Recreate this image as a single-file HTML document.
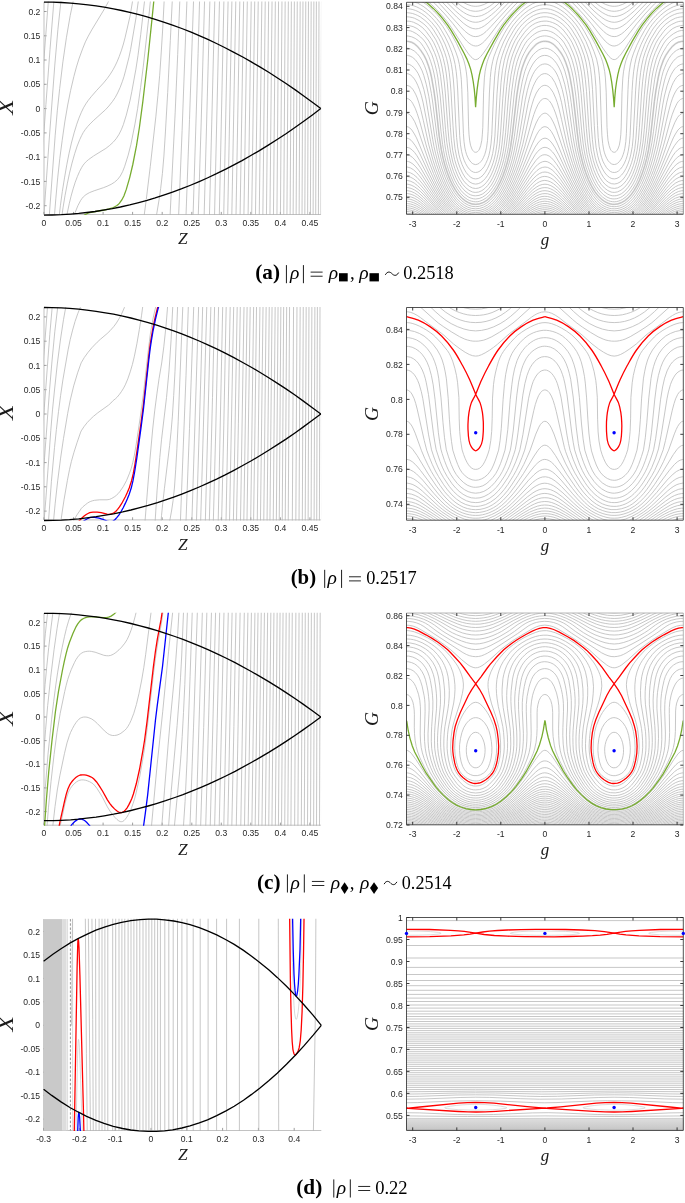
<!DOCTYPE html>
<html><head><meta charset="utf-8"><style>
html,body{margin:0;padding:0;background:#fff;}
body{width:685px;height:1203px;overflow:hidden;}
svg{display:block;will-change:transform;}
</style></head><body>
<svg width="685" height="1203" viewBox="0 0 685 1203"><path d="M44 1.8V214.5H320.8" fill="none" stroke="#a8a8a8" stroke-width="0.7"/>
<path d="M44 11.5h2.6" stroke="#777" stroke-width="0.7"/>
<text x="40.4" y="14.6" font-family="Liberation Sans" font-size="8.6" text-anchor="end" fill="#262626" >0.2</text>
<path d="M44 35.8h2.6" stroke="#777" stroke-width="0.7"/>
<text x="40.4" y="38.9" font-family="Liberation Sans" font-size="8.6" text-anchor="end" fill="#262626" >0.15</text>
<path d="M44 60h2.6" stroke="#777" stroke-width="0.7"/>
<text x="40.4" y="63.1" font-family="Liberation Sans" font-size="8.6" text-anchor="end" fill="#262626" >0.1</text>
<path d="M44 84.3h2.6" stroke="#777" stroke-width="0.7"/>
<text x="40.4" y="87.4" font-family="Liberation Sans" font-size="8.6" text-anchor="end" fill="#262626" >0.05</text>
<path d="M44 108.6h2.6" stroke="#777" stroke-width="0.7"/>
<text x="40.4" y="111.7" font-family="Liberation Sans" font-size="8.6" text-anchor="end" fill="#262626" >0</text>
<path d="M44 132.9h2.6" stroke="#777" stroke-width="0.7"/>
<text x="40.4" y="136" font-family="Liberation Sans" font-size="8.6" text-anchor="end" fill="#262626" >-0.05</text>
<path d="M44 157.2h2.6" stroke="#777" stroke-width="0.7"/>
<text x="40.4" y="160.2" font-family="Liberation Sans" font-size="8.6" text-anchor="end" fill="#262626" >-0.1</text>
<path d="M44 181.4h2.6" stroke="#777" stroke-width="0.7"/>
<text x="40.4" y="184.5" font-family="Liberation Sans" font-size="8.6" text-anchor="end" fill="#262626" >-0.15</text>
<path d="M44 205.7h2.6" stroke="#777" stroke-width="0.7"/>
<text x="40.4" y="208.8" font-family="Liberation Sans" font-size="8.6" text-anchor="end" fill="#262626" >-0.2</text>
<path d="M44 214.5v-2.6" stroke="#777" stroke-width="0.7"/>
<text x="44" y="225.7" font-family="Liberation Sans" font-size="8.6" text-anchor="middle" fill="#262626" >0</text>
<path d="M73.5 214.5v-2.6" stroke="#777" stroke-width="0.7"/>
<text x="73.5" y="225.7" font-family="Liberation Sans" font-size="8.6" text-anchor="middle" fill="#262626" >0.05</text>
<path d="M103.1 214.5v-2.6" stroke="#777" stroke-width="0.7"/>
<text x="103.1" y="225.7" font-family="Liberation Sans" font-size="8.6" text-anchor="middle" fill="#262626" >0.1</text>
<path d="M132.6 214.5v-2.6" stroke="#777" stroke-width="0.7"/>
<text x="132.6" y="225.7" font-family="Liberation Sans" font-size="8.6" text-anchor="middle" fill="#262626" >0.15</text>
<path d="M162.2 214.5v-2.6" stroke="#777" stroke-width="0.7"/>
<text x="162.2" y="225.7" font-family="Liberation Sans" font-size="8.6" text-anchor="middle" fill="#262626" >0.2</text>
<path d="M191.8 214.5v-2.6" stroke="#777" stroke-width="0.7"/>
<text x="191.8" y="225.7" font-family="Liberation Sans" font-size="8.6" text-anchor="middle" fill="#262626" >0.25</text>
<path d="M221.3 214.5v-2.6" stroke="#777" stroke-width="0.7"/>
<text x="221.3" y="225.7" font-family="Liberation Sans" font-size="8.6" text-anchor="middle" fill="#262626" >0.3</text>
<path d="M250.8 214.5v-2.6" stroke="#777" stroke-width="0.7"/>
<text x="250.8" y="225.7" font-family="Liberation Sans" font-size="8.6" text-anchor="middle" fill="#262626" >0.35</text>
<path d="M280.4 214.5v-2.6" stroke="#777" stroke-width="0.7"/>
<text x="280.4" y="225.7" font-family="Liberation Sans" font-size="8.6" text-anchor="middle" fill="#262626" >0.4</text>
<path d="M309.9 214.5v-2.6" stroke="#777" stroke-width="0.7"/>
<text x="309.9" y="225.7" font-family="Liberation Sans" font-size="8.6" text-anchor="middle" fill="#262626" >0.45</text>
<clipPath id="lca"><rect x="43.7" y="1.5" width="277.4" height="213.6"/></clipPath><g clip-path="url(#lca)"><g fill="none" stroke="#b4b4b4" stroke-width="0.75"><path d="M38.1 142.6L43.3 67.8L48.7 -4.0"/><path d="M38.1 219.6L41.9 161.3L45.9 104.6L50.0 49.6L54.3 -4.0"/><path d="M43.5 221.2L49.1 141.0L54.8 65.0L57.9 29.5L61.5 -4.0"/><path d="M48.9 221.2L55.2 135.2L57.3 110.8L59.7 88.5L62.9 61.8L66.4 37.7L70.2 15.6L74.3 -4.0"/><path d="M54.0 221.2L55.8 198.9L57.7 177.9L59.8 158.4L62.2 140.3L64.8 121.9L67.7 105.0L70.6 90.5L73.9 76.4L76.4 67.1L78.9 59.0L82.6 48.8L85.4 41.9L88.3 36.1L91.8 29.8L104.9 8.2L108.0 2.4L111.0 -4.0"/><path d="M58.6 221.2L60.4 205.7L62.3 191.6L64.5 177.9L66.8 164.7L69.1 153.1L71.4 143.1L74.1 132.9L76.8 124.1L78.9 118.2L81.4 112.2L83.5 107.8L85.8 103.9L88.3 100.3L91.6 96.2L96.4 90.7L103.5 83.0L107.2 78.5L110.2 74.3L113.0 69.8L115.1 65.9L117.0 61.9L119.2 56.6L121.5 50.1L123.4 44.0L125.0 37.9L130.1 15.9L133.4 -4.0"/><path d="M61.1 221.2L63.1 207.3L65.0 195.7L67.4 183.2L69.5 173.2L72.0 163.1L74.7 153.6L77.2 146.0L79.7 139.7L81.6 135.6L83.3 132.4L85.3 129.5L87.6 126.6L90.1 123.9L93.3 120.7L105.5 109.7L108.9 106.0L112.4 101.6L115.2 97.5L117.6 93.0L120.1 87.5L122.4 81.4L124.0 76.5L125.7 70.2L129.0 57.1L130.6 49.5L136.1 17.3L139.0 -4.0"/><path d="M65.6 221.2L69.3 203.4L71.0 196.4L73.1 188.9L75.2 182.3L77.4 176.5L79.5 171.6L81.6 167.6L83.1 165.2L84.7 163.2L86.4 161.4L88.5 159.6L93.7 155.9L105.9 148.4L109.7 145.4L113.2 142.2L116.1 138.8L118.8 134.7L121.3 129.8L123.4 124.5L126.3 115.1L130.1 100.2L131.8 91.6L135.9 69.2L138.0 55.4L140.7 34.7L145.1 -4.0"/><path d="M72.3 221.2L75.2 212.3L77.9 205.7L80.6 200.5L82.0 198.5L83.3 196.9L86.0 194.6L89.5 192.6L94.1 190.8L103.4 187.7L107.0 186.3L111.2 184.3L114.5 182.2L117.6 179.5L120.3 176.0L122.6 171.7L124.7 166.3L128.2 155.1L130.9 144.5L135.1 123.3L137.6 108.7L140.6 87.5L143.2 67.2L148.4 21.0L150.9 -4.0"/><path d="M143.4 221.2L146.3 199.3L150.3 166.2L155.9 116.2L157.9 95.5L159.7 75.2L161.2 53.0L162.8 27.2L164.4 -4.0"/><path d="M155.5 221.2L159.1 199.6L160.7 188.3L162.4 173.5L163.9 156.1L165.3 134.0L167.7 92.4L170.3 40.7L172.5 -4.0"/><path d="M169.8 221.2L175.2 112.1L177.7 54.5L180.0 -4.0"/><path d="M178.4 221.2L182.1 130.6L187.1 -4.0"/><path d="M185.8 221.2L189.5 119.4L193.7 -4.0"/><path d="M192.9 221.2L198.1 53.4L199.7 -4.0"/><path d="M198.1 221.2L201.2 122.0L204.7 -4.0"/><path d="M204.0 221.2L210.0 -4.0"/><path d="M209.3 221.2L214.9 -4.0"/><path d="M214.4 221.2L219.6 -4.0"/><path d="M219.2 221.2L224.0 -4.0"/><path d="M223.6 221.2L228.2 -4.0"/><path d="M227.6 221.2L232.0 -4.0"/><path d="M231.7 221.2L235.9 -4.0"/><path d="M235.9 221.2L239.9 -4.0"/><path d="M240.0 221.2L243.7 -4.0"/><path d="M243.8 221.2L247.4 -4.0"/><path d="M248.0 221.2L251.3 -4.0"/><path d="M251.6 221.2L254.8 -4.0"/><path d="M255.4 221.2L258.3 -4.0"/><path d="M259.2 221.2L261.9 -4.0"/><path d="M262.8 221.2L265.3 -4.0"/><path d="M266.4 221.2L268.7 -4.0"/><path d="M269.9 221.2L272.1 -4.0"/><path d="M273.4 221.2L275.4 -4.0"/><path d="M276.9 221.2L278.6 -4.0"/><path d="M280.4 221.2L282.0 -4.0"/><path d="M283.7 221.2L285.2 -4.0"/><path d="M286.9 221.2L288.4 -4.0"/><path d="M290.1 221.2L291.4 -4.0"/><path d="M293.1 221.2L294.4 -4.0"/><path d="M296.1 221.2L297.3 -4.0"/><path d="M299.1 221.2L300.2 -4.0"/><path d="M302.0 221.2L303.0 -4.0"/><path d="M304.8 221.2L305.8 -4.0"/><path d="M307.6 221.2L308.5 -4.0"/><path d="M310.4 221.2L311.2 -4.0"/><path d="M313.1 221.2L313.9 -4.0"/><path d="M315.7 221.2L316.4 -4.0"/><path d="M318.4 221.2L319.0 -4.0"/><path d="M320.9 221.2L321.5 -4.0"/></g><path d="M79.3 221.2L81.0 218.5L82.9 216.3L84.9 214.8L87.4 213.5L89.7 212.7L92.8 212.0L104.5 210.0L109.1 208.9L113.4 207.5L116.6 205.8L118.2 204.6L119.5 203.2L121.8 200.0L124.0 195.7L126.3 189.4L129.7 177.6L132.8 164.5L136.5 145.7L139.4 127.5L142.8 101.8L147.8 59.5L152.4 15.1L154.3 -4.0" fill="none" stroke="#77ac30" stroke-width="1.3"/></g><path d="M44.0 2.1L52.1 2.2L61.4 2.5L70.6 3.1L78.7 3.8L88.0 4.8L96.1 5.9L104.2 7.2L113.5 8.8L121.6 10.5L130.9 12.6L139.0 14.7L147.1 16.9L155.2 19.3L164.4 22.3L172.5 25.1L181.8 28.5L191.1 32.2L199.2 35.6L207.3 39.2L216.5 43.5L224.6 47.5L233.9 52.3L243.2 57.3L251.3 61.9L259.4 66.6L268.7 72.3L277.9 78.2L286.0 83.5L295.3 89.9L303.4 95.7L312.7 102.5L320.8 108.6" fill="none" stroke="#000" stroke-width="1.3"/><path d="M44.0 215.1L52.1 215.0L61.4 214.7L70.6 214.1L78.7 213.4L86.8 212.5L95.0 211.5L103.1 210.2L112.3 208.6L120.4 207.0L129.7 204.9L137.8 202.8L147.1 200.3L155.2 197.9L164.4 194.9L172.5 192.1L181.8 188.7L189.9 185.5L199.2 181.6L207.3 178.0L216.5 173.7L225.8 169.1L233.9 164.9L242.0 160.6L251.3 155.3L259.4 150.6L268.7 144.9L277.9 139.0L286.0 133.7L295.3 127.3L303.4 121.5L312.7 114.7L320.8 108.6" fill="none" stroke="#000" stroke-width="1.3"/>
<text x="182.7" y="244.1" font-family="Liberation Serif" font-size="17.3" text-anchor="middle" fill="#1a1a1a" font-style="italic" >Z</text>
<text transform="translate(13.0 107) rotate(-90)" x="0" y="0" font-family="Liberation Serif" font-style="italic" font-size="21.5" text-anchor="middle" textLength="15.4" lengthAdjust="spacingAndGlyphs" fill="#1a1a1a">X</text>
<path d="M44 307.2V519.9H320.8" fill="none" stroke="#a8a8a8" stroke-width="0.7"/>
<path d="M44 316.9h2.6" stroke="#777" stroke-width="0.7"/>
<text x="40.4" y="320" font-family="Liberation Sans" font-size="8.6" text-anchor="end" fill="#262626" >0.2</text>
<path d="M44 341.2h2.6" stroke="#777" stroke-width="0.7"/>
<text x="40.4" y="344.3" font-family="Liberation Sans" font-size="8.6" text-anchor="end" fill="#262626" >0.15</text>
<path d="M44 365.4h2.6" stroke="#777" stroke-width="0.7"/>
<text x="40.4" y="368.6" font-family="Liberation Sans" font-size="8.6" text-anchor="end" fill="#262626" >0.1</text>
<path d="M44 389.7h2.6" stroke="#777" stroke-width="0.7"/>
<text x="40.4" y="392.8" font-family="Liberation Sans" font-size="8.6" text-anchor="end" fill="#262626" >0.05</text>
<path d="M44 414h2.6" stroke="#777" stroke-width="0.7"/>
<text x="40.4" y="417.1" font-family="Liberation Sans" font-size="8.6" text-anchor="end" fill="#262626" >0</text>
<path d="M44 438.3h2.6" stroke="#777" stroke-width="0.7"/>
<text x="40.4" y="441.4" font-family="Liberation Sans" font-size="8.6" text-anchor="end" fill="#262626" >-0.05</text>
<path d="M44 462.6h2.6" stroke="#777" stroke-width="0.7"/>
<text x="40.4" y="465.7" font-family="Liberation Sans" font-size="8.6" text-anchor="end" fill="#262626" >-0.1</text>
<path d="M44 486.8h2.6" stroke="#777" stroke-width="0.7"/>
<text x="40.4" y="489.9" font-family="Liberation Sans" font-size="8.6" text-anchor="end" fill="#262626" >-0.15</text>
<path d="M44 511.1h2.6" stroke="#777" stroke-width="0.7"/>
<text x="40.4" y="514.2" font-family="Liberation Sans" font-size="8.6" text-anchor="end" fill="#262626" >-0.2</text>
<path d="M44 519.9v-2.6" stroke="#777" stroke-width="0.7"/>
<text x="44" y="531.1" font-family="Liberation Sans" font-size="8.6" text-anchor="middle" fill="#262626" >0</text>
<path d="M73.5 519.9v-2.6" stroke="#777" stroke-width="0.7"/>
<text x="73.5" y="531.1" font-family="Liberation Sans" font-size="8.6" text-anchor="middle" fill="#262626" >0.05</text>
<path d="M103.1 519.9v-2.6" stroke="#777" stroke-width="0.7"/>
<text x="103.1" y="531.1" font-family="Liberation Sans" font-size="8.6" text-anchor="middle" fill="#262626" >0.1</text>
<path d="M132.6 519.9v-2.6" stroke="#777" stroke-width="0.7"/>
<text x="132.6" y="531.1" font-family="Liberation Sans" font-size="8.6" text-anchor="middle" fill="#262626" >0.15</text>
<path d="M162.2 519.9v-2.6" stroke="#777" stroke-width="0.7"/>
<text x="162.2" y="531.1" font-family="Liberation Sans" font-size="8.6" text-anchor="middle" fill="#262626" >0.2</text>
<path d="M191.8 519.9v-2.6" stroke="#777" stroke-width="0.7"/>
<text x="191.8" y="531.1" font-family="Liberation Sans" font-size="8.6" text-anchor="middle" fill="#262626" >0.25</text>
<path d="M221.3 519.9v-2.6" stroke="#777" stroke-width="0.7"/>
<text x="221.3" y="531.1" font-family="Liberation Sans" font-size="8.6" text-anchor="middle" fill="#262626" >0.3</text>
<path d="M250.8 519.9v-2.6" stroke="#777" stroke-width="0.7"/>
<text x="250.8" y="531.1" font-family="Liberation Sans" font-size="8.6" text-anchor="middle" fill="#262626" >0.35</text>
<path d="M280.4 519.9v-2.6" stroke="#777" stroke-width="0.7"/>
<text x="280.4" y="531.1" font-family="Liberation Sans" font-size="8.6" text-anchor="middle" fill="#262626" >0.4</text>
<path d="M309.9 519.9v-2.6" stroke="#777" stroke-width="0.7"/>
<text x="309.9" y="531.1" font-family="Liberation Sans" font-size="8.6" text-anchor="middle" fill="#262626" >0.45</text>
<clipPath id="lcb"><rect x="43.7" y="306.9" width="277.4" height="213.6"/></clipPath><g clip-path="url(#lcb)"><g fill="none" stroke="#b4b4b4" stroke-width="0.75"><path d="M38.1 418.9L44.3 349.7L47.9 301.4"/><path d="M38.1 476.9L44.3 407.7L49.8 334.3L52.7 301.4"/><path d="M38.3 526.6L44.6 457.2L49.6 389.2L52.0 361.0L54.8 331.6L58.4 301.4"/><path d="M43.6 526.6L45.8 499.7L50.8 430.3L52.5 409.9L54.5 390.0L57.3 364.0L60.4 340.0L63.5 319.6L66.8 301.4"/><path d="M48.1 526.6L51.4 481.6L54.5 447.5L56.4 429.5L58.5 411.6L60.6 395.5L62.9 379.8L68.1 349.8L70.2 339.6L72.6 330.1L75.1 321.3L77.8 313.5L80.4 307.2L83.5 301.4"/><path d="M53.0 526.6L55.2 503.3L57.7 480.8L60.6 458.1L63.5 438.4L67.7 413.3L70.2 400.4L73.7 385.9L77.6 372.9L81.2 362.8L84.3 357.5L88.0 352.4L92.0 347.6L97.2 342.2L100.6 339.1L107.2 333.5L110.1 330.7L113.9 326.4L116.4 323.0L119.3 318.3L122.0 313.1L124.4 307.5L126.6 301.4"/><path d="M60.1 526.6L62.2 512.0L64.1 499.4L67.4 480.4L69.5 469.6L71.4 461.4L73.9 452.5L77.2 442.2L80.4 432.9L81.2 430.9L84.1 426.5L87.2 422.6L90.3 419.3L93.5 416.3L97.8 412.8L108.6 405.1L110.9 403.0L113.2 400.5L115.3 398.9L117.4 396.9L119.5 394.3L121.6 391.3L123.6 388.1L125.3 384.8L127.8 378.9L130.2 371.9L132.4 364.5L134.4 356.2L136.9 343.7L139.3 329.7L141.5 315.8L143.4 301.4"/><path d="M70.9 526.6L72.4 523.1L74.3 519.3L77.0 514.8L80.3 510.0L81.2 508.6L83.1 506.6L85.3 504.8L87.4 503.2L89.1 502.1L90.7 501.4L92.4 500.8L94.5 500.3L99.7 499.8L107.0 499.8L109.5 499.4L111.8 498.4L114.9 496.5L116.6 495.1L118.2 493.6L119.9 491.5L123.2 486.7L126.5 480.6L129.3 473.8L131.3 468.2L132.8 462.4L134.4 455.1L136.1 445.0L140.1 418.2L143.2 395.7L148.3 350.4L150.3 334.2L151.7 325.9L153.2 317.9L155.1 309.4L157.2 301.4"/><path d="M144.6 526.6L149.9 459.9L152.7 429.0L154.7 410.9L156.9 393.9L159.1 378.4L161.7 363.0L163.8 346.8L166.1 325.1L168.0 301.4"/><path d="M154.8 526.6L157.1 490.2L159.8 457.3L161.5 439.8L166.5 397.6L169.0 371.0L171.1 339.7L173.0 301.4"/><path d="M160.8 526.6L161.5 515.7L162.7 503.8L164.4 488.6L169.6 445.7L171.1 431.2L172.4 416.1L173.7 395.5L175.0 371.3L177.8 301.4"/><path d="M168.7 526.6L171.7 510.0L173.1 500.5L174.5 487.0L175.7 469.3L176.9 448.7L178.2 421.6L183.0 301.4"/><path d="M180.2 526.6L186.0 375.7L188.5 301.4"/><path d="M185.8 526.6L189.5 428.3L193.9 301.4"/><path d="M191.7 526.6L198.8 301.4"/><path d="M196.3 526.6L201.0 371.0L202.8 301.4"/><path d="M200.5 526.6L203.4 427.1L206.9 301.4"/><path d="M205.2 526.6L211.0 301.4"/><path d="M209.2 526.6L212.5 397.3L214.7 301.4"/><path d="M213.2 526.6L215.8 428.0L218.7 301.4"/><path d="M218.1 526.6L222.8 301.4"/><path d="M221.5 526.6L223.8 425.1L226.3 301.4"/><path d="M225.9 526.6L230.3 301.4"/><path d="M229.4 526.6L233.8 301.4"/><path d="M233.3 526.6L237.3 301.4"/><path d="M236.4 526.6L238.4 423.2L240.4 301.4"/><path d="M240.4 526.6L244.1 301.4"/><path d="M243.7 526.6L247.2 301.4"/><path d="M246.9 526.6L250.3 301.4"/><path d="M250.6 526.6L253.7 301.4"/><path d="M253.5 526.6L255.0 425.1L256.6 301.4"/><path d="M257.2 526.6L260.0 301.4"/><path d="M260.4 526.6L263.1 301.4"/><path d="M263.7 526.6L266.2 301.4"/><path d="M267.0 526.6L269.3 301.4"/><path d="M269.9 526.6L272.1 301.4"/><path d="M273.2 526.6L275.2 301.4"/><path d="M276.3 526.6L278.1 301.4"/><path d="M279.2 526.6L280.9 301.4"/><path d="M282.2 526.6L283.7 301.4"/><path d="M285.2 526.6L286.7 301.4"/><path d="M288.2 526.6L289.6 301.4"/><path d="M292.3 526.6L293.6 301.4"/><path d="M295.8 526.6L297.0 301.4"/><path d="M299.0 526.6L300.2 301.4"/><path d="M302.3 526.6L303.3 301.4"/><path d="M305.2 526.6L306.2 301.4"/><path d="M308.1 526.6L309.0 301.4"/><path d="M311.1 526.6L311.9 301.4"/><path d="M314.1 526.6L314.9 301.4"/><path d="M316.7 526.6L317.4 301.4"/><path d="M319.4 526.6L320.0 301.4"/><path d="M321.9 526.6L322.5 301.4"/></g><path d="M74.6 526.6L78.1 522.0L82.2 517.7L84.1 516.1L86.2 514.5L88.0 513.5L89.7 512.7L91.2 512.3L93.0 512.1L97.2 512.2L101.2 512.7L107.0 514.2L109.3 514.4L111.6 514.0L113.9 512.8L115.7 511.4L117.6 509.4L119.5 506.9L121.6 503.7L125.5 496.5L127.4 492.3L129.2 488.0L131.5 481.0L133.2 473.9L134.9 464.6L137.0 450.9L140.9 423.8L143.4 404.9L148.8 355.8L150.1 345.0L151.4 336.8L153.0 327.5L155.0 318.1L157.1 309.4L159.3 301.4" fill="none" stroke="#ff0000" stroke-width="1.3"/><path d="M77.4 526.6L82.2 522.2L84.9 520.2L88.1 518.3L89.7 517.7L91.0 517.4L92.6 517.3L94.5 517.4L99.1 518.2L102.0 519.0L107.2 521.1L109.3 521.7L111.3 521.7L113.2 521.1L115.1 519.5L117.0 517.4L119.0 514.8L121.1 511.5L123.2 507.7L125.3 503.4L127.4 498.7L129.2 494.3L131.3 487.8L133.0 480.7L134.7 471.4L136.9 457.6L140.9 428.7L143.4 409.5L148.8 359.9L150.1 349.1L151.5 339.9L153.2 330.0L155.5 319.1L157.7 310.1L160.2 301.4" fill="none" stroke="#0000ff" stroke-width="1.3"/></g><path d="M44.0 307.5L52.1 307.6L61.4 307.9L69.5 308.4L78.7 309.2L86.8 310.1L96.1 311.3L105.4 312.8L113.5 314.2L122.7 316.1L130.9 318.0L139.0 320.1L148.2 322.6L157.5 325.4L165.6 328.1L173.7 330.9L181.8 333.9L189.9 337.1L199.2 341.0L207.3 344.6L216.6 348.9L224.7 352.9L233.9 357.7L243.2 362.7L251.3 367.2L260.6 372.7L268.7 377.7L277.9 383.6L286.0 388.9L295.3 395.3L303.4 401.1L312.7 407.9L320.8 414.0" fill="none" stroke="#000" stroke-width="1.3"/><path d="M44.0 520.5L53.3 520.4L61.4 520.1L69.5 519.6L78.7 518.8L86.8 517.9L96.1 516.7L105.4 515.2L113.5 513.8L122.7 511.9L130.9 510.0L139.0 507.9L148.2 505.4L157.5 502.6L165.6 499.9L173.7 497.1L181.8 494.1L189.9 490.9L199.2 487.0L207.3 483.4L216.6 479.1L224.7 475.1L233.9 470.3L243.2 465.3L251.3 460.8L260.6 455.3L268.7 450.3L277.9 444.4L286.0 439.1L295.3 432.7L303.4 426.9L312.7 420.1L320.8 414.0" fill="none" stroke="#000" stroke-width="1.3"/>
<text x="182.7" y="549.5" font-family="Liberation Serif" font-size="17.3" text-anchor="middle" fill="#1a1a1a" font-style="italic" >Z</text>
<text transform="translate(13.0 412.4) rotate(-90)" x="0" y="0" font-family="Liberation Serif" font-style="italic" font-size="21.5" text-anchor="middle" textLength="15.4" lengthAdjust="spacingAndGlyphs" fill="#1a1a1a">X</text>
<path d="M44 613V825.2H320.8" fill="none" stroke="#a8a8a8" stroke-width="0.7"/>
<path d="M44 622.4h2.6" stroke="#777" stroke-width="0.7"/>
<text x="40.4" y="625.5" font-family="Liberation Sans" font-size="8.6" text-anchor="end" fill="#262626" >0.2</text>
<path d="M44 646.1h2.6" stroke="#777" stroke-width="0.7"/>
<text x="40.4" y="649.2" font-family="Liberation Sans" font-size="8.6" text-anchor="end" fill="#262626" >0.15</text>
<path d="M44 669.7h2.6" stroke="#777" stroke-width="0.7"/>
<text x="40.4" y="672.8" font-family="Liberation Sans" font-size="8.6" text-anchor="end" fill="#262626" >0.1</text>
<path d="M44 693.4h2.6" stroke="#777" stroke-width="0.7"/>
<text x="40.4" y="696.5" font-family="Liberation Sans" font-size="8.6" text-anchor="end" fill="#262626" >0.05</text>
<path d="M44 717h2.6" stroke="#777" stroke-width="0.7"/>
<text x="40.4" y="720.1" font-family="Liberation Sans" font-size="8.6" text-anchor="end" fill="#262626" >0</text>
<path d="M44 740.6h2.6" stroke="#777" stroke-width="0.7"/>
<text x="40.4" y="743.7" font-family="Liberation Sans" font-size="8.6" text-anchor="end" fill="#262626" >-0.05</text>
<path d="M44 764.3h2.6" stroke="#777" stroke-width="0.7"/>
<text x="40.4" y="767.4" font-family="Liberation Sans" font-size="8.6" text-anchor="end" fill="#262626" >-0.1</text>
<path d="M44 787.9h2.6" stroke="#777" stroke-width="0.7"/>
<text x="40.4" y="791" font-family="Liberation Sans" font-size="8.6" text-anchor="end" fill="#262626" >-0.15</text>
<path d="M44 811.6h2.6" stroke="#777" stroke-width="0.7"/>
<text x="40.4" y="814.7" font-family="Liberation Sans" font-size="8.6" text-anchor="end" fill="#262626" >-0.2</text>
<path d="M44 825.2v-2.6" stroke="#777" stroke-width="0.7"/>
<text x="44" y="836.4" font-family="Liberation Sans" font-size="8.6" text-anchor="middle" fill="#262626" >0</text>
<path d="M73.5 825.2v-2.6" stroke="#777" stroke-width="0.7"/>
<text x="73.5" y="836.4" font-family="Liberation Sans" font-size="8.6" text-anchor="middle" fill="#262626" >0.05</text>
<path d="M103.1 825.2v-2.6" stroke="#777" stroke-width="0.7"/>
<text x="103.1" y="836.4" font-family="Liberation Sans" font-size="8.6" text-anchor="middle" fill="#262626" >0.1</text>
<path d="M132.6 825.2v-2.6" stroke="#777" stroke-width="0.7"/>
<text x="132.6" y="836.4" font-family="Liberation Sans" font-size="8.6" text-anchor="middle" fill="#262626" >0.15</text>
<path d="M162.2 825.2v-2.6" stroke="#777" stroke-width="0.7"/>
<text x="162.2" y="836.4" font-family="Liberation Sans" font-size="8.6" text-anchor="middle" fill="#262626" >0.2</text>
<path d="M191.8 825.2v-2.6" stroke="#777" stroke-width="0.7"/>
<text x="191.8" y="836.4" font-family="Liberation Sans" font-size="8.6" text-anchor="middle" fill="#262626" >0.25</text>
<path d="M221.3 825.2v-2.6" stroke="#777" stroke-width="0.7"/>
<text x="221.3" y="836.4" font-family="Liberation Sans" font-size="8.6" text-anchor="middle" fill="#262626" >0.3</text>
<path d="M250.8 825.2v-2.6" stroke="#777" stroke-width="0.7"/>
<text x="250.8" y="836.4" font-family="Liberation Sans" font-size="8.6" text-anchor="middle" fill="#262626" >0.35</text>
<path d="M280.4 825.2v-2.6" stroke="#777" stroke-width="0.7"/>
<text x="280.4" y="836.4" font-family="Liberation Sans" font-size="8.6" text-anchor="middle" fill="#262626" >0.4</text>
<path d="M309.9 825.2v-2.6" stroke="#777" stroke-width="0.7"/>
<text x="309.9" y="836.4" font-family="Liberation Sans" font-size="8.6" text-anchor="middle" fill="#262626" >0.45</text>
<clipPath id="lcc"><rect x="43.7" y="612.7" width="277.4" height="213.1"/></clipPath><g clip-path="url(#lcc)"><g fill="none" stroke="#b4b4b4" stroke-width="0.75"><path d="M38.1 729.2L40.6 691.5L43.0 659.9L45.4 633.2L48.2 607.3"/><path d="M38.1 786.3L41.7 728.0L45.1 684.3L46.8 666.2L48.7 647.7L51.1 626.9L53.6 607.3"/><path d="M39.0 831.4L41.4 790.7L43.5 757.4L45.6 729.5L47.7 705.5L50.6 677.9L54.1 649.3L57.0 628.9L60.5 607.3"/><path d="M42.5 831.4L45.2 789.1L48.0 754.2L51.6 719.3L53.7 701.3L55.8 685.0L57.7 672.1L59.8 659.6L62.2 647.3L64.5 636.4L66.4 628.5L68.5 621.2L71.0 613.8L73.6 607.3"/><path d="M46.6 831.4L48.5 807.1L51.0 781.6L54.1 754.3L57.0 732.5L60.2 713.3L64.7 691.6L66.2 685.2L67.7 679.6L69.3 674.8L71.2 669.7L74.5 662.4L76.0 659.6L77.6 657.2L78.9 655.4L80.3 654.1L81.8 653.0L83.3 652.2L85.3 651.6L87.2 651.3L89.3 651.2L91.4 651.4L95.1 652.2L103.9 655.3L106.3 655.7L108.4 655.8L110.7 655.4L113.2 654.3L115.9 652.5L119.0 649.8L121.7 647.1L124.9 643.1L127.1 639.6L129.0 635.5L131.1 630.1L133.2 623.6L135.3 615.8L137.3 607.3"/><path d="M52.2 831.4L55.0 806.7L57.3 790.0L59.8 775.8L64.5 753.3L67.0 742.9L69.3 735.7L70.6 732.4L72.4 728.7L74.3 725.2L76.0 722.6L77.6 720.6L78.9 719.2L80.3 718.2L81.8 717.5L83.3 717.1L85.1 717.0L87.0 717.2L88.9 717.8L91.8 719.0L94.7 721.1L97.4 723.6L104.5 730.9L107.6 733.5L109.3 734.5L110.9 735.1L112.6 735.5L114.5 735.5L117.0 735.1L119.3 734.2L120.9 733.3L124.7 730.4L126.5 728.5L128.0 726.3L129.6 723.5L131.1 720.3L133.8 713.3L136.4 704.5L139.0 693.5L141.7 680.0L143.8 667.6L145.7 654.3L151.7 607.3"/><path d="M59.0 831.4L65.0 803.5L66.8 797.0L68.3 792.6L69.3 790.4L70.4 788.4L71.6 786.7L73.1 784.9L74.9 783.2L76.6 781.8L78.3 780.8L79.9 780.2L81.6 779.9L83.3 779.9L85.3 780.2L87.4 780.8L89.5 781.7L91.2 782.6L92.8 783.6L94.3 785.1L96.9 788.3L99.9 793.0L102.7 797.7L107.4 806.9L110.1 811.3L112.4 814.4L114.9 817.4L117.0 819.5L118.8 820.9L120.3 821.6L121.7 821.7L122.6 821.5L124.0 820.6L125.3 819.2L126.9 817.1L128.4 814.5L129.9 811.5L131.7 807.4L133.2 803.2L134.8 798.1L136.3 792.1L139.8 776.1L143.0 757.9L145.0 745.1L147.3 727.4L153.6 672.7L155.4 658.5L157.3 646.0L161.3 624.1L163.7 607.3"/><path d="M151.0 831.4L157.2 764.1L162.7 711.8L168.6 651.2L173.2 607.3"/><path d="M161.4 831.4L164.5 790.1L168.1 745.1L170.2 721.0L174.1 679.8L175.8 659.9L177.7 634.2L179.2 607.3"/><path d="M168.2 831.4L171.1 792.4L177.1 725.6L179.2 698.0L180.5 677.8L181.7 656.0L183.7 607.3"/><path d="M173.9 831.4L179.7 771.1L181.0 754.8L182.2 736.5L183.5 712.5L184.8 684.6L187.6 607.3"/><path d="M183.1 831.4L185.1 801.3L187.0 760.9L190.1 676.2L192.4 607.3"/><path d="M189.8 831.4L193.5 727.9L197.5 607.3"/><path d="M195.8 831.4L202.5 607.3"/><path d="M200.5 831.4L203.7 727.5L207.0 607.3"/><path d="M205.6 831.4L211.6 607.3"/><path d="M210.1 831.4L213.1 715.0L215.7 607.3"/><path d="M214.5 831.4L217.2 723.4L219.8 607.3"/><path d="M219.1 831.4L224.1 607.3"/><path d="M223.7 831.4L228.4 607.3"/><path d="M227.7 831.4L232.2 607.3"/><path d="M231.7 831.4L233.9 726.6L236.1 607.3"/><path d="M236.2 831.4L240.2 607.3"/><path d="M240.7 831.4L244.4 607.3"/><path d="M244.4 831.4L248.0 607.3"/><path d="M248.1 831.4L251.5 607.3"/><path d="M251.8 831.4L255.0 607.3"/><path d="M255.1 831.4L258.1 607.3"/><path d="M258.5 831.4L261.3 607.3"/><path d="M261.9 831.4L264.5 607.3"/><path d="M265.3 831.4L267.7 607.3"/><path d="M268.7 831.4L270.9 607.3"/><path d="M271.9 831.4L274.0 607.3"/><path d="M275.3 831.4L277.2 607.3"/><path d="M278.4 831.4L280.1 607.3"/><path d="M281.5 831.4L283.1 607.3"/><path d="M284.7 831.4L286.2 607.3"/><path d="M287.8 831.4L289.3 607.3"/><path d="M290.9 831.4L292.3 607.3"/><path d="M294.6 831.4L295.9 607.3"/><path d="M297.9 831.4L299.1 607.3"/><path d="M301.3 831.4L302.3 607.3"/><path d="M304.3 831.4L305.3 607.3"/><path d="M307.5 831.4L308.4 607.3"/><path d="M310.5 831.4L311.4 607.3"/><path d="M313.6 831.4L314.4 607.3"/><path d="M316.5 831.4L317.2 607.3"/><path d="M319.5 831.4L320.2 607.3"/><path d="M322.3 831.4L322.9 607.3"/></g><path d="M44.2 831.4L46.4 799.8L48.7 772.1L52.0 740.4L55.4 711.8L58.5 691.3L62.4 670.5L64.3 661.4L66.0 654.1L67.7 647.7L69.5 642.3L72.8 633.7L76.0 626.8L77.6 624.1L78.9 622.3L80.5 620.6L82.0 619.4L83.5 618.5L85.5 617.7L87.6 617.1L89.7 616.8L93.9 616.8L103.6 617.7L106.3 617.6L108.6 617.1L111.1 616.1L113.8 614.2L116.8 611.4L120.7 607.3" fill="none" stroke="#77ac30" stroke-width="1.3"/><path d="M58.1 831.4L60.0 821.6L64.5 801.3L66.2 794.4L67.9 788.9L69.9 784.6L71.0 782.8L72.4 781.0L74.1 779.1L75.8 777.5L77.6 776.2L79.1 775.5L80.6 775.0L82.4 774.8L84.1 774.9L86.2 775.2L88.5 775.9L90.7 776.8L92.4 777.8L93.9 779.0L96.6 782.0L99.6 786.3L102.5 791.0L107.4 799.8L109.9 803.6L112.0 806.2L114.5 808.9L116.7 810.7L118.6 812.0L120.1 812.5L121.5 812.6L122.8 812.2L124.2 811.3L125.5 809.9L127.1 807.8L128.8 804.9L130.3 801.9L131.9 798.3L133.4 794.0L136.3 783.8L139.6 769.0L142.8 751.2L144.6 740.0L147.1 721.2L153.4 666.6L155.4 651.5L157.3 639.4L161.1 619.4L162.9 607.3" fill="none" stroke="#ff0000" stroke-width="1.3"/><path d="M68.3 831.4L69.3 828.9L70.4 826.7L71.8 824.7L73.3 822.9L75.3 821.1L77.0 819.9L78.7 819.2L80.3 819.0L81.8 819.2L83.3 819.8L84.9 820.7L86.6 822.2L88.5 824.3L90.3 826.5L91.8 828.9L93.2 831.4" fill="none" stroke="#0000ff" stroke-width="1.3"/><path d="M142.8 831.4L145.3 813.4L147.7 794.6L155.5 719.8L157.3 705.1L162.5 666.6L168.9 607.3" fill="none" stroke="#0000ff" stroke-width="1.3"/></g><path d="M44.0 613.3L53.3 613.4L61.4 613.7L70.6 614.2L78.7 614.9L86.9 615.8L96.1 616.9L104.2 618.2L113.5 619.8L121.6 621.4L130.9 623.5L140.1 625.8L148.2 628.0L156.4 630.4L165.6 633.3L174.9 636.5L183.0 639.4L191.1 642.6L200.4 646.4L208.5 649.9L217.7 654.1L225.8 658.0L235.1 662.7L251.3 671.5L259.4 676.1L268.7 681.6L278.0 687.4L286.1 692.6L295.3 698.8L303.4 704.4L312.7 711.0L320.8 717.0" fill="none" stroke="#000" stroke-width="1.3"/><path d="M44.0 820.7L53.3 820.6L61.4 820.3L70.6 819.8L78.7 819.1L86.9 818.2L96.1 817.1L104.2 815.8L113.5 814.2L121.6 812.6L130.9 810.5L140.1 808.2L148.2 806.0L156.4 803.6L165.6 800.7L174.9 797.5L183.0 794.6L191.1 791.4L200.4 787.6L208.5 784.1L217.7 779.9L225.8 776.0L235.1 771.3L251.3 762.5L259.4 757.9L268.7 752.4L278.0 746.6L286.1 741.4L295.3 735.2L303.4 729.6L312.7 723.0L320.8 717.0" fill="none" stroke="#000" stroke-width="1.3"/>
<text x="182.7" y="854.8" font-family="Liberation Serif" font-size="17.3" text-anchor="middle" fill="#1a1a1a" font-style="italic" >Z</text>
<text transform="translate(13.0 718) rotate(-90)" x="0" y="0" font-family="Liberation Serif" font-style="italic" font-size="21.5" text-anchor="middle" textLength="15.4" lengthAdjust="spacingAndGlyphs" fill="#1a1a1a">X</text>
<path d="M43.6 919.1V1130.5H321.3" fill="none" stroke="#a8a8a8" stroke-width="0.7"/>
<path d="M43.6 931.5h2.6" stroke="#777" stroke-width="0.7"/>
<text x="40" y="934.6" font-family="Liberation Sans" font-size="8.6" text-anchor="end" fill="#262626" >0.2</text>
<path d="M43.6 954.9h2.6" stroke="#777" stroke-width="0.7"/>
<text x="40" y="958" font-family="Liberation Sans" font-size="8.6" text-anchor="end" fill="#262626" >0.15</text>
<path d="M43.6 978.4h2.6" stroke="#777" stroke-width="0.7"/>
<text x="40" y="981.5" font-family="Liberation Sans" font-size="8.6" text-anchor="end" fill="#262626" >0.1</text>
<path d="M43.6 1001.8h2.6" stroke="#777" stroke-width="0.7"/>
<text x="40" y="1004.9" font-family="Liberation Sans" font-size="8.6" text-anchor="end" fill="#262626" >0.05</text>
<path d="M43.6 1025.3h2.6" stroke="#777" stroke-width="0.7"/>
<text x="40" y="1028.4" font-family="Liberation Sans" font-size="8.6" text-anchor="end" fill="#262626" >0</text>
<path d="M43.6 1048.8h2.6" stroke="#777" stroke-width="0.7"/>
<text x="40" y="1051.8" font-family="Liberation Sans" font-size="8.6" text-anchor="end" fill="#262626" >-0.05</text>
<path d="M43.6 1072.2h2.6" stroke="#777" stroke-width="0.7"/>
<text x="40" y="1075.3" font-family="Liberation Sans" font-size="8.6" text-anchor="end" fill="#262626" >-0.1</text>
<path d="M43.6 1095.6h2.6" stroke="#777" stroke-width="0.7"/>
<text x="40" y="1098.7" font-family="Liberation Sans" font-size="8.6" text-anchor="end" fill="#262626" >-0.15</text>
<path d="M43.6 1119.1h2.6" stroke="#777" stroke-width="0.7"/>
<text x="40" y="1122.2" font-family="Liberation Sans" font-size="8.6" text-anchor="end" fill="#262626" >-0.2</text>
<path d="M43.6 1130.5v-2.6" stroke="#777" stroke-width="0.7"/>
<text x="43.6" y="1141.7" font-family="Liberation Sans" font-size="8.6" text-anchor="middle" fill="#262626" >-0.3</text>
<path d="M79.4 1130.5v-2.6" stroke="#777" stroke-width="0.7"/>
<text x="79.4" y="1141.7" font-family="Liberation Sans" font-size="8.6" text-anchor="middle" fill="#262626" >-0.2</text>
<path d="M115.2 1130.5v-2.6" stroke="#777" stroke-width="0.7"/>
<text x="115.2" y="1141.7" font-family="Liberation Sans" font-size="8.6" text-anchor="middle" fill="#262626" >-0.1</text>
<path d="M151 1130.5v-2.6" stroke="#777" stroke-width="0.7"/>
<text x="151" y="1141.7" font-family="Liberation Sans" font-size="8.6" text-anchor="middle" fill="#262626" >0</text>
<path d="M186.8 1130.5v-2.6" stroke="#777" stroke-width="0.7"/>
<text x="186.8" y="1141.7" font-family="Liberation Sans" font-size="8.6" text-anchor="middle" fill="#262626" >0.1</text>
<path d="M222.6 1130.5v-2.6" stroke="#777" stroke-width="0.7"/>
<text x="222.6" y="1141.7" font-family="Liberation Sans" font-size="8.6" text-anchor="middle" fill="#262626" >0.2</text>
<path d="M258.4 1130.5v-2.6" stroke="#777" stroke-width="0.7"/>
<text x="258.4" y="1141.7" font-family="Liberation Sans" font-size="8.6" text-anchor="middle" fill="#262626" >0.3</text>
<path d="M294.2 1130.5v-2.6" stroke="#777" stroke-width="0.7"/>
<text x="294.2" y="1141.7" font-family="Liberation Sans" font-size="8.6" text-anchor="middle" fill="#262626" >0.4</text>
<clipPath id="lcd"><rect x="43.3" y="918.8" width="278.3" height="212.3"/></clipPath><g clip-path="url(#lcd)"><rect x="43.6" y="919.1" width="18.6" height="211.4" fill="#c9c9c9"/><rect x="62.2" y="919.1" width="4.4" height="211.4" fill="#dddddd"/><path d="M67.6 919.1V1130.5M72.6 919.1V1130.5" stroke="#d2d2d2" stroke-width="0.8"/><path d="M70.4 919.1V1130.5" stroke="#666" stroke-width="0.7" stroke-dasharray="2.4 1.8"/><g fill="none" stroke="#b4b4b4" stroke-width="0.75"><path d="M87.3 1136.7L86.4 1053.4L85.3 913.4"/><path d="M72.5 913.4L71.6 1025.6"/><path d="M90.5 1136.7L88.3 913.4"/><path d="M93.3 1136.7L92.7 1019.5L91.9 913.4"/><path d="M96.0 1136.7L95.5 913.4"/><path d="M99.1 1136.7L99.1 913.4"/><path d="M102.0 1136.7L102.0 913.4"/><path d="M104.9 1136.7L104.9 913.4"/><path d="M107.8 1136.7L107.8 913.4"/><path d="M112.7 1136.7L112.7 913.4"/><path d="M115.7 1136.7L115.7 913.4"/><path d="M119.0 1136.7L119.0 913.4"/><path d="M121.9 1136.7L121.9 913.4"/><path d="M124.8 1136.7L124.8 913.4"/><path d="M128.1 1136.7L128.1 913.4"/><path d="M131.0 1136.7L131.0 913.4"/><path d="M133.9 1136.7L133.9 913.4"/><path d="M136.8 1136.7L136.8 913.4"/><path d="M139.8 1136.7L139.8 913.4"/><path d="M143.0 1136.7L143.0 913.4"/><path d="M146.0 1136.7L146.0 913.4"/><path d="M148.9 1136.7L148.9 913.4"/><path d="M151.8 1136.7L151.8 913.4"/><path d="M154.7 1136.7L154.7 913.4"/><path d="M157.6 1136.7L157.6 913.4"/><path d="M160.4 1136.7L160.4 913.4"/><path d="M164.8 1136.7L164.8 913.4"/><path d="M168.8 1136.7L168.8 913.4"/><path d="M173.2 1136.7L173.2 913.4"/><path d="M177.5 1136.7L177.5 913.4"/><path d="M181.9 1136.7L181.9 913.4"/><path d="M187.0 1136.7L187.0 913.4"/><path d="M193.2 1136.7L193.2 913.4"/><path d="M200.2 1136.7L200.2 913.4"/><path d="M208.1 1136.7L208.1 913.4"/><path d="M216.6 1136.7L216.6 913.4"/><path d="M226.6 1136.7L226.6 913.4"/><path d="M239.4 1136.7L239.4 913.4"/><path d="M258.8 1136.7L258.8 913.4"/><path d="M278.7 1136.7L278.3 913.4"/><path d="M315.9 913.4L315.6 974.0L315.3 1017.5L313.3 1136.7"/></g><path d="M82.5 1136.7L80.1 1063.8L79.4 1047.2L79.0 1041.9L78.6 1039.4L78.4 1039.6L78.2 1041.0L78.0 1043.5L77.5 1058.8L75.9 1136.7" fill="none" stroke="#cfcfcf" stroke-width="0.8"/><path d="M301.8 913.4L300.8 960.9L300.3 978.5L299.7 992.7L299.0 1003.3L298.2 1011.8L297.2 1017.5L296.6 1019.1L296.2 1019.4L295.8 1019.2L295.5 1018.3L294.7 1013.9L294.0 1005.3L293.4 994.3L292.4 962.6L291.7 913.4" fill="none" stroke="#cfcfcf" stroke-width="0.8"/><path d="M304.1 913.4L303.5 953.4L302.9 984.7L302.1 1011.5L301.2 1029.7L300.3 1040.6L299.7 1044.6L299.1 1047.9L298.3 1050.5L297.2 1053.0L296.0 1054.5L295.5 1054.8L295.1 1054.9L294.3 1054.4L293.9 1053.5L293.4 1051.7L292.9 1049.3L292.2 1041.8L291.6 1029.7L291.0 1010.0L290.4 981.5L289.6 913.4" fill="none" stroke="#ff0000" stroke-width="1.3"/><path d="M84.0 1136.7L83.5 1112.9L79.9 975.0L79.0 947.5L78.6 941.1L78.2 938.6L77.9 941.0L77.7 945.9L77.1 967.9L74.2 1136.7" fill="none" stroke="#ff0000" stroke-width="1.3"/><path d="M300.8 913.4L300.0 949.5L298.9 974.5L298.3 984.2L297.6 991.2L297.0 994.7L296.6 995.8L296.2 996.2L295.8 995.6L295.6 994.8L295.1 990.9L294.5 983.8L294.0 974.5L293.2 949.2L292.5 913.4" fill="none" stroke="#0000ff" stroke-width="1.3"/><path d="M80.7 1136.7L79.6 1117.0L79.2 1113.6L79.0 1112.7L78.8 1112.5L78.5 1114.3L78.2 1117.8L77.5 1136.7" fill="none" stroke="#0000ff" stroke-width="1.3"/></g><path d="M43.6 961.3L52.9 954.3L61.0 948.7L70.3 942.9L78.5 938.4L87.8 933.8L95.9 930.2L105.2 926.8L113.3 924.3L121.5 922.3L130.8 920.6L140.1 919.6L148.2 919.2L156.3 919.2L164.5 919.8L173.8 921.0L181.9 922.6L190.0 924.7L199.3 927.7L207.5 930.8L216.7 934.9L226.0 939.7L234.2 944.4L243.5 950.4L251.6 956.2L259.7 962.4L269.0 970.1L277.2 977.4L286.5 986.3L294.6 994.6L303.9 1004.7L313.2 1015.4L321.3 1025.3" fill="none" stroke="#000" stroke-width="1.3"/><path d="M43.6 1089.3L51.7 1095.4L61.0 1101.9L70.3 1107.7L78.5 1112.2L86.6 1116.3L95.9 1120.4L104.0 1123.4L113.3 1126.3L122.6 1128.5L130.8 1130.0L138.9 1130.9L148.2 1131.4L156.3 1131.4L164.5 1130.8L172.6 1129.8L181.9 1128.0L190.0 1125.9L199.3 1122.9L207.5 1119.8L216.7 1115.7L226.0 1110.9L234.2 1106.2L243.5 1100.2L251.6 1094.4L259.7 1088.2L269.0 1080.5L277.2 1073.2L286.5 1064.3L295.8 1054.8L303.9 1045.9L313.2 1035.2L321.3 1025.3" fill="none" stroke="#000" stroke-width="1.3"/>
<text x="182.7" y="1160.1" font-family="Liberation Serif" font-size="17.3" text-anchor="middle" fill="#1a1a1a" font-style="italic" >Z</text>
<text transform="translate(13.0 1023.7) rotate(-90)" x="0" y="0" font-family="Liberation Serif" font-style="italic" font-size="21.5" text-anchor="middle" textLength="15.4" lengthAdjust="spacingAndGlyphs" fill="#1a1a1a">X</text>
<clipPath id="rca"><rect x="406.5" y="2.3" width="276.8" height="212.0"/></clipPath><g clip-path="url(#rca)"><path d="M404.7 41.4L408.0 41.4L411.4 42.2L414.4 43.8L417.5 46.5L421.0 50.8L424.1 55.5L426.4 60.2L428.7 66.5L430.2 71.5L431.4 76.7L433.9 90.6L435.4 101.5L439.2 136.0L441.3 149.9L443.1 158.4L445.0 165.6L447.5 173.2L450.1 179.9L452.7 185.3L455.7 190.4L458.7 194.7L461.9 198.1L465.2 200.8L468.5 202.7L472.1 204.0L475.6 204.4L479.5 203.9L483.3 202.5L487.1 200.2L490.7 196.9L494.0 192.9L497.3 187.8L500.3 182.0L503.0 175.6L505.3 169.0L507.3 162.3L509.0 155.0L510.5 147.5L512.4 134.2L516.9 94.5L518.9 82.1L520.9 72.7L522.2 67.9L523.8 63.4L525.4 59.3L527.1 55.8L529.1 52.5L531.5 49.3L534.1 46.4L536.3 44.3L537.9 43.2L539.7 42.3L541.5 41.7L543.5 41.3L545.5 41.3L547.3 41.5L549.1 41.9L550.9 42.7L552.6 43.7L554.2 44.9L557.5 48.3L561.1 53.1L563.7 57.6L565.7 62.4L567.7 68.2L569.2 73.7L570.5 80.1L572.0 88.5L573.3 97.6L577.3 133.0L579.0 146.0L580.3 152.9L582.0 160.2L583.6 166.2L585.6 172.3L588.4 179.6L591.4 185.9L594.9 191.7L598.4 196.2L602.2 199.8L604.2 201.2L606.3 202.4L608.3 203.3L610.3 203.9L612.4 204.3L614.4 204.4L618.0 203.9L621.3 202.7L624.8 200.7L628.0 198.0L631.1 194.7L634.1 190.4L637.1 185.3L639.7 179.9L642.3 173.2L644.8 165.6L646.7 158.4L648.5 149.9L650.6 136.0L654.4 101.5L655.9 90.6L658.4 76.7L659.6 71.5L661.1 66.5L663.4 60.2L665.7 55.5L668.8 50.8L672.3 46.5L675.4 43.8L678.4 42.2L681.8 41.4L685.1 41.4" fill="none" stroke="#dedede" stroke-width="1.8"/><g fill="none" stroke="#b9b9b9" stroke-width="0.8"><path d="M464.6 -1.7L467.5 -0.3L470.3 0.7L473.1 1.2L475.6 1.4L478.4 1.2L481.3 0.6L484.1 -0.4L486.8 -1.7"/><path d="M603.0 -1.7L605.7 -0.4L608.5 0.6L611.4 1.2L614.2 1.4L616.7 1.2L619.5 0.7L622.3 -0.3L625.2 -1.7"/><path d="M457.4 -1.7L462.4 1.9L467.0 4.3L471.3 5.8L473.6 6.2L475.6 6.3L477.7 6.2L480.0 5.8L484.3 4.4L488.9 1.9L494.0 -1.7"/><path d="M595.8 -1.7L600.9 1.9L605.5 4.4L609.8 5.8L612.1 6.2L614.2 6.3L616.2 6.2L618.5 5.8L622.8 4.3L627.4 1.9L632.4 -1.7"/><path d="M452.0 -1.7L459.1 4.3L462.1 6.5L464.9 8.2L467.7 9.6L470.5 10.6L473.1 11.1L475.6 11.3L478.2 11.1L480.7 10.6L483.5 9.6L486.4 8.2L489.2 6.6L492.2 4.4L499.4 -1.7"/><path d="M590.4 -1.7L597.6 4.4L600.6 6.6L603.4 8.2L606.3 9.6L609.1 10.6L611.6 11.1L614.2 11.3L616.7 11.1L619.3 10.6L622.1 9.6L624.9 8.2L627.7 6.5L630.7 4.3L637.8 -1.7"/><path d="M447.2 -1.7L456.5 7.0L460.3 10.1L463.6 12.4L466.7 14.2L469.8 15.5L472.8 16.3L475.6 16.6L478.4 16.3L481.5 15.6L484.6 14.2L487.6 12.5L490.9 10.2L494.8 7.1L504.2 -1.7"/><path d="M585.6 -1.7L595.0 7.1L598.9 10.2L602.2 12.5L605.2 14.2L608.3 15.6L611.4 16.3L614.2 16.6L617.0 16.3L620.0 15.5L623.1 14.2L626.2 12.4L629.5 10.1L633.3 7.0L642.6 -1.7"/><path d="M442.7 -1.7L455.5 10.9L459.6 14.5L463.1 17.3L466.7 19.6L469.8 21.1L472.8 22.0L475.6 22.3L478.4 22.0L481.5 21.1L484.6 19.7L488.1 17.4L491.7 14.6L495.8 11.0L508.7 -1.7"/><path d="M581.1 -1.7L594.0 11.0L598.1 14.6L601.7 17.4L605.2 19.7L608.3 21.1L611.4 22.0L614.2 22.3L617.0 22.0L620.0 21.1L623.1 19.6L626.7 17.3L630.2 14.5L634.3 10.9L647.1 -1.7"/><path d="M438.3 -1.7L442.2 2.1L456.8 17.1L463.4 23.2L467.0 25.8L470.0 27.5L472.8 28.5L475.6 28.9L478.4 28.6L481.3 27.6L484.3 25.9L487.9 23.2L494.8 16.9L509.3 2.0L513.1 -1.7"/><path d="M576.7 -1.7L580.5 2.0L595.0 16.9L601.9 23.2L605.5 25.9L608.5 27.6L611.4 28.6L614.2 28.9L617.0 28.5L619.8 27.5L622.8 25.8L626.4 23.2L633.0 17.1L647.6 2.1L651.5 -1.7"/><path d="M433.7 -1.7L437.1 1.4L441.7 6.0L460.3 26.5L465.2 31.4L468.0 33.7L470.8 35.4L473.3 36.4L475.6 36.6L478.2 36.3L480.7 35.3L483.3 33.8L486.1 31.5L490.9 26.6L509.8 5.9L514.2 1.5L517.7 -1.7"/><path d="M572.1 -1.7L575.6 1.5L580.0 5.9L598.9 26.6L603.7 31.5L606.5 33.8L609.1 35.3L611.6 36.3L614.2 36.6L616.5 36.4L619.0 35.4L621.8 33.7L624.6 31.4L629.5 26.5L648.1 6.0L652.7 1.4L656.1 -1.7"/><path d="M428.8 -1.7L431.9 0.7L435.3 3.9L444.9 14.1L453.0 23.7L462.4 36.0L466.7 41.0L469.0 43.1L471.3 44.7L473.6 45.7L475.6 46.0L477.7 45.8L480.0 44.8L482.3 43.2L484.6 41.1L488.9 36.2L498.4 23.7L506.5 14.1L515.9 4.0L519.5 0.7L522.6 -1.7"/><path d="M567.2 -1.7L570.3 0.7L573.9 4.0L583.3 14.1L591.4 23.7L600.9 36.2L605.2 41.1L607.5 43.2L609.8 44.8L612.1 45.8L614.2 46.0L616.2 45.7L618.5 44.7L620.8 43.1L623.1 41.0L627.4 36.0L636.8 23.7L644.9 14.1L654.5 3.9L657.9 0.7L661.0 -1.7"/><path d="M423.0 -1.7L427.2 1.0L431.5 4.6L436.9 9.8L442.4 15.9L447.3 21.9L451.3 27.4L464.7 48.4L468.5 53.9L470.8 56.6L472.6 58.3L474.1 59.3L475.6 59.6L477.2 59.3L479.0 58.2L480.7 56.5L483.0 53.7L486.9 48.2L500.1 27.4L504.1 21.9L509.0 15.9L514.4 9.9L519.8 4.7L524.2 1.0L528.3 -1.7"/><path d="M561.5 -1.7L565.6 1.0L570.0 4.7L575.4 9.9L580.8 15.9L585.7 21.9L589.7 27.4L602.9 48.2L606.8 53.7L609.1 56.5L610.8 58.2L612.6 59.3L614.2 59.6L615.7 59.3L617.2 58.3L619.0 56.6L621.3 53.9L625.1 48.4L638.5 27.4L642.5 21.9L647.4 15.9L652.9 9.8L658.3 4.6L662.6 1.0L666.8 -1.7"/><path d="M414.7 -1.7L417.7 -0.6L420.5 0.7L423.3 2.4L426.4 4.5L430.0 7.5L433.7 11.0L437.3 14.7L440.4 18.3L446.4 26.2L451.3 34.0L456.6 43.7L462.3 56.1L464.0 60.9L465.3 66.1L466.3 71.8L467.0 78.2L467.8 92.7L468.6 126.9L469.0 134.4L469.6 140.2L470.5 145.2L471.9 149.0L472.6 150.2L473.6 151.4L474.6 152.1L475.6 152.3L476.7 152.1L477.7 151.5L478.7 150.4L479.5 149.1L480.7 145.6L481.8 140.3L482.3 134.8L482.8 127.3L483.6 92.1L484.4 77.9L485.1 71.5L486.1 66.1L487.3 61.3L489.0 56.4L494.3 44.6L498.7 36.4L504.6 26.8L510.9 18.3L514.1 14.7L517.7 10.9L521.3 7.6L524.9 4.6L527.9 2.4L530.7 0.7L533.5 -0.6L536.7 -1.7"/><path d="M553.1 -1.7L556.3 -0.6L559.1 0.7L561.9 2.4L564.9 4.6L568.5 7.6L572.1 10.9L575.7 14.7L578.9 18.3L585.2 26.8L591.1 36.4L595.5 44.6L600.8 56.4L602.5 61.3L603.7 66.1L604.7 71.5L605.4 77.9L606.2 92.1L607.0 127.3L607.5 134.8L608.0 140.3L609.1 145.6L610.3 149.1L611.1 150.4L612.1 151.5L613.1 152.1L614.2 152.3L615.2 152.1L616.2 151.4L617.2 150.2L617.9 149.0L619.3 145.2L620.2 140.2L620.8 134.4L621.2 126.9L622.0 92.7L622.8 78.2L623.5 71.8L624.5 66.1L625.8 60.9L627.5 56.1L633.2 43.7L638.5 34.0L643.4 26.2L649.4 18.3L652.5 14.7L656.1 11.0L659.8 7.5L663.4 4.5L666.5 2.4L669.3 0.7L672.1 -0.6L675.1 -1.7"/><path d="M404.7 0.8L408.0 0.7L411.1 1.1L414.4 2.0L417.5 3.1L420.5 4.7L423.9 6.8L427.2 9.4L430.7 12.4L433.8 15.4L436.6 18.5L440.1 22.8L442.8 26.5L445.2 30.4L449.0 37.0L452.9 44.9L456.1 52.8L458.0 58.5L459.4 64.6L460.5 71.8L461.3 79.4L461.8 89.4L463.4 133.3L464.0 141.7L464.9 148.1L465.7 151.5L466.7 154.8L468.0 157.8L469.3 160.0L470.8 162.0L472.3 163.4L473.9 164.2L475.6 164.6L477.4 164.2L479.2 163.3L480.7 161.8L482.3 159.8L483.5 157.4L484.8 154.3L485.8 150.9L486.6 147.2L487.5 140.5L488.1 131.4L489.4 93.0L490.3 77.6L490.9 71.5L491.7 66.1L492.7 61.3L493.9 56.7L496.4 50.1L499.9 41.9L504.4 33.4L507.8 27.7L511.5 22.5L516.2 16.9L520.3 12.8L525.1 8.6L529.0 5.9L532.5 3.8L536.1 2.3L539.7 1.2L543.2 0.8L547.1 0.8L550.9 1.4L554.5 2.5L558.3 4.4L562.4 6.9L566.5 10.1L570.8 14.0L574.4 17.7L578.5 22.8L581.6 27.1L584.4 31.6L589.8 41.6L593.9 51.3L596.6 59.1L598.3 67.0L599.3 75.2L600.1 85.8L601.4 123.9L601.9 135.4L602.7 143.7L603.7 149.9L604.5 152.9L605.6 156.0L606.8 158.5L608.2 160.8L609.8 162.6L611.4 163.8L612.9 164.4L614.4 164.5L616.2 164.1L617.7 163.2L619.3 161.7L620.6 159.9L622.0 157.5L623.1 154.7L624.1 151.5L624.9 148.1L625.8 141.7L626.4 133.3L628.0 89.4L628.5 79.7L629.2 72.1L630.3 64.9L631.7 58.8L633.6 53.1L636.8 45.2L640.5 37.7L644.4 30.7L647.0 26.5L649.7 22.8L653.2 18.5L656.0 15.4L659.1 12.4L662.6 9.4L665.9 6.8L669.3 4.7L672.3 3.1L675.4 2.0L678.7 1.1L681.8 0.7L685.1 0.8"/><path d="M404.7 4.7L407.5 4.7L410.6 5.0L413.4 5.7L416.5 6.8L419.5 8.3L422.6 10.1L425.9 12.5L428.8 15.0L431.4 17.4L434.1 20.4L437.1 24.0L439.4 27.1L441.7 30.8L445.2 37.0L448.6 44.0L451.8 52.2L453.6 57.9L455.1 64.3L456.2 71.5L457.0 79.4L457.7 90.0L459.7 135.7L460.5 144.8L461.6 151.6L462.7 156.0L464.1 160.2L465.7 163.7L467.5 166.8L469.5 169.4L471.5 171.1L473.6 172.2L475.6 172.5L477.9 172.1L480.0 171.0L482.0 169.2L484.1 166.6L485.8 163.4L487.5 159.6L488.9 155.3L489.9 150.8L491.0 143.9L491.8 134.5L493.6 93.0L494.6 77.0L495.3 70.6L496.1 65.2L497.1 60.3L498.4 55.8L500.8 48.8L503.7 41.9L506.2 37.0L510.6 29.2L513.5 24.9L517.5 20.1L521.0 16.4L524.9 13.0L528.7 10.2L532.3 8.1L535.8 6.4L539.2 5.4L542.7 4.8L546.0 4.7L549.6 5.1L553.2 6.1L556.8 7.7L560.6 9.9L564.7 12.8L568.2 15.9L571.8 19.6L575.8 24.3L578.6 28.3L581.3 32.8L586.0 41.6L589.8 51.0L592.3 58.8L594.0 67.0L595.0 75.5L595.9 86.7L597.5 125.4L598.2 137.5L599.1 146.3L600.4 153.2L601.6 157.5L602.9 161.2L604.5 164.4L606.4 167.5L608.3 169.7L610.3 171.4L612.4 172.3L614.4 172.5L616.5 172.1L618.5 171.0L620.5 169.1L622.5 166.5L624.4 163.2L625.9 159.6L627.2 155.7L628.2 151.4L629.3 144.5L630.1 135.4L632.1 90.3L632.8 79.7L633.6 71.8L634.7 64.6L636.1 58.2L638.0 52.2L641.1 44.3L644.3 37.7L648.0 31.0L650.2 27.4L652.4 24.3L655.4 20.7L658.1 17.7L660.8 15.1L663.9 12.5L667.2 10.1L670.3 8.3L673.3 6.8L676.4 5.7L679.2 5.0L682.3 4.7L685.1 4.7"/><path d="M404.7 8.8L407.3 8.7L410.1 9.0L412.9 9.6L415.7 10.5L418.5 11.8L421.3 13.4L424.1 15.3L426.7 17.4L432.0 22.8L436.2 28.0L438.4 31.5L441.9 37.7L445.0 44.0L448.1 52.2L449.9 57.9L451.4 64.3L452.5 71.8L453.4 80.0L454.2 90.9L455.8 124.8L456.6 137.5L457.6 146.9L458.9 154.4L460.3 159.7L462.1 164.7L464.1 169.0L466.2 172.5L468.5 175.3L470.8 177.3L473.1 178.5L475.6 178.9L478.2 178.5L480.7 177.2L483.0 175.2L485.3 172.2L487.6 168.3L489.6 163.8L491.3 159.0L492.7 153.5L493.9 146.0L494.9 136.3L497.0 93.9L498.3 77.0L499.0 70.6L499.9 64.9L501.0 59.7L502.3 55.2L504.6 48.5L507.2 42.2L509.3 38.0L513.5 30.7L515.9 27.0L518.8 23.5L522.5 19.5L525.9 16.4L529.5 13.8L533.0 11.7L536.6 10.2L540.2 9.2L543.8 8.7L547.1 8.8L550.6 9.4L554.2 10.6L558.0 12.4L561.9 14.8L565.2 17.5L568.8 20.9L572.1 24.6L574.6 28.0L576.9 31.6L580.6 38.3L583.7 44.6L587.3 54.6L589.2 61.6L590.6 69.4L591.6 77.9L592.5 89.4L594.3 125.4L595.1 138.1L596.1 147.5L597.6 155.3L599.0 160.5L600.8 165.3L602.7 169.3L605.0 173.0L607.3 175.7L609.6 177.5L611.9 178.6L614.4 178.9L617.0 178.4L619.3 177.1L621.6 175.0L623.9 172.1L626.0 168.4L627.9 164.1L629.6 159.3L630.9 154.1L632.3 146.6L633.2 137.2L635.6 90.9L636.4 80.0L637.2 72.1L638.4 64.6L639.8 58.2L641.6 52.5L644.7 44.3L647.7 38.0L651.3 31.6L653.6 28.0L657.8 22.8L663.1 17.4L665.7 15.3L668.5 13.4L671.3 11.8L674.1 10.5L676.9 9.6L679.7 9.0L682.5 8.7L685.1 8.8"/><path d="M404.7 12.8L407.3 12.7L410.1 13.0L412.6 13.5L415.2 14.4L417.7 15.5L420.3 16.9L425.1 20.5L429.7 24.9L433.3 29.5L439.0 38.9L441.7 44.6L444.7 52.5L446.5 58.2L448.0 64.9L449.2 72.4L450.1 80.6L451.0 91.8L453.0 125.7L453.9 138.7L455.0 148.7L456.6 156.9L458.3 162.9L460.2 168.1L462.4 172.9L464.9 177.1L467.5 180.1L470.0 182.2L472.8 183.6L475.6 184.1L478.2 183.7L480.7 182.6L483.0 180.9L485.3 178.5L487.6 175.3L489.7 171.5L491.6 167.1L493.3 162.3L494.5 158.0L495.6 153.2L497.1 143.2L498.1 130.5L500.0 97.3L501.0 82.7L502.4 70.3L504.3 60.3L505.8 54.9L508.0 48.8L510.3 43.0L512.6 38.6L516.9 31.3L519.7 27.4L523.1 23.5L527.2 19.8L530.4 17.4L533.5 15.5L536.9 14.1L540.4 13.1L544.0 12.7L547.3 12.8L550.6 13.4L554.0 14.5L557.3 16.1L560.6 18.2L564.2 21.1L567.5 24.3L569.9 27.1L572.1 30.1L578.1 40.1L580.8 46.1L584.3 55.8L586.0 62.5L587.4 70.6L588.4 79.1L589.4 90.6L591.4 126.9L592.4 139.6L593.5 149.3L595.2 157.8L596.9 163.5L598.9 168.7L601.2 173.5L603.7 177.6L606.2 180.5L608.8 182.5L611.6 183.7L614.4 184.0L617.2 183.5L620.0 182.1L622.6 179.9L625.0 176.8L627.4 172.8L629.7 167.8L631.6 162.6L633.2 156.9L634.8 148.7L635.9 138.7L636.8 125.7L638.8 91.8L639.7 80.6L640.6 72.4L641.8 64.9L643.3 58.2L645.1 52.5L648.1 44.6L650.8 38.9L656.5 29.5L660.1 24.9L664.7 20.5L669.5 16.9L672.1 15.5L674.6 14.4L677.2 13.5L679.7 13.0L682.5 12.7L685.1 12.8"/><path d="M404.7 16.8L407.3 16.8L409.6 17.0L412.1 17.5L414.4 18.2L419.0 20.5L423.9 24.0L427.4 27.5L430.7 31.7L435.9 39.8L438.6 45.5L441.6 53.1L443.3 58.5L444.9 65.5L446.2 73.1L447.2 81.5L448.1 92.7L450.4 127.2L451.4 140.2L452.7 150.5L454.6 159.6L456.5 165.9L458.7 171.7L461.1 176.7L463.6 180.8L466.5 184.1L469.5 186.5L472.6 188.0L475.6 188.5L478.4 188.1L481.3 186.9L484.1 184.9L486.6 182.2L489.0 178.9L491.2 174.9L493.4 169.9L495.4 164.4L496.7 159.6L497.9 154.4L498.9 149.3L499.6 143.9L500.7 131.1L502.8 98.5L503.9 84.9L505.4 72.1L507.3 61.9L508.5 57.0L510.1 52.2L513.0 44.9L515.0 40.7L518.2 35.4L522.1 29.8L524.9 26.5L527.9 23.7L531.0 21.4L534.1 19.6L537.1 18.2L540.2 17.3L543.2 16.8L546.6 16.8L549.6 17.3L552.7 18.2L555.7 19.6L559.1 21.6L562.1 23.9L564.9 26.5L567.0 28.9L569.3 31.9L573.1 37.8L575.1 41.3L578.0 47.9L581.1 56.4L582.8 63.1L584.3 71.2L585.4 79.7L586.5 91.5L588.8 127.8L589.9 140.8L591.2 151.1L593.3 160.5L595.3 166.8L597.5 172.6L599.9 177.4L602.5 181.4L605.2 184.4L608.4 186.8L610.1 187.6L611.6 188.1L614.7 188.4L617.7 187.8L620.8 186.2L623.6 183.8L626.4 180.4L629.0 176.2L631.3 171.3L633.5 165.3L635.2 159.3L637.1 150.2L638.4 140.2L639.4 127.2L641.6 93.0L642.6 81.8L643.6 73.4L644.9 65.8L646.4 58.8L648.1 53.4L651.0 45.8L653.8 40.1L658.8 32.1L662.2 27.7L665.9 24.0L670.8 20.5L675.4 18.2L677.7 17.5L680.2 17.0L682.5 16.8L685.1 16.8"/><path d="M404.7 21.1L409.1 21.2L411.4 21.6L413.6 22.3L418.0 24.4L422.1 27.3L424.1 29.2L426.0 31.3L431.3 38.6L433.8 42.8L436.4 48.5L438.7 54.6L440.4 60.0L442.0 67.0L443.3 74.6L444.4 83.0L445.4 93.9L447.9 128.1L449.1 141.4L450.6 152.0L452.8 162.0L454.9 168.7L457.4 175.0L459.8 179.9L462.6 184.2L465.7 187.7L469.0 190.3L472.3 191.9L474.1 192.3L475.6 192.4L478.7 192.0L481.8 190.7L484.8 188.5L487.6 185.6L490.3 182.0L492.7 177.7L495.0 172.6L497.1 166.8L498.7 161.7L500.0 156.3L501.1 150.5L501.9 144.8L503.2 131.7L505.5 99.1L506.7 86.4L508.2 73.4L510.2 63.1L511.6 57.9L513.1 53.4L516.0 46.1L518.0 41.9L520.5 38.0L524.6 32.3L527.3 29.2L529.9 26.8L532.5 24.9L535.3 23.3L538.1 22.2L541.2 21.4L544.0 21.1L546.8 21.1L549.6 21.6L552.4 22.5L555.2 23.7L557.8 25.2L560.2 27.1L562.4 29.0L564.9 32.0L568.2 36.4L570.5 39.8L572.2 42.8L575.7 50.7L578.0 57.0L579.8 64.0L581.4 72.1L582.5 80.9L583.7 92.7L586.4 128.8L587.6 142.0L589.1 152.9L591.5 162.8L593.5 169.3L596.1 175.6L598.6 180.6L601.4 184.7L604.5 188.1L607.8 190.5L611.1 192.0L612.6 192.3L614.4 192.4L615.9 192.2L617.7 191.8L621.0 190.2L624.4 187.5L627.4 183.9L630.0 179.9L632.6 174.7L635.0 168.4L637.1 161.7L639.3 151.7L640.8 141.1L641.9 127.8L644.4 94.2L645.4 83.3L646.4 74.9L647.7 67.3L649.3 60.3L651.0 54.9L653.2 49.1L655.8 43.1L658.3 38.8L663.7 31.5L665.7 29.2L667.6 27.4L669.5 25.8L671.8 24.4L676.2 22.3L678.4 21.6L680.7 21.2L685.1 21.1"/><path d="M404.7 25.5L407.0 25.4L409.1 25.6L413.1 26.6L417.0 28.5L420.5 31.3L425.1 36.1L428.9 41.0L431.2 45.2L434.5 52.5L436.3 57.3L437.9 62.8L439.4 69.4L440.6 76.4L442.8 95.1L445.5 129.3L446.8 142.3L448.6 153.5L451.1 164.1L453.4 171.4L456.0 177.7L458.7 182.9L461.8 187.4L465.0 191.0L468.5 193.7L470.3 194.7L472.1 195.3L473.9 195.7L475.6 195.8L479.0 195.4L482.3 194.1L485.3 192.0L488.4 188.9L491.4 185.0L494.0 180.5L496.3 175.6L498.7 169.3L500.4 163.8L501.9 158.1L503.2 151.7L504.1 145.7L505.6 132.7L508.2 100.0L509.3 87.9L511.1 74.6L513.1 64.6L514.5 59.1L516.0 54.6L518.8 48.2L521.2 43.1L523.1 40.1L525.6 36.9L529.2 32.9L532.0 30.3L534.3 28.6L536.6 27.3L538.9 26.4L541.5 25.7L544.0 25.4L546.6 25.5L549.1 25.9L551.7 26.7L553.9 27.7L556.0 28.9L558.0 30.5L560.3 32.6L563.4 36.0L566.0 39.2L567.7 41.7L569.4 44.6L572.8 52.3L574.9 57.9L576.9 65.2L578.5 73.4L579.8 82.1L581.1 93.6L584.0 129.9L585.3 142.9L587.1 154.4L588.4 159.9L589.8 165.0L592.2 172.3L594.8 178.5L597.6 183.7L600.6 188.0L604.0 191.5L607.3 193.9L609.1 194.8L610.8 195.4L612.6 195.8L614.4 195.8L616.2 195.7L618.0 195.2L619.8 194.5L621.6 193.6L624.9 191.0L628.2 187.2L631.1 182.9L633.8 177.7L636.5 171.1L638.8 163.8L641.3 153.2L643.0 142.2L644.3 129.3L647.0 95.1L649.2 76.7L650.4 69.7L651.8 63.1L653.4 57.5L655.3 52.5L658.6 45.2L660.9 41.0L664.7 36.1L669.3 31.3L672.8 28.5L676.7 26.6L680.7 25.6L682.8 25.4L685.1 25.5"/><path d="M404.7 30.5L406.8 30.4L408.5 30.5L410.6 30.9L412.5 31.6L416.5 33.8L420.5 36.9L423.6 40.0L425.9 43.1L428.7 48.1L431.8 54.5L433.5 59.3L435.2 65.2L436.7 71.2L437.9 77.9L440.2 96.0L443.3 130.5L444.7 143.5L445.6 149.6L446.8 155.7L448.1 161.3L449.6 166.5L452.1 174.1L454.8 180.5L457.8 185.8L461.1 190.6L464.4 194.1L468.1 196.8L470.0 197.8L471.8 198.4L473.6 198.8L475.6 199.0L479.2 198.5L482.5 197.2L485.8 195.0L489.2 191.9L492.4 187.7L495.3 182.9L497.9 177.4L500.3 171.1L502.2 165.3L503.8 159.3L505.2 152.6L506.3 146.0L507.9 133.0L510.7 100.9L511.8 90.6L513.6 77.3L515.5 67.6L517.1 61.6L518.9 56.4L520.8 51.9L523.5 46.4L525.4 43.2L527.2 40.7L529.5 38.2L532.5 35.5L534.8 33.8L537.1 32.4L539.2 31.5L541.5 30.8L543.8 30.4L546.0 30.4L548.3 30.8L550.6 31.5L553.2 32.7L555.7 34.4L558.5 36.6L561.1 39.0L562.8 41.0L564.3 43.1L567.7 49.3L570.3 54.9L572.3 60.5L574.3 67.9L575.9 75.5L577.2 84.2L578.5 95.1L581.7 130.8L583.2 143.9L584.1 149.9L585.3 156.3L586.7 162.0L588.3 167.5L590.9 175.0L593.6 181.1L596.6 186.4L599.9 191.0L603.4 194.6L607.0 197.1L609.0 198.0L610.8 198.6L612.9 198.9L614.7 198.9L616.7 198.7L618.5 198.2L620.3 197.5L622.2 196.5L625.7 193.8L629.2 189.9L632.5 185.0L635.3 179.7L637.9 173.5L640.4 165.9L641.8 160.8L643.2 155.0L645.1 143.2L646.6 130.2L649.6 96.0L651.9 77.9L653.1 71.2L654.6 65.2L656.2 59.4L658.0 54.6L661.1 48.1L663.9 43.1L666.2 40.0L669.3 36.9L673.3 33.8L677.3 31.6L679.2 30.9L681.3 30.5L683.0 30.4L685.1 30.5"/><path d="M404.7 36.0L408.0 36.0L411.6 36.8L415.2 38.4L418.5 40.7L420.9 43.1L423.3 46.5L426.7 52.1L428.9 56.7L430.7 61.5L432.5 67.3L433.9 73.1L435.1 79.3L437.6 97.0L441.0 131.4L442.6 144.5L443.6 150.8L445.0 157.5L446.4 163.2L448.2 169.0L450.9 176.5L453.7 182.9L457.0 188.6L460.3 193.2L463.9 196.9L467.7 199.6L469.5 200.5L471.6 201.2L473.6 201.6L475.6 201.8L477.7 201.7L479.5 201.3L483.0 199.9L486.6 197.6L490.1 194.4L493.4 190.1L496.6 185.0L499.4 179.3L501.9 172.9L504.0 166.6L505.6 160.5L507.2 153.5L508.5 146.6L510.2 133.3L514.3 93.0L516.2 80.0L518.0 70.6L520.8 60.9L522.3 57.0L523.9 53.7L526.4 49.1L529.2 44.8L531.3 42.2L533.5 40.2L535.6 38.7L537.9 37.5L540.2 36.6L542.5 36.1L544.5 35.9L546.8 36.0L549.1 36.5L551.4 37.3L553.4 38.3L555.5 39.6L557.3 41.0L559.0 42.8L562.3 47.3L566.1 54.0L568.2 58.8L570.1 64.6L571.8 70.9L573.3 77.9L574.6 86.7L575.9 96.3L579.5 131.7L581.1 144.8L582.2 151.4L583.6 158.1L585.0 163.8L586.8 169.6L589.4 176.9L592.3 183.2L595.6 188.9L599.1 193.7L602.7 197.2L606.5 199.8L608.5 200.7L610.3 201.3L612.4 201.7L614.4 201.8L616.5 201.6L618.5 201.1L620.4 200.4L622.3 199.5L626.2 196.7L629.7 192.9L633.2 188.0L636.4 182.4L639.1 176.2L641.7 168.7L643.4 163.2L644.8 157.5L646.2 150.8L647.2 144.5L648.8 131.4L652.2 97.0L654.7 79.3L655.9 73.1L657.3 67.3L659.1 61.5L660.9 56.7L663.1 52.1L666.5 46.5L668.9 43.1L671.3 40.7L674.6 38.4L678.2 36.8L681.8 36.0L685.1 36.0"/><path d="M404.7 41.4L408.0 41.4L411.4 42.2L414.4 43.8L417.5 46.5L421.0 50.8L424.1 55.5L426.4 60.2L428.7 66.5L430.2 71.5L431.4 76.7L433.9 90.6L435.4 101.5L439.2 136.0L441.3 149.9L443.1 158.4L445.0 165.6L447.5 173.2L450.1 179.9L452.7 185.3L455.7 190.4L458.7 194.7L461.9 198.1L465.2 200.8L468.5 202.7L472.1 204.0L475.6 204.4L479.5 203.9L483.3 202.5L487.1 200.2L490.7 196.9L494.0 192.9L497.3 187.8L500.3 182.0L503.0 175.6L505.3 169.0L507.3 162.3L509.0 155.0L510.5 147.5L512.4 134.2L516.9 94.5L518.9 82.1L520.9 72.7L522.2 67.9L523.8 63.4L525.4 59.3L527.1 55.8L529.1 52.5L531.5 49.3L534.1 46.4L536.3 44.3L537.9 43.2L539.7 42.3L541.5 41.7L543.5 41.3L545.5 41.3L547.3 41.5L549.1 41.9L550.9 42.7L552.6 43.7L554.2 44.9L557.5 48.3L561.1 53.1L563.7 57.6L565.7 62.4L567.7 68.2L569.2 73.7L570.5 80.1L572.0 88.5L573.3 97.6L577.3 133.0L579.0 146.0L580.3 152.9L582.0 160.2L583.6 166.2L585.6 172.3L588.4 179.6L591.4 185.9L594.9 191.7L598.4 196.2L602.2 199.8L604.2 201.2L606.3 202.4L608.3 203.3L610.3 203.9L612.4 204.3L614.4 204.4L618.0 203.9L621.3 202.7L624.8 200.7L628.0 198.0L631.1 194.7L634.1 190.4L637.1 185.3L639.7 179.9L642.3 173.2L644.8 165.6L646.7 158.4L648.5 149.9L650.6 136.0L654.4 101.5L655.9 90.6L658.4 76.7L659.6 71.5L661.1 66.5L663.4 60.2L665.7 55.5L668.8 50.8L672.3 46.5L675.4 43.8L678.4 42.2L681.8 41.4L685.1 41.4"/><path d="M404.7 48.3L407.8 48.2L410.8 49.1L414.2 50.9L417.2 53.6L419.8 56.8L422.1 60.6L424.4 65.5L426.4 70.9L427.7 75.3L429.0 80.6L431.4 93.6L432.8 103.0L437.0 136.6L439.3 150.5L441.3 159.3L443.4 166.8L446.0 174.7L448.8 181.7L451.7 187.4L454.7 192.6L457.9 196.8L461.3 200.4L464.7 203.1L468.2 205.1L471.8 206.3L475.6 206.7L479.5 206.3L483.3 205.0L486.9 203.0L490.4 200.1L493.8 196.5L497.0 192.0L500.1 186.7L503.0 180.8L505.7 173.8L508.3 165.9L510.3 158.7L512.2 149.9L514.4 136.3L518.6 103.3L519.9 94.2L522.3 81.2L524.7 71.8L526.5 66.7L528.7 61.8L530.7 58.1L533.0 54.9L535.7 52.2L538.6 50.0L541.7 48.6L544.5 48.2L547.3 48.4L550.4 49.6L553.4 51.6L556.3 54.3L558.6 57.3L560.8 61.3L563.0 66.1L564.9 71.2L567.4 80.6L569.8 93.3L571.2 102.7L575.6 137.8L576.8 146.0L578.2 152.9L580.5 162.3L583.2 171.4L586.3 179.6L589.7 186.7L593.6 193.2L595.6 195.9L597.8 198.6L600.0 200.7L602.2 202.5L604.5 204.0L606.8 205.2L609.1 206.0L611.6 206.5L614.2 206.7L616.7 206.5L619.3 206.0L621.6 205.1L624.1 203.8L626.4 202.2L629.5 199.5L632.5 196.1L635.3 192.2L638.1 187.4L640.7 182.3L643.0 176.9L645.3 170.5L647.3 163.8L649.9 153.2L651.9 142.6L653.5 131.4L657.3 101.1L659.1 89.4L661.8 76.7L663.1 71.8L664.7 67.4L666.7 62.6L668.9 58.5L671.1 55.4L673.6 52.6L676.4 50.4L679.5 48.9L682.3 48.2L685.1 48.3"/><path d="M404.7 55.5L407.5 55.4L410.1 56.1L412.6 57.4L415.2 59.6L417.7 62.8L420.0 66.6L422.1 70.8L423.8 75.5L426.4 84.8L428.8 96.3L430.1 104.8L434.8 137.5L437.3 151.4L439.5 160.5L441.7 168.1L444.6 176.2L447.5 183.2L450.5 189.2L453.7 194.4L457.0 198.8L460.6 202.5L464.2 205.2L467.7 207.2L471.6 208.4L475.6 208.8L479.7 208.4L483.5 207.2L487.4 205.1L491.1 202.2L494.7 198.3L498.1 193.8L501.3 188.3L504.3 182.3L507.2 175.3L510.0 167.1L512.1 159.9L514.2 150.8L516.7 137.2L522.5 97.0L524.7 86.1L527.2 76.7L528.8 72.1L530.7 67.9L532.8 64.1L535.1 60.9L537.4 58.5L539.7 56.9L542.0 55.8L544.5 55.4L547.1 55.6L549.6 56.6L551.9 58.1L554.2 60.3L556.5 63.3L558.7 67.0L560.6 71.0L562.2 75.5L564.8 84.5L567.2 96.0L568.5 104.4L573.4 139.0L574.9 147.2L576.5 154.7L579.0 164.4L582.1 173.8L585.3 182.0L588.8 188.9L593.0 195.6L597.2 200.7L599.4 202.8L601.7 204.7L604.1 206.2L606.5 207.3L609.1 208.2L611.6 208.7L614.2 208.8L617.0 208.6L619.5 208.1L622.1 207.2L624.6 205.9L626.9 204.4L630.1 201.6L633.2 198.3L636.1 194.4L638.9 189.8L641.6 184.7L644.0 179.2L646.5 172.9L648.8 165.9L651.6 155.3L654.0 143.5L655.7 133.3L660.0 102.7L661.7 92.7L664.4 80.9L665.7 76.4L667.1 72.4L668.8 68.5L670.9 64.6L673.1 61.4L675.4 58.9L677.7 57.1L680.0 56.0L682.5 55.4L685.1 55.5"/><path d="M404.7 64.1L407.0 63.9L409.3 64.4L411.6 65.7L413.9 67.6L415.9 70.1L418.0 73.3L419.7 77.0L421.3 81.1L423.9 89.6L426.0 99.1L432.7 139.3L434.0 146.6L435.5 153.2L437.8 162.0L440.4 170.2L443.3 178.0L446.3 185.0L449.5 191.0L452.8 196.2L456.3 200.7L459.9 204.4L463.6 207.2L467.5 209.2L471.6 210.4L475.6 210.8L480.0 210.4L484.1 209.1L487.9 207.1L491.7 204.2L495.3 200.4L498.9 195.8L502.2 190.4L505.5 184.1L508.5 177.1L511.4 169.0L513.8 161.1L516.0 152.3L518.8 138.7L525.3 99.7L527.3 90.6L529.6 82.4L531.3 77.9L532.8 74.5L534.6 71.3L536.4 68.9L538.4 66.7L540.4 65.2L542.5 64.3L544.8 63.9L547.1 64.2L549.1 65.1L551.2 66.5L553.2 68.6L555.0 70.9L556.8 74.0L558.3 77.3L559.8 81.4L562.3 89.7L564.4 98.8L571.4 140.8L572.9 148.7L575.0 157.5L577.7 166.8L581.0 176.2L584.3 184.1L587.9 191.0L592.2 197.6L594.5 200.4L596.7 202.8L599.0 205.0L601.4 206.8L603.7 208.1L606.3 209.3L608.8 210.1L611.6 210.7L614.4 210.8L617.0 210.6L619.5 210.1L622.2 209.2L624.8 208.0L627.2 206.5L630.5 203.8L633.5 200.7L636.6 196.8L639.6 192.3L642.4 187.1L645.0 181.7L647.5 175.6L649.9 168.7L653.0 158.1L656.1 145.1L657.9 135.1L662.7 105.1L664.4 96.0L667.0 85.9L669.8 77.7L671.3 74.3L673.1 71.2L674.9 68.7L676.9 66.7L679.0 65.2L681.0 64.3L683.0 63.9L685.1 64.1"/><path d="M404.7 73.9L406.8 73.6L408.8 74.0L410.8 75.2L412.6 76.8L414.4 79.0L416.2 82.0L417.7 85.2L419.4 89.4L421.4 95.7L423.2 103.0L430.7 141.7L432.2 148.7L434.2 156.6L436.6 164.7L439.5 173.2L442.5 180.8L445.6 187.4L448.8 193.2L452.2 198.3L455.7 202.7L459.3 206.2L463.1 209.0L467.2 211.0L471.3 212.2L475.6 212.6L480.0 212.2L484.3 210.9L488.4 208.9L492.2 206.1L495.8 202.5L499.4 198.0L502.9 192.6L506.3 186.5L509.3 179.9L512.3 172.3L515.1 163.8L517.4 155.7L519.3 148.1L520.9 141.1L528.0 103.6L529.7 96.7L531.5 90.8L533.0 86.7L534.6 83.2L536.1 80.4L537.6 78.1L539.4 76.1L541.2 74.7L543.0 73.9L544.8 73.6L546.6 73.8L548.3 74.6L550.1 75.9L551.8 77.6L553.4 80.0L555.0 82.7L557.9 89.7L559.8 95.7L561.6 102.7L569.3 142.9L571.1 150.5L573.6 160.2L576.7 169.9L580.2 179.2L583.7 186.8L587.6 193.8L592.0 200.1L594.3 202.8L596.4 205.0L598.8 207.1L601.2 208.7L603.7 210.1L606.3 211.2L608.8 212.0L611.6 212.5L614.4 212.6L617.2 212.4L619.8 211.9L622.6 211.0L625.1 209.8L627.7 208.3L630.9 205.9L634.1 202.7L637.1 199.0L640.1 194.7L642.9 189.8L645.7 184.4L648.2 178.6L650.8 172.0L654.2 161.7L657.4 149.6L659.6 139.3L664.2 115.0L666.8 102.1L669.1 93.3L671.8 85.8L673.3 82.5L674.9 79.8L676.4 77.6L677.9 76.0L679.7 74.7L681.5 73.9L683.3 73.6L685.1 73.9"/><path d="M404.7 85.6L406.2 85.3L408.0 85.6L409.8 86.4L411.4 87.7L412.9 89.5L414.4 91.9L415.9 94.8L417.2 97.9L419.0 103.2L420.8 109.7L423.3 120.3L428.6 144.2L433.1 160.5L435.9 169.0L439.0 177.1L442.0 184.1L445.3 190.4L448.7 196.2L452.1 201.0L455.6 205.0L459.2 208.3L463.1 210.9L467.2 212.8L471.3 213.9L475.6 214.4L480.0 214.0L484.3 212.8L488.6 210.7L492.5 208.0L496.1 204.7L499.7 200.4L503.3 195.3L506.6 189.5L509.8 183.2L512.7 176.2L515.8 168.1L518.5 159.9L522.8 144.2L530.2 111.1L532.1 104.2L533.8 98.8L536.3 93.0L538.9 89.0L540.2 87.6L541.7 86.3L543.2 85.6L544.8 85.3L546.3 85.5L547.8 86.2L549.4 87.3L550.6 88.7L553.2 92.5L555.7 98.2L557.3 102.7L559.1 109.1L561.6 119.6L567.3 145.4L569.9 155.0L572.5 163.5L576.0 173.5L579.6 182.3L583.5 190.1L587.5 196.8L591.8 202.5L594.0 205.0L596.3 207.2L598.6 209.0L601.2 210.7L603.7 212.0L606.3 213.0L608.8 213.8L611.6 214.2L614.4 214.4L617.0 214.2L619.5 213.7L622.3 212.9L624.9 211.8L627.5 210.4L630.2 208.5L633.0 206.2L635.6 203.5L638.1 200.4L640.7 196.8L643.3 192.6L645.8 188.0L648.2 183.2L650.8 177.1L653.4 170.5L655.8 163.5L657.9 156.6L661.4 143.2L666.2 121.4L668.8 110.7L670.8 103.3L672.5 98.2L673.9 94.9L675.4 91.9L676.9 89.5L678.4 87.7L680.0 86.4L681.8 85.6L683.6 85.3L685.1 85.6"/><path d="M404.7 98.8L406.0 98.5L407.5 98.6L408.8 99.1L410.1 100.0L411.4 101.4L412.6 103.2L415.2 108.2L417.2 113.5L419.5 120.6L426.7 147.2L432.5 165.3L435.7 173.8L439.0 181.7L442.2 188.3L445.6 194.4L449.0 199.5L452.4 203.9L455.7 207.4L459.3 210.3L463.1 212.7L467.2 214.5L471.3 215.6L475.6 216.0L480.0 215.6L484.1 214.6L488.4 212.6L492.4 210.1L496.0 207.0L499.6 203.2L503.0 198.6L506.5 193.2L509.8 187.1L512.9 180.5L516.1 172.9L519.2 164.4L524.7 146.9L531.8 120.9L533.8 114.6L535.6 109.7L537.9 104.7L540.2 101.2L541.2 100.1L542.5 99.2L543.5 98.7L544.8 98.5L546.0 98.6L547.1 99.0L548.3 99.9L549.4 100.9L551.5 103.9L553.7 108.5L555.5 113.1L557.5 119.3L565.5 148.4L569.4 160.8L572.2 169.0L575.9 178.3L579.6 186.2L583.5 193.5L587.6 199.8L592.0 205.2L596.3 209.2L598.7 211.0L601.2 212.5L603.7 213.8L606.3 214.7L608.8 215.4L611.4 215.8L613.9 216.0L616.7 215.9L619.5 215.4L622.1 214.7L624.6 213.7L627.2 212.4L630.0 210.7L632.8 208.5L635.3 206.1L638.0 203.2L640.6 199.8L643.2 195.9L648.2 187.1L650.8 181.7L653.4 175.6L658.5 162.0L663.3 146.3L670.3 120.6L672.3 114.3L674.4 108.9L676.9 103.6L678.2 101.7L679.5 100.3L680.7 99.3L682.3 98.6L683.8 98.5L685.1 98.8"/><path d="M404.7 113.6L406.0 113.3L407.0 113.3L408.3 113.7L409.6 114.5L410.8 115.7L412.1 117.3L414.7 121.7L418.0 129.7L428.6 160.8L433.5 173.5L436.8 181.1L439.9 187.4L443.2 193.5L446.7 198.9L450.0 203.5L453.2 207.0L456.5 210.1L460.1 212.7L463.9 214.8L467.7 216.3L471.6 217.2L475.6 217.5L479.7 217.2L483.8 216.3L487.6 214.7L491.5 212.5L495.2 209.8L498.7 206.5L502.1 202.5L505.3 198.0L508.7 192.6L512.0 186.5L515.0 180.2L518.3 172.6L523.0 160.2L533.0 130.7L536.1 123.0L538.4 118.6L540.4 115.8L541.7 114.6L542.7 113.9L543.8 113.4L544.8 113.2L545.8 113.3L546.8 113.7L548.9 115.3L550.9 117.8L553.2 122.0L555.0 126.0L556.8 130.7L567.7 162.9L573.3 176.8L576.9 184.7L580.6 191.7L584.5 198.0L588.4 203.5L592.6 208.0L596.9 211.6L601.7 214.5L604.2 215.6L606.6 216.5L611.6 217.4L614.2 217.5L616.7 217.4L621.6 216.5L626.4 214.6L629.2 213.0L632.0 211.1L634.7 208.9L637.1 206.5L639.5 203.8L642.1 200.4L646.9 192.9L649.8 187.7L652.3 182.6L657.9 169.6L661.8 159.3L671.6 130.4L674.9 122.3L677.4 117.7L678.7 116.0L680.0 114.7L681.3 113.8L682.5 113.3L683.8 113.3L685.1 113.6"/><path d="M404.7 127.0L406.0 126.7L407.0 126.7L408.3 127.0L409.6 127.8L411.9 130.1L414.4 134.0L416.5 137.9L418.7 143.0L428.8 167.8L434.5 180.5L437.3 186.2L440.1 191.4L443.0 196.2L445.8 200.4L448.6 204.1L451.2 207.1L453.9 209.8L456.8 212.1L459.8 214.3L462.9 216.0L466.2 217.4L469.3 218.3"/><path d="M482.1 218.3L485.3 217.3L488.6 215.9L491.9 214.0L495.0 211.8L498.1 209.2L500.8 206.5L503.4 203.3L506.2 199.5L509.1 195.0L512.0 190.1L517.3 179.6L522.7 167.5L532.3 143.9L536.4 135.1L538.6 131.3L540.7 128.8L542.0 127.7L543.0 127.1L544.0 126.8L545.0 126.7L547.1 127.2L549.1 128.8L551.2 131.3L553.4 135.1L557.5 143.9L567.1 167.5L572.5 179.6L577.8 190.1L583.4 199.2L586.3 203.2L588.9 206.3L591.7 209.2L594.5 211.6L597.8 214.0L601.1 215.9L604.5 217.3L607.7 218.3"/><path d="M620.5 218.3L623.6 217.4L626.9 216.0L630.0 214.3L633.0 212.1L635.9 209.8L638.6 207.1L641.2 204.1L644.0 200.4L646.8 196.2L649.7 191.4L652.5 186.2L655.3 180.5L661.0 167.8L671.1 143.0L673.3 137.9L675.4 134.0L677.9 130.1L680.2 127.8L681.5 127.0L682.8 126.7L683.8 126.7L685.1 127.0"/><path d="M404.7 138.5L406.0 138.2L407.3 138.3L408.5 138.6L409.8 139.3L411.1 140.3L412.6 142.0L415.4 145.8L417.7 149.7L420.0 154.0L429.6 174.7L435.2 185.9L440.4 195.0L445.5 202.6L449.9 207.8L454.5 212.1L459.6 215.7L464.6 218.3"/><path d="M486.8 218.3L489.4 217.1L492.1 215.6L497.3 211.8L501.9 207.4L506.5 201.6L511.5 194.1L516.7 185.0L522.2 173.8L531.0 154.8L535.1 147.2L537.9 143.0L540.4 140.2L542.7 138.7L544.0 138.3L545.0 138.2L546.0 138.3L547.3 138.8L549.6 140.4L551.9 143.0L554.7 147.2L558.8 154.8L567.6 173.8L573.1 185.0L578.3 194.1L583.3 201.6L587.9 207.4L592.5 211.8L597.7 215.6L600.4 217.1L603.0 218.3"/><path d="M625.2 218.3L630.2 215.7L635.3 212.1L639.9 207.8L644.3 202.6L649.4 195.0L654.6 185.9L660.2 174.7L669.8 154.0L672.1 149.7L674.4 145.8L677.2 142.0L678.7 140.3L680.0 139.3L681.3 138.6L682.5 138.3L683.8 138.2L685.1 138.5"/><path d="M404.7 147.6L407.0 147.4L408.3 147.6L409.6 148.1L412.1 149.9L414.7 152.6L417.0 155.8L419.8 160.6L434.9 188.9L438.9 195.6L442.6 201.0L447.1 206.8L451.4 211.3L456.3 215.3L461.3 218.3"/><path d="M490.1 218.3L494.5 215.6L498.9 212.3L502.7 208.6L506.6 204.1L511.3 197.4L516.3 189.2L520.0 182.6L530.2 163.1L535.1 154.8L537.6 151.5L540.2 149.2L542.7 147.7L545.0 147.3L547.3 147.8L549.9 149.4L552.4 151.8L555.0 155.2L559.6 163.1L573.3 188.9L578.3 197.1L583.0 203.8L586.8 208.3L590.9 212.2L595.3 215.6L599.7 218.3"/><path d="M628.5 218.3L633.5 215.3L638.4 211.3L642.7 206.8L647.2 201.0L650.9 195.6L654.9 188.9L670.0 160.6L672.8 155.8L675.1 152.6L677.7 149.9L680.2 148.1L681.5 147.6L682.8 147.4L685.1 147.6"/><path d="M404.7 154.9L406.0 154.7L407.3 154.7L409.8 155.5L412.4 157.3L414.9 159.9L417.5 163.2L420.5 167.7L434.2 191.0L438.2 197.4L442.1 202.8L446.0 207.7L449.8 211.6L454.2 215.3L458.6 218.3"/><path d="M492.8 218.3L497.3 215.3L501.6 211.6L505.4 207.7L509.3 202.8L513.1 197.4L517.4 190.7L530.7 167.9L533.3 164.1L535.8 160.6L538.1 158.1L540.4 156.2L542.7 155.0L544.8 154.7L546.8 155.0L549.1 156.0L551.4 157.8L553.7 160.3L556.3 163.7L559.1 167.9L572.4 190.7L576.7 197.4L580.5 202.8L584.4 207.7L588.2 211.6L592.5 215.3L597.0 218.3"/><path d="M631.2 218.3L635.6 215.3L640.0 211.6L643.8 207.7L647.7 202.8L651.6 197.4L655.6 191.0L669.3 167.7L672.3 163.2L674.9 159.9L677.4 157.3L680.0 155.5L682.5 154.7L683.8 154.7L685.1 154.9"/><path d="M404.7 161.5L407.3 161.4L408.5 161.6L410.1 162.2L412.9 164.0L415.9 166.9L418.5 170.0L421.6 174.3L434.6 194.7L441.4 204.4L444.8 208.4L448.3 212.0L452.2 215.4L456.1 218.3"/><path d="M495.2 218.3L499.1 215.5L503.2 211.9L506.7 208.3L510.0 204.4L516.8 194.7L529.7 174.4L532.5 170.5L535.1 167.3L537.6 164.7L540.2 162.8L542.7 161.7L545.0 161.3L547.3 161.7L549.9 163.0L552.4 165.0L555.0 167.6L557.5 170.8L560.3 174.8L573.0 194.7L579.8 204.4L583.1 208.3L586.6 211.9L590.7 215.5L594.6 218.3"/><path d="M633.7 218.3L637.6 215.4L641.5 212.0L645.0 208.4L648.4 204.4L655.2 194.7L668.2 174.3L671.3 170.0L673.9 166.9L676.9 164.0L679.7 162.2L681.3 161.6L682.5 161.4L685.1 161.5"/><path d="M404.7 167.2L407.5 167.1L410.3 167.9L413.4 169.7L416.5 172.5L419.3 175.7L422.1 179.3L434.9 198.0L440.8 205.9L443.7 209.2L447.0 212.5L450.4 215.6L453.9 218.3"/><path d="M497.5 218.3L500.9 215.6L504.4 212.5L507.7 209.2L510.6 205.9L516.5 198.0L529.2 179.5L531.8 176.1L534.3 173.2L537.1 170.4L539.9 168.4L542.5 167.4L545.0 167.0L547.6 167.4L550.1 168.6L552.7 170.4L555.5 173.2L558.0 176.1L560.6 179.5L573.3 198.0L579.2 205.9L582.1 209.2L585.4 212.5L588.9 215.6L592.3 218.3"/><path d="M635.9 218.3L639.4 215.6L642.8 212.5L646.1 209.2L649.0 205.9L654.9 198.0L667.7 179.3L670.5 175.7L673.3 172.5L676.4 169.7L679.5 167.9L682.3 167.1L685.1 167.2"/><path d="M404.7 172.1L407.5 172.0L410.6 172.9L413.6 174.6L417.0 177.4L419.5 180.2L422.6 183.9L435.0 200.7L440.0 207.1L445.8 213.1L451.8 218.3"/><path d="M499.6 218.3L505.9 212.8L511.6 206.8L516.4 200.7L528.7 184.0L533.8 178.1L536.9 175.3L539.7 173.4L542.5 172.3L545.0 172.0L547.6 172.4L550.4 173.5L553.2 175.5L556.0 178.1L561.1 184.0L573.4 200.7L578.2 206.8L583.9 212.8L590.2 218.3"/><path d="M638.0 218.3L644.0 213.1L649.8 207.1L654.8 200.7L667.2 183.9L670.3 180.2L672.8 177.4L676.2 174.6L679.2 172.9L682.3 172.0L685.1 172.1"/><path d="M404.7 176.6L407.8 176.5L410.8 177.3L413.9 179.0L417.2 181.7L420.0 184.5L423.6 188.7L435.0 203.2L439.3 208.3L444.3 213.4L449.8 218.3"/><path d="M501.6 218.3L507.1 213.4L512.4 208.0L516.6 202.8L527.4 189.1L530.7 185.2L533.5 182.3L536.6 179.6L539.4 177.8L542.2 176.7L544.8 176.4L547.3 176.7L550.1 177.7L552.9 179.4L556.0 182.0L558.8 184.9L562.1 188.8L573.4 203.2L577.4 208.0L582.7 213.4L588.2 218.3"/><path d="M640.0 218.3L645.5 213.4L650.5 208.3L654.8 203.2L666.2 188.7L669.8 184.5L672.6 181.7L675.9 179.0L679.0 177.3L682.0 176.5L685.1 176.6"/><path d="M404.7 180.6L407.8 180.5L410.8 181.3L414.2 183.0L417.5 185.6L420.5 188.5L423.9 192.1L434.6 205.0L438.3 209.2L443.1 214.0L447.9 218.3"/><path d="M503.5 218.3L508.3 214.0L513.1 209.2L516.8 205.0L527.2 192.5L533.0 186.4L536.4 183.6L539.2 181.9L542.0 180.8L544.8 180.4L547.6 180.8L550.4 181.8L553.4 183.6L556.5 186.1L559.3 188.9L562.6 192.5L573.0 205.0L576.7 209.2L581.5 214.0L586.3 218.3"/><path d="M641.9 218.3L646.7 214.0L651.5 209.2L655.2 205.0L665.9 192.1L669.3 188.5L672.3 185.6L675.6 183.0L679.0 181.3L682.0 180.5L685.1 180.6"/><path d="M404.7 184.3L407.8 184.2L411.1 185.1L414.4 186.7L418.0 189.3L420.8 191.8L423.9 194.9L437.4 210.1L441.7 214.3L446.0 218.3"/><path d="M505.3 218.3L509.7 214.3L514.0 210.1L527.2 195.3L532.8 189.8L536.1 187.3L539.2 185.5L542.2 184.5L545.0 184.2L547.8 184.5L550.9 185.7L554.0 187.5L557.3 190.1L562.6 195.3L575.8 210.1L580.1 214.3L584.5 218.3"/><path d="M643.8 218.3L648.1 214.3L652.4 210.1L665.9 194.9L669.0 191.8L671.8 189.3L675.4 186.7L678.7 185.1L682.0 184.2L685.1 184.3"/><path d="M404.7 187.7L407.8 187.6L411.1 188.4L414.4 189.9L418.0 192.3L423.1 196.9L435.5 210.1L444.2 218.3"/><path d="M507.2 218.3L515.0 211.0L527.2 198.0L532.5 193.0L535.8 190.6L538.9 188.9L542.0 187.9L544.8 187.6L547.6 187.8L550.6 188.8L553.7 190.4L557.0 192.8L562.6 198.0L575.2 211.3L582.6 218.3"/><path d="M645.6 218.3L654.3 210.1L666.7 196.9L671.8 192.3L675.4 189.9L678.7 188.4L682.0 187.6L685.1 187.7"/><path d="M404.7 190.8L407.8 190.7L411.1 191.4L414.4 192.9L417.7 195.0L423.3 199.7L434.6 211.0L442.4 218.3"/><path d="M509.0 218.3L516.8 211.0L527.7 200.1L532.8 195.6L536.1 193.4L539.2 191.8L542.2 190.9L545.0 190.7L547.8 191.0L550.9 191.9L554.0 193.5L557.0 195.6L562.1 200.1L573.0 211.0L580.8 218.3"/><path d="M647.4 218.3L655.2 211.0L666.5 199.7L672.1 195.0L675.4 192.9L678.7 191.4L682.0 190.7L685.1 190.8"/><path d="M404.7 193.7L407.8 193.6L411.1 194.3L414.4 195.6L417.7 197.6L420.5 199.7L423.6 202.4L440.6 218.3"/><path d="M510.8 218.3L527.4 202.7L532.8 198.3L536.1 196.1L539.2 194.7L542.2 193.8L545.0 193.6L547.8 193.8L550.9 194.8L554.0 196.3L557.0 198.3L562.4 202.7L579.0 218.3"/><path d="M649.2 218.3L666.2 202.4L669.3 199.7L672.1 197.6L675.4 195.6L678.7 194.3L682.0 193.6L685.1 193.7"/><path d="M404.7 196.4L407.8 196.3L410.8 196.9L414.2 198.1L417.5 200.0L420.3 202.0L423.6 204.6L438.8 218.3"/><path d="M512.6 218.3L527.4 204.9L533.0 200.6L536.1 198.7L539.2 197.3L542.0 196.5L544.8 196.3L547.6 196.5L550.6 197.3L553.7 198.7L556.8 200.6L562.4 204.9L577.2 218.3"/><path d="M651.0 218.3L666.2 204.6L669.5 202.0L672.3 200.0L675.6 198.1L679.0 196.9L682.0 196.3L685.1 196.4"/><path d="M404.7 198.9L407.8 198.9L410.8 199.4L413.9 200.5L417.2 202.2L420.3 204.2L423.9 207.0L437.0 218.3"/><path d="M514.4 218.3L526.9 207.5L530.2 204.9L533.3 202.7L536.4 201.0L539.4 199.7L542.2 199.0L545.0 198.8L547.8 199.1L550.6 199.8L553.4 201.0L556.5 202.7L559.6 204.9L562.9 207.5L575.4 218.3"/><path d="M652.8 218.3L665.9 207.0L669.5 204.2L672.6 202.2L675.9 200.5L679.0 199.4L682.0 198.9L685.1 198.9"/><path d="M404.7 201.3L407.5 201.3L410.6 201.7L413.6 202.7L417.0 204.3L420.3 206.4L424.4 209.4L435.1 218.3"/><path d="M516.3 218.3L526.4 209.8L530.2 207.0L533.5 204.8L536.6 203.2L539.4 202.1L542.2 201.5L544.8 201.2L547.6 201.5L550.4 202.1L553.2 203.2L556.3 204.8L559.6 207.0L563.4 209.8L573.5 218.3"/><path d="M654.7 218.3L665.4 209.4L669.5 206.4L672.8 204.3L676.2 202.7L679.2 201.7L682.3 201.3L685.1 201.3"/><path d="M404.7 203.6L407.5 203.6L410.6 204.0L413.6 204.9L416.7 206.3L420.3 208.4L424.1 211.0L433.2 218.3"/><path d="M518.2 218.3L526.9 211.3L530.7 208.6L534.1 206.7L536.9 205.3L539.7 204.3L542.5 203.7L545.0 203.5L547.6 203.7L550.4 204.4L553.2 205.4L556.0 206.8L559.3 208.8L563.1 211.5L571.6 218.3"/><path d="M656.6 218.3L665.7 211.0L669.5 208.4L673.1 206.3L676.2 204.9L679.2 204.0L682.3 203.6L685.1 203.6"/><path d="M404.7 205.8L407.5 205.7L410.3 206.1L413.1 206.9L416.2 208.1L419.5 209.9L423.1 212.1L426.9 214.8L431.3 218.3"/><path d="M520.1 218.3L527.4 212.7L530.7 210.5L534.1 208.7L536.9 207.4L539.7 206.4L542.2 205.9L544.8 205.7L547.3 205.9L549.9 206.4L552.7 207.3L555.5 208.5L558.5 210.2L562.1 212.5L569.7 218.3"/><path d="M658.5 218.3L662.9 214.8L666.7 212.1L670.3 209.9L673.6 208.1L676.7 206.9L679.5 206.1L682.3 205.7L685.1 205.8"/><path d="M404.7 207.8L407.3 207.8L410.1 208.1L412.9 208.8L415.7 209.8L418.7 211.3L422.1 213.2L425.6 215.6L429.2 218.3"/><path d="M522.1 218.3L528.7 213.6L534.6 210.3L537.4 209.1L539.9 208.4L542.5 207.9L544.8 207.8L547.3 207.9L549.9 208.4L552.4 209.1L555.2 210.3L561.1 213.6L567.7 218.3"/><path d="M660.6 218.3L664.2 215.6L667.7 213.2L671.1 211.3L674.1 209.8L676.9 208.8L679.7 208.1L682.5 207.8L685.1 207.8"/><path d="M404.7 209.8L407.3 209.7L409.8 210.0L412.4 210.5L415.2 211.4L418.0 212.6L420.8 214.1L427.1 218.3"/><path d="M524.3 218.3L530.0 214.5L535.3 211.8L540.2 210.2L542.5 209.8L544.8 209.7L547.1 209.8L549.6 210.2L554.5 211.8L559.8 214.5L565.5 218.3"/><path d="M662.7 218.3L669.0 214.1L671.8 212.6L674.6 211.4L677.4 210.5L680.0 210.0L682.5 209.7L685.1 209.8"/><path d="M404.7 211.6L407.0 211.5L409.6 211.7L414.4 212.9L419.5 215.1L424.7 218.3"/><path d="M526.6 218.3L531.5 215.3L536.1 213.2L540.4 212.0L544.8 211.5L549.1 211.9L553.7 213.2L558.3 215.3L563.2 218.3"/><path d="M665.1 218.3L670.3 215.1L675.4 212.9L680.2 211.7L682.8 211.5L685.1 211.6"/><path d="M404.7 213.3L408.8 213.4L413.1 214.2L417.5 215.8L422.2 218.3"/><path d="M529.2 218.3L533.3 216.1L537.4 214.5L541.2 213.5L545.0 213.3L548.9 213.6L552.7 214.5L556.5 216.1L560.6 218.3"/><path d="M667.6 218.3L672.3 215.8L676.7 214.2L681.0 213.4L685.1 213.3"/><path d="M404.7 215.0L408.3 215.0L411.9 215.6L415.4 216.6L419.1 218.3"/><path d="M532.2 218.3L535.6 216.8L538.6 215.8L541.7 215.2L544.8 214.9L547.8 215.1L551.2 215.8L554.2 216.8L557.6 218.3"/><path d="M670.7 218.3L674.4 216.6L677.9 215.6L681.5 215.0L685.1 215.0"/><path d="M404.7 216.7L407.3 216.6L410.1 216.9L412.6 217.4L415.3 218.3"/><path d="M536.1 218.3L540.7 217.0L545.0 216.6L549.4 217.1L553.7 218.3"/><path d="M674.5 218.3L677.2 217.4L679.7 216.9L682.5 216.6L685.1 216.7"/></g><path d="M419.5 -1.7L422.1 -0.4L424.6 1.2L427.2 3.0L430.0 5.4L433.3 8.4L436.8 11.9L439.9 15.3L442.7 18.6L447.5 24.9L451.3 30.7L457.8 41.6L464.3 53.7L466.9 59.1L468.9 64.0L470.7 69.4L472.0 74.9L473.2 81.5L474.3 89.4L475.0 97.3L475.6 107.2L476.3 97.6L477.1 89.7L478.1 82.1L479.3 75.2L480.6 69.7L482.4 64.3L484.4 59.1L486.9 54.0L493.6 41.6L500.0 30.7L503.8 24.9L508.7 18.6L511.5 15.3L514.7 11.9L518.2 8.3L521.5 5.3L524.4 2.9L526.9 1.1L529.5 -0.5L531.9 -1.7" fill="none" stroke="#77ac30" stroke-width="1.3"/><path d="M557.9 -1.7L560.3 -0.5L562.9 1.1L565.4 2.9L568.3 5.3L571.6 8.3L575.1 11.9L578.3 15.3L581.1 18.6L586.0 24.9L589.8 30.7L596.2 41.6L602.9 54.0L605.4 59.1L607.4 64.3L609.2 69.7L610.5 75.2L611.7 82.1L612.7 89.7L613.5 97.6L614.2 107.2L614.8 97.3L615.5 89.4L616.6 81.5L617.8 74.9L619.1 69.4L620.9 64.0L622.9 59.1L625.5 53.7L632.0 41.6L638.5 30.7L642.3 24.9L647.1 18.6L649.9 15.3L653.0 11.9L656.5 8.4L659.8 5.4L662.6 3.0L665.2 1.2L667.7 -0.4L670.3 -1.7" fill="none" stroke="#77ac30" stroke-width="1.3"/></g>
<path d="M406.5 2.3V214.3H683.3" fill="none" stroke="#262626" stroke-width="0.8"/>
<path d="M406.5 2.3H683.3" fill="none" stroke="#262626" stroke-width="0.8"/>
<path d="M683.3 2.3V214.3" fill="none" stroke="#777" stroke-width="0.8"/>
<path d="M406.5 197.3h3M683.3 197.3h-3" stroke="#262626" stroke-width="0.9"/>
<text x="402.8" y="200.4" font-family="Liberation Sans" font-size="8.6" text-anchor="end" fill="#262626" >0.75</text>
<path d="M406.5 176.1h3M683.3 176.1h-3" stroke="#262626" stroke-width="0.9"/>
<text x="402.8" y="179.2" font-family="Liberation Sans" font-size="8.6" text-anchor="end" fill="#262626" >0.76</text>
<path d="M406.5 154.9h3M683.3 154.9h-3" stroke="#262626" stroke-width="0.9"/>
<text x="402.8" y="158" font-family="Liberation Sans" font-size="8.6" text-anchor="end" fill="#262626" >0.77</text>
<path d="M406.5 133.7h3M683.3 133.7h-3" stroke="#262626" stroke-width="0.9"/>
<text x="402.8" y="136.8" font-family="Liberation Sans" font-size="8.6" text-anchor="end" fill="#262626" >0.78</text>
<path d="M406.5 112.4h3M683.3 112.4h-3" stroke="#262626" stroke-width="0.9"/>
<text x="402.8" y="115.5" font-family="Liberation Sans" font-size="8.6" text-anchor="end" fill="#262626" >0.79</text>
<path d="M406.5 91.2h3M683.3 91.2h-3" stroke="#262626" stroke-width="0.9"/>
<text x="402.8" y="94.3" font-family="Liberation Sans" font-size="8.6" text-anchor="end" fill="#262626" >0.8</text>
<path d="M406.5 70h3M683.3 70h-3" stroke="#262626" stroke-width="0.9"/>
<text x="402.8" y="73.1" font-family="Liberation Sans" font-size="8.6" text-anchor="end" fill="#262626" >0.81</text>
<path d="M406.5 48.8h3M683.3 48.8h-3" stroke="#262626" stroke-width="0.9"/>
<text x="402.8" y="51.9" font-family="Liberation Sans" font-size="8.6" text-anchor="end" fill="#262626" >0.82</text>
<path d="M406.5 27.6h3M683.3 27.6h-3" stroke="#262626" stroke-width="0.9"/>
<text x="402.8" y="30.7" font-family="Liberation Sans" font-size="8.6" text-anchor="end" fill="#262626" >0.83</text>
<path d="M406.5 6.3h3M683.3 6.3h-3" stroke="#262626" stroke-width="0.9"/>
<text x="402.8" y="9.4" font-family="Liberation Sans" font-size="8.6" text-anchor="end" fill="#262626" >0.84</text>
<path d="M412.7 214.3v-3M412.7 2.3v3" stroke="#262626" stroke-width="0.9"/>
<text x="412.7" y="226.7" font-family="Liberation Sans" font-size="8.6" text-anchor="middle" fill="#262626" >-3</text>
<path d="M456.8 214.3v-3M456.8 2.3v3" stroke="#262626" stroke-width="0.9"/>
<text x="456.8" y="226.7" font-family="Liberation Sans" font-size="8.6" text-anchor="middle" fill="#262626" >-2</text>
<path d="M500.8 214.3v-3M500.8 2.3v3" stroke="#262626" stroke-width="0.9"/>
<text x="500.8" y="226.7" font-family="Liberation Sans" font-size="8.6" text-anchor="middle" fill="#262626" >-1</text>
<path d="M544.9 214.3v-3M544.9 2.3v3" stroke="#262626" stroke-width="0.9"/>
<text x="544.9" y="226.7" font-family="Liberation Sans" font-size="8.6" text-anchor="middle" fill="#262626" >0</text>
<path d="M589 214.3v-3M589 2.3v3" stroke="#262626" stroke-width="0.9"/>
<text x="589" y="226.7" font-family="Liberation Sans" font-size="8.6" text-anchor="middle" fill="#262626" >1</text>
<path d="M633 214.3v-3M633 2.3v3" stroke="#262626" stroke-width="0.9"/>
<text x="633" y="226.7" font-family="Liberation Sans" font-size="8.6" text-anchor="middle" fill="#262626" >2</text>
<path d="M677.1 214.3v-3M677.1 2.3v3" stroke="#262626" stroke-width="0.9"/>
<text x="677.1" y="226.7" font-family="Liberation Sans" font-size="8.6" text-anchor="middle" fill="#262626" >3</text>

<text x="544.9" y="244.8" font-family="Liberation Serif" font-size="17" text-anchor="middle" fill="#1a1a1a" font-style="italic" >g</text>
<text transform="translate(377.6 108.3) rotate(-90)" x="0" y="0" font-family="Liberation Serif" font-style="italic" font-size="19.5" text-anchor="middle" fill="#1a1a1a">G</text>
<clipPath id="rcb"><rect x="406.5" y="307.5" width="276.8" height="212.7"/></clipPath><g clip-path="url(#rcb)"><g fill="none" stroke="#b9b9b9" stroke-width="0.8"><path d="M474.2 303.6L477.2 303.6"/><path d="M612.6 303.6L615.6 303.6"/><path d="M453.5 303.6L459.1 306.1L464.4 307.8L470.0 308.9L475.6 309.2L481.5 308.9L487.1 307.8L492.5 306.1L497.8 303.6"/><path d="M592.0 303.6L597.3 306.1L602.7 307.8L608.3 308.9L614.2 309.2L619.8 308.9L625.4 307.8L630.7 306.1L636.3 303.6"/><path d="M443.8 303.6L447.8 306.5L451.7 308.9L455.5 310.9L459.3 312.5L463.4 313.8L467.5 314.8L471.6 315.3L475.6 315.5L479.7 315.3L483.8 314.8L487.9 313.9L492.0 312.6L496.0 310.8L499.9 308.8L503.7 306.4L507.6 303.6"/><path d="M582.2 303.6L586.1 306.4L589.9 308.8L593.8 310.8L597.8 312.6L601.9 313.9L606.0 314.8L610.1 315.3L614.2 315.5L618.2 315.3L622.3 314.8L626.4 313.8L630.5 312.5L634.3 310.9L638.1 308.9L642.0 306.5L646.0 303.6"/><path d="M435.5 303.6L440.7 308.2L445.5 312.1L450.4 315.3L455.2 317.9L460.1 319.9L465.2 321.4L470.3 322.3L475.6 322.6L481.0 322.3L486.1 321.4L491.2 319.9L496.0 317.9L500.9 315.3L505.7 312.1L510.6 308.3L515.9 303.6"/><path d="M573.9 303.6L579.2 308.3L584.1 312.1L588.9 315.3L593.8 317.9L598.6 319.9L603.7 321.4L608.8 322.3L614.2 322.6L619.5 322.3L624.6 321.4L629.7 319.9L634.6 317.9L639.4 315.3L644.3 312.1L649.1 308.2L654.3 303.6"/><path d="M427.0 303.6L435.1 311.4L440.7 316.3L446.0 320.4L451.1 323.6L457.5 326.7L463.9 329.0L469.8 330.4L475.6 330.9L481.5 330.4L487.4 329.1L493.8 326.8L500.1 323.7L505.2 320.5L510.6 316.4L516.2 311.5L524.4 303.6"/><path d="M565.4 303.6L573.6 311.5L579.2 316.4L584.6 320.5L589.7 323.7L596.0 326.8L602.4 329.1L608.3 330.4L614.2 330.9L620.0 330.4L625.9 329.0L632.3 326.7L638.7 323.6L643.8 320.4L649.1 316.3L654.7 311.4L662.8 303.6"/><path d="M415.2 303.6L418.2 305.5L421.8 308.3L434.1 319.4L438.3 323.0L443.8 326.9L451.7 332.0L459.6 336.7L464.7 339.1L467.5 340.0L470.3 340.7L472.8 341.1L475.6 341.2L478.4 341.1L481.0 340.7L483.8 340.1L486.6 339.1L491.7 336.8L499.4 332.3L507.5 327.0L513.0 323.0L517.2 319.5L529.7 308.2L533.0 305.6L536.2 303.6"/><path d="M553.6 303.6L556.8 305.6L560.1 308.2L572.6 319.5L576.8 323.0L582.3 327.0L590.4 332.3L598.1 336.8L603.2 339.1L606.0 340.1L608.8 340.7L611.4 341.1L614.2 341.2L617.0 341.1L619.5 340.7L622.3 340.0L625.1 339.1L630.2 336.7L638.1 332.0L646.0 326.9L651.5 323.0L655.7 319.4L668.0 308.3L671.6 305.5L674.6 303.6"/><path d="M404.7 311.9L407.8 311.8L410.8 312.4L413.9 313.6L417.2 315.4L420.5 317.6L428.3 323.6L441.5 333.3L443.8 335.1L453.4 343.9L460.1 348.9L465.2 352.3L469.3 354.5L472.6 355.7L475.6 356.1L478.4 355.8L481.5 354.7L485.1 352.9L489.7 350.1L493.5 347.4L497.3 344.4L509.5 333.6L523.1 323.6L531.3 317.3L534.1 315.4L536.9 313.8L539.4 312.8L541.7 312.1L545.0 311.8L548.3 312.2L551.7 313.3L555.2 315.1L559.1 317.7L566.7 323.6L580.0 333.3L582.2 335.1L592.0 343.9L598.6 349.0L603.7 352.3L607.8 354.5L611.1 355.7L614.2 356.1L617.2 355.7L620.5 354.5L624.6 352.3L629.7 348.9L636.4 343.9L646.0 335.1L648.3 333.3L661.5 323.6L669.3 317.6L672.6 315.4L675.9 313.6L679.0 312.4L682.0 311.8L685.1 311.9"/><path d="M404.7 322.7L407.3 322.6L410.1 322.9L412.9 323.6L415.9 324.6L419.5 326.2L423.3 328.2L426.9 330.3L430.5 332.8L433.2 334.8L435.5 337.0L441.5 343.3L447.4 350.6L449.2 353.3L450.6 356.1L452.7 361.2L454.8 368.2L456.5 375.5L457.6 382.8L458.9 397.6L459.2 418.9L459.7 431.6L460.6 440.7L462.1 449.8L463.6 454.5L465.2 458.6L466.9 462.2L468.5 464.8L470.1 466.8L471.8 468.2L473.6 469.1L475.6 469.4L477.7 469.1L479.5 468.3L481.3 466.8L483.0 464.7L484.6 461.9L486.3 458.3L487.9 454.0L489.3 449.5L490.8 440.4L491.7 431.3L492.2 418.6L492.5 398.2L493.5 384.6L494.3 378.8L495.4 373.1L496.8 367.3L498.4 361.8L499.9 357.9L501.5 354.5L503.4 351.5L505.8 348.2L510.4 342.7L514.6 338.2L517.8 335.1L521.8 332.1L526.1 329.3L530.5 326.9L534.8 324.9L538.6 323.5L542.0 322.8L545.0 322.6L548.3 322.9L551.7 323.7L556.5 325.5L561.6 328.1L566.7 331.2L571.6 334.8L575.1 338.1L578.9 342.1L583.5 347.6L586.4 351.5L587.9 353.9L589.3 356.7L591.7 363.0L594.1 371.5L595.8 380.6L596.4 385.8L597.3 397.3L597.6 419.2L598.1 431.9L599.0 441.0L600.6 449.8L602.1 454.6L603.7 458.7L605.3 462.2L607.0 465.0L608.5 466.8L610.3 468.3L612.4 469.2L614.4 469.4L616.5 469.0L618.2 468.1L619.8 466.7L621.4 464.7L623.1 461.8L624.6 458.5L626.2 454.5L627.7 449.8L629.2 440.7L630.1 431.6L630.6 418.9L630.9 397.6L632.2 382.8L633.3 375.5L635.0 368.2L637.1 361.2L639.2 356.1L640.6 353.3L642.4 350.6L648.3 343.3L654.3 337.0L656.6 334.8L659.3 332.8L662.9 330.3L666.5 328.2L670.3 326.2L673.9 324.6L676.9 323.6L679.7 322.9L682.5 322.6L685.1 322.7"/><path d="M404.7 330.4L409.6 330.5L414.4 331.5L419.5 333.5L424.1 336.1L428.7 339.9L433.1 344.5L437.3 350.0L440.2 355.2L442.2 360.0L443.9 365.8L445.2 371.8L446.4 378.8L448.2 398.2L449.4 419.2L450.4 432.2L451.5 441.6L452.8 450.1L455.3 458.0L457.8 464.7L459.8 469.1L462.0 472.5L465.2 475.9L468.5 478.3L472.1 479.8L473.9 480.1L475.6 480.3L478.7 479.9L481.8 478.8L484.7 477.1L487.5 474.7L489.8 471.9L491.7 468.9L493.5 465.0L495.4 460.1L498.6 450.1L500.1 440.4L501.3 428.3L503.1 399.4L504.5 383.4L505.7 374.3L507.4 366.1L508.7 361.5L510.2 357.3L511.9 353.6L513.9 350.3L516.8 346.4L520.3 342.3L523.5 339.1L526.9 336.4L529.8 334.5L533.3 332.8L536.6 331.6L539.9 330.8L543.2 330.3L546.3 330.3L549.6 330.7L552.9 331.5L556.3 332.7L559.6 334.3L562.4 336.0L565.4 338.4L568.5 341.2L571.3 344.3L574.2 347.9L576.7 351.5L579.2 356.4L581.2 361.8L583.0 368.8L584.5 376.7L585.3 383.1L586.6 397.9L587.9 419.8L588.9 433.0L590.2 443.7L591.5 450.9L594.0 458.9L596.3 465.0L598.5 469.5L600.7 472.8L603.7 476.0L607.3 478.5L610.8 479.9L612.6 480.2L614.7 480.3L616.5 480.1L618.2 479.6L621.8 478.0L625.1 475.4L628.0 472.2L630.1 468.9L632.2 464.4L634.6 457.9L637.0 450.1L638.3 441.6L639.4 432.2L640.4 419.2L641.6 398.2L643.4 378.8L644.6 371.8L645.9 365.8L647.6 360.0L649.6 355.2L652.5 350.0L656.7 344.5L661.1 339.9L665.7 336.1L670.3 333.5L675.4 331.5L680.2 330.5L685.1 330.4"/><path d="M404.7 337.7L408.8 337.7L412.6 338.5L416.5 339.9L420.3 342.2L423.9 345.1L427.4 348.8L430.5 353.0L432.8 357.3L434.7 361.8L436.3 366.7L437.6 372.1L438.7 378.2L441.0 397.9L443.0 422.8L444.5 437.7L446.3 449.8L448.5 456.8L451.2 464.4L453.7 470.1L456.2 474.4L459.3 478.4L463.4 482.4L467.2 485.1L469.3 486.0L471.3 486.7L473.3 487.2L475.6 487.3L479.2 486.9L482.8 485.8L486.1 483.9L489.4 481.1L493.0 477.3L495.8 473.5L498.1 469.2L500.6 463.4L502.8 457.1L505.0 450.1L506.0 443.7L507.8 429.5L510.2 399.4L511.9 384.3L513.0 376.4L514.5 369.1L515.8 364.6L517.1 360.6L518.7 357.0L520.5 353.6L522.6 350.6L525.1 347.5L527.9 344.7L530.8 342.4L533.3 340.8L535.8 339.5L538.4 338.6L540.9 338.0L543.5 337.7L546.3 337.7L548.9 338.0L551.4 338.6L554.0 339.5L556.5 340.8L559.0 342.4L561.3 344.2L563.7 346.4L565.9 349.0L567.9 351.5L569.6 354.2L571.9 358.8L573.9 364.3L575.5 370.0L576.9 376.7L577.8 383.1L579.4 397.3L581.5 424.0L583.1 438.9L584.8 450.1L587.4 458.3L590.1 465.6L592.5 470.9L595.2 475.3L598.5 479.2L602.3 482.9L606.3 485.4L608.3 486.3L610.3 486.9L612.4 487.2L614.7 487.3L616.8 487.1L619.0 486.6L621.0 485.8L623.1 484.8L626.9 482.0L630.8 478.0L633.8 474.1L636.3 469.8L638.7 464.3L641.5 456.4L643.5 449.8L645.3 437.7L646.8 422.8L648.8 397.9L651.0 378.5L652.2 372.1L653.5 366.7L655.1 361.8L657.0 357.3L659.3 353.0L662.4 348.8L665.9 345.1L669.5 342.2L673.3 339.9L677.2 338.5L681.0 337.7L685.1 337.7"/><path d="M404.7 346.3L408.5 346.4L412.1 347.2L415.7 348.9L419.0 351.2L422.0 354.2L424.7 357.9L427.0 362.1L429.1 367.3L431.4 375.5L433.2 384.9L435.0 399.1L438.4 432.8L439.6 441.6L440.9 449.2L442.2 453.7L444.4 460.4L446.5 465.9L448.4 470.1L450.7 474.4L453.5 478.6L457.3 483.5L461.1 487.2L464.7 489.8L468.2 491.6L471.8 492.7L475.6 493.2L479.7 492.7L483.8 491.4L487.6 489.2L491.4 486.2L495.0 482.3L499.6 476.2L502.3 471.6L504.8 466.2L507.1 460.1L509.4 453.1L510.3 450.1L511.1 445.9L513.3 430.1L516.8 395.2L518.6 382.2L520.5 373.4L521.7 369.1L522.9 365.5L524.4 362.1L526.1 358.8L527.9 356.1L529.9 353.6L532.0 351.6L534.3 349.8L538.1 347.6L540.2 346.9L542.2 346.4L544.3 346.2L546.3 346.3L548.3 346.6L550.4 347.1L552.4 348.0L554.5 349.1L558.0 351.8L561.4 355.4L564.2 359.7L566.2 363.8L567.9 368.5L569.4 373.7L570.7 379.4L573.2 397.0L576.3 428.0L578.3 443.4L579.5 450.1L581.6 456.8L583.7 462.8L586.5 469.5L589.3 474.7L594.0 481.4L597.6 485.4L601.7 488.9L605.7 491.2L607.8 492.1L610.1 492.7L612.1 493.1L614.4 493.2L618.0 492.7L621.6 491.6L625.1 489.8L628.7 487.2L632.5 483.5L636.3 478.6L639.1 474.4L641.4 470.1L643.3 465.9L645.4 460.4L647.6 453.7L648.9 449.2L650.2 441.6L651.4 432.8L654.8 399.1L656.6 384.9L658.4 375.5L660.7 367.3L662.8 362.1L665.1 357.9L667.8 354.2L670.8 351.2L674.1 348.9L677.7 347.2L681.3 346.4L685.1 346.3"/><path d="M404.7 356.7L407.8 356.7L410.6 357.3L413.4 358.7L415.9 360.6L418.2 363.1L420.4 366.4L422.3 370.0L424.0 374.3L425.2 378.2L426.3 382.8L428.5 394.6L433.4 433.1L434.8 442.2L436.2 449.8L440.1 461.6L442.3 467.1L444.3 471.3L447.2 476.5L452.1 483.8L455.5 487.8L459.1 491.3L463.1 494.3L467.2 496.5L471.3 497.8L475.6 498.2L480.0 497.8L484.1 496.5L488.4 494.2L492.5 491.2L496.3 487.4L499.6 483.3L504.4 476.2L507.4 470.7L509.5 466.2L511.6 460.7L513.7 454.6L515.3 449.5L516.7 441.9L518.0 432.8L522.8 395.2L524.9 383.5L527.0 375.5L528.6 371.2L530.2 367.6L532.1 364.6L534.3 361.8L536.6 359.7L539.2 358.0L541.7 357.0L544.5 356.6L547.3 356.8L549.9 357.6L552.4 359.1L555.0 361.2L557.3 364.0L559.2 367.0L560.9 370.3L562.5 374.6L563.7 378.5L564.8 383.1L567.0 394.8L571.8 433.1L573.2 442.2L574.6 449.8L577.0 457.4L579.8 465.0L582.4 470.7L585.0 475.6L590.5 483.8L594.9 488.9L597.5 491.4L600.1 493.4L602.7 495.0L605.5 496.4L608.3 497.4L610.8 498.0L613.7 498.2L616.5 498.1L619.3 497.6L622.1 496.7L624.9 495.4L627.4 493.8L631.5 490.6L635.2 486.8L638.4 482.9L642.7 476.3L645.2 471.9L647.4 467.4L649.9 461.0L652.3 454.0L653.6 449.8L655.7 438.3L657.9 422.2L660.6 399.3L662.6 387.0L664.6 378.2L667.1 370.9L668.8 367.5L670.5 364.5L672.6 361.9L674.9 359.8L677.2 358.2L679.7 357.1L682.3 356.6L685.1 356.7"/><path d="M404.7 370.2L406.8 370.0L408.8 370.4L410.8 371.4L412.6 372.8L414.4 374.8L416.2 377.5L417.7 380.5L419.1 384.0L421.3 391.6L422.8 398.5L428.6 434.9L431.5 449.8L433.5 455.9L435.8 462.2L438.3 468.0L440.7 472.8L443.5 477.7L449.4 486.5L453.4 491.3L457.5 495.2L461.9 498.4L466.5 500.8L471.0 502.2L475.6 502.6L477.9 502.5L480.5 502.1L485.1 500.7L489.7 498.3L494.1 495.0L498.3 490.9L502.2 486.2L508.1 477.4L511.0 472.2L513.2 467.7L515.7 461.9L517.9 455.9L519.9 449.8L522.9 434.6L528.5 398.8L530.0 392.1L532.0 384.9L533.2 381.5L534.6 378.6L536.1 376.0L537.6 374.0L539.4 372.2L541.2 371.0L543.0 370.3L544.8 370.0L546.6 370.2L548.3 370.9L550.1 372.0L551.7 373.4L553.2 375.3L554.7 377.7L556.2 380.6L557.4 383.7L559.6 391.3L561.2 398.2L567.0 435.2L568.5 443.4L570.0 450.1L573.3 459.8L577.1 468.9L580.3 475.0L585.0 482.6L587.3 485.9L589.7 488.9L592.2 491.7L595.0 494.4L597.6 496.5L600.4 498.5L602.9 499.9L605.7 501.1L608.5 502.0L611.4 502.5L614.2 502.6L617.0 502.5L619.8 501.9L622.6 501.1L625.4 499.9L628.1 498.3L631.3 496.1L634.3 493.4L637.4 490.2L640.2 486.8L643.0 482.9L647.4 475.9L649.6 471.9L651.8 467.4L655.6 458.0L658.5 448.9L661.3 434.3L667.0 398.7L668.4 391.9L670.5 384.4L671.8 381.1L673.4 377.9L675.1 375.1L676.9 373.0L679.0 371.4L681.0 370.4L683.0 370.0L685.1 370.2"/><path d="M404.7 390.3L406.0 390.0L407.3 390.0L408.5 390.5L409.6 391.2L410.8 392.5L411.9 394.0L414.1 398.5L415.7 403.4L417.2 409.1L424.3 440.7L426.7 450.1L429.5 457.7L432.4 464.7L435.4 471.0L438.5 476.5L443.7 484.7L447.5 489.8L451.9 494.9L456.5 499.1L461.1 502.3L465.7 504.5L470.5 505.9L473.1 506.3L475.6 506.4L478.2 506.3L480.7 505.9L485.6 504.6L490.4 502.2L495.1 498.9L499.7 494.7L504.2 489.5L507.9 484.4L513.4 475.6L516.3 470.4L519.3 464.1L522.0 457.4L524.7 450.1L527.1 440.7L533.8 410.5L535.3 404.6L536.9 399.7L538.6 395.6L540.6 392.5L541.7 391.3L542.7 390.6L543.8 390.1L544.8 389.9L546.0 390.1L547.1 390.6L548.3 391.5L549.4 392.7L551.4 396.1L553.2 400.5L554.7 405.5L556.3 411.6L564.4 447.4L565.5 451.3L568.6 459.5L571.9 467.1L575.0 473.2L580.9 482.9L584.3 487.7L589.3 493.8L592.0 496.5L594.5 498.8L597.1 500.8L599.9 502.5L602.4 503.8L605.2 504.9L608.0 505.7L610.8 506.2L613.9 506.4L616.7 506.3L619.5 505.9L622.3 505.1L625.1 504.1L627.9 502.7L631.3 500.6L634.6 498.0L638.1 494.7L641.5 490.9L644.2 487.4L646.9 483.5L651.8 475.6L654.7 470.4L659.2 460.4L663.2 449.8L665.5 440.4L672.3 410.1L674.1 403.4L675.6 398.8L677.7 394.4L678.8 392.8L680.0 391.4L681.3 390.5L682.5 390.0L683.8 390.0L685.1 390.3"/><path d="M404.7 421.8L405.7 421.4L406.5 421.3L407.3 421.4L408.3 421.8L410.1 423.4L411.9 426.0L413.4 429.0L415.2 433.2L421.5 450.7L424.7 458.3L428.1 465.3L431.2 471.3L434.3 476.5L440.2 485.6L444.6 491.7L448.3 495.9L452.2 499.7L456.0 502.9L459.6 505.2L463.4 507.2L467.5 508.6L471.6 509.4L475.6 509.7L480.0 509.4L484.1 508.5L488.1 507.1L492.2 505.0L496.0 502.4L499.8 499.2L503.6 495.3L507.5 490.7L511.6 485.0L517.7 475.6L520.6 470.4L523.8 464.4L527.0 457.4L530.2 450.1L535.8 434.1L538.9 427.1L540.4 424.5L542.0 422.7L543.5 421.6L544.8 421.3L546.3 421.6L548.1 423.0L549.6 424.9L551.4 428.1L554.0 434.1L559.5 449.8L560.9 453.1L565.4 463.1L570.2 472.2L572.9 476.8L579.6 487.1L583.3 492.0L587.4 496.6L592.0 501.0L596.6 504.4L601.2 506.9L606.0 508.6L611.1 509.6L616.2 509.6L621.3 508.8L626.4 507.2L629.5 505.7L632.3 504.0L635.1 501.9L637.9 499.5L640.9 496.5L643.8 493.3L646.6 489.8L649.4 485.9L657.5 473.2L660.3 468.0L663.5 461.6L668.6 450.1L674.4 433.8L676.2 429.5L677.7 426.4L679.7 423.4L681.5 421.8L682.5 421.4L683.3 421.3L684.1 421.4L685.1 421.8"/><path d="M404.7 445.6L406.5 445.2L408.5 445.7L410.6 447.1L412.9 449.6L417.0 455.4L428.3 474.1L436.5 486.2L442.8 494.4L446.0 498.0L449.1 501.1L452.2 503.8L455.2 506.1L458.5 508.0L461.6 509.6L464.9 510.9L468.5 511.9L472.1 512.4L475.6 512.7L479.5 512.4L483.0 511.8L486.6 510.8L490.2 509.4L493.5 507.7L496.8 505.6L499.9 503.2L503.2 500.2L509.4 493.5L515.3 485.6L523.5 473.5L534.1 456.0L537.9 450.4L539.7 448.2L541.5 446.5L543.2 445.5L544.8 445.2L546.3 445.4L548.1 446.4L549.6 447.7L551.4 449.7L555.5 455.6L566.7 474.1L575.8 487.4L579.5 492.3L583.1 496.5L586.6 500.2L590.2 503.5L594.3 506.5L598.3 508.8L602.7 510.6L607.0 511.9L611.6 512.6L615.9 512.6L620.3 512.1L624.6 511.0L629.7 508.9L634.8 505.9L639.4 502.3L644.3 497.4L649.5 491.4L654.6 484.4L662.4 472.5L673.3 454.6L676.9 449.6L679.2 447.1L681.3 445.7L683.3 445.2L685.1 445.6"/><path d="M404.7 459.6L407.0 459.4L409.6 460.1L412.4 461.8L415.2 464.3L417.7 467.0L420.5 470.5L433.7 488.0L438.5 494.1L444.6 500.8L450.3 505.9L453.2 508.0L456.3 509.9L459.3 511.5L462.6 512.9L465.9 514.0L469.3 514.8L472.6 515.3L475.6 515.4L479.0 515.3L482.3 514.8L485.6 514.0L488.9 512.9L492.2 511.4L495.5 509.7L498.6 507.7L501.7 505.4L507.1 500.5L513.1 493.8L517.7 488.0L530.5 471.0L535.3 465.2L537.9 462.7L540.4 460.8L542.7 459.7L544.8 459.4L546.8 459.7L549.1 460.6L551.4 462.2L554.0 464.6L558.8 470.3L572.6 488.6L578.0 495.3L584.6 502.3L587.6 505.0L590.9 507.6L594.8 510.0L598.7 512.0L602.9 513.6L607.0 514.7L611.1 515.3L614.9 515.4L619.0 515.1L623.1 514.2L628.2 512.5L633.0 510.2L637.6 507.3L642.0 503.8L647.0 498.9L652.3 492.9L656.4 487.7L669.0 470.8L674.4 464.5L677.4 461.8L680.0 460.2L682.5 459.5L685.1 459.6"/><path d="M404.7 469.3L407.5 469.2L410.3 469.9L413.4 471.5L416.5 473.9L422.7 480.1L433.7 493.2L440.0 500.1L445.4 505.3L450.6 509.4L456.8 513.1L460.1 514.7L463.4 516.0L466.7 517.0L469.8 517.7L472.8 518.1L475.6 518.2L478.7 518.1L481.8 517.7L484.8 517.0L488.1 515.9L491.5 514.6L495.0 512.9L498.2 511.1L501.4 508.9L506.3 505.0L511.6 499.8L517.9 492.9L528.7 480.1L534.1 474.7L537.1 472.1L539.7 470.5L542.2 469.5L544.8 469.1L547.3 469.4L549.9 470.4L552.7 472.1L555.5 474.4L561.1 480.1L572.7 493.8L579.3 501.1L585.2 506.5L591.1 510.8L595.0 513.0L599.1 514.9L603.2 516.4L607.0 517.5L610.8 518.1L614.4 518.2L618.0 518.0L621.8 517.3L626.7 515.9L631.8 513.7L636.6 511.1L641.2 507.9L645.8 504.1L650.6 499.2L656.6 492.6L667.1 480.1L673.1 474.1L676.4 471.5L679.5 469.9L682.3 469.2L685.1 469.3"/><path d="M404.7 476.9L407.5 476.8L410.6 477.5L413.9 479.0L417.2 481.3L420.0 483.6L423.1 486.5L435.5 499.5L440.5 504.4L445.8 508.9L451.1 512.6L457.8 516.3L464.4 519.1L470.3 520.7L473.1 521.1L475.6 521.2L478.4 521.1L481.5 520.6L484.6 519.9L487.6 518.9L494.8 515.7L501.7 511.7L506.7 508.0L511.6 503.8L516.2 499.2L527.7 487.2L532.5 482.6L535.3 480.4L537.6 478.9L540.2 477.7L542.5 477.0L545.5 476.8L548.6 477.4L551.9 478.8L555.2 481.0L558.0 483.3L561.4 486.4L574.2 499.8L579.2 504.7L584.3 509.0L589.9 512.8L596.6 516.5L602.9 519.2L608.8 520.7L611.6 521.1L614.2 521.2L616.7 521.1L619.5 520.7L625.4 519.1L632.0 516.3L638.7 512.6L644.0 508.9L649.3 504.4L654.3 499.5L666.7 486.5L669.8 483.6L672.6 481.3L675.9 479.0L679.2 477.5L682.3 476.8L685.1 476.9"/><path d="M404.7 483.3L407.3 483.2L410.1 483.7L412.9 484.6L415.9 486.2L419.0 488.3L422.3 491.0L438.3 505.9L442.3 509.2L446.5 512.3L453.2 516.5L460.1 520.2L465.9 522.7L470.8 524.1"/><path d="M480.6 524.1L485.1 522.9L489.9 520.9L495.8 517.9L502.2 514.1L507.3 510.6L512.0 506.8L526.9 492.9L533.0 487.9L536.1 485.9L539.2 484.4L542.0 483.5L544.8 483.2L547.6 483.5L550.4 484.3L553.4 485.7L556.8 487.9L562.9 492.9L573.7 503.2L578.1 507.1L582.7 510.8L587.9 514.3L594.0 517.9L599.9 520.9L604.7 522.9L609.2 524.1"/><path d="M619.0 524.1L623.9 522.7L629.7 520.2L636.6 516.5L643.3 512.3L647.5 509.2L651.5 505.9L667.5 491.0L670.8 488.3L673.9 486.2L676.9 484.6L679.7 483.7L682.5 483.2L685.1 483.3"/><path d="M404.7 488.8L407.8 488.7L411.1 489.3L414.4 490.6L418.0 492.5L423.9 496.8L435.9 507.1L441.7 511.7L450.9 517.8L461.4 524.1"/><path d="M489.9 524.1L500.4 517.9L509.7 511.7L515.5 507.1L527.4 496.9L533.0 492.8L536.1 491.0L539.2 489.7L542.2 488.9L545.0 488.7L547.8 489.0L550.6 489.7L553.7 491.0L557.0 492.9L562.4 496.9L574.3 507.1L580.1 511.7L589.4 517.9L599.9 524.1"/><path d="M628.4 524.1L638.9 517.8L648.1 511.7L653.9 507.1L665.9 496.8L671.8 492.5L675.4 490.6L678.7 489.3L682.0 488.7L685.1 488.8"/><path d="M404.7 493.5L408.0 493.5L411.6 494.2L415.2 495.5L418.7 497.3L424.1 501.0L438.8 512.3L455.9 524.1"/><path d="M495.4 524.1L513.0 512.0L526.9 501.2L531.8 497.9L535.3 495.9L538.6 494.5L541.7 493.7L544.8 493.4L547.8 493.7L551.2 494.5L554.5 495.9L557.8 497.7L562.9 501.2L576.8 512.0L594.4 524.1"/><path d="M633.9 524.1L651.0 512.3L665.7 501.0L671.1 497.3L674.6 495.5L678.2 494.2L681.8 493.5L685.1 493.5"/><path d="M404.7 497.7L408.3 497.7L411.9 498.4L415.4 499.6L419.3 501.5L425.9 505.8L445.4 519.6L451.5 524.1"/><path d="M499.9 524.1L507.7 518.3L526.4 505.2L531.3 502.0L535.1 500.0L538.4 498.7L541.7 497.9L544.8 497.7L548.1 497.9L551.4 498.7L554.7 500.0L558.5 502.0L563.4 505.2L582.1 518.3L589.9 524.1"/><path d="M638.3 524.1L644.4 519.6L663.9 505.8L670.5 501.5L674.4 499.6L677.9 498.4L681.5 497.7L685.1 497.7"/><path d="M404.7 501.6L408.3 501.6L411.9 502.2L415.7 503.4L419.8 505.3L425.6 508.8L436.1 515.7L442.5 520.2L447.5 524.1"/><path d="M503.9 524.1L508.5 520.5L514.7 516.1L524.9 509.3L530.7 505.8L534.6 503.9L538.1 502.5L541.5 501.8L544.8 501.5L548.1 501.7L551.7 502.5L555.2 503.9L559.1 505.8L564.9 509.3L575.1 516.1L581.3 520.5L585.9 524.1"/><path d="M642.3 524.1L647.3 520.2L653.7 515.7L664.2 508.8L670.0 505.3L674.1 503.4L677.9 502.2L681.5 501.6L685.1 501.6"/><path d="M404.7 505.0L408.3 505.0L412.1 505.6L415.9 506.8L420.3 508.7L426.1 511.9L433.3 516.3L438.9 520.2L443.7 524.1"/><path d="M507.6 524.1L512.1 520.5L517.2 516.9L523.9 512.7L529.7 509.4L533.8 507.5L537.6 506.1L541.2 505.3L544.8 505.0L548.1 505.2L551.7 505.9L555.5 507.2L559.6 509.1L565.4 512.4L572.3 516.7L577.7 520.5L582.2 524.1"/><path d="M646.1 524.1L650.9 520.2L656.5 516.3L663.7 511.9L669.5 508.7L673.9 506.8L677.7 505.6L681.5 505.0L685.1 505.0"/><path d="M404.7 508.2L408.3 508.2L412.1 508.7L415.9 509.8L420.3 511.5L425.6 514.2L431.0 517.3L436.0 520.8L440.2 524.1"/><path d="M511.2 524.1L515.2 520.9L519.8 517.7L524.9 514.7L529.7 512.1L533.8 510.4L537.6 509.1L541.2 508.4L544.8 508.1L548.3 508.3L551.9 509.1L555.7 510.3L559.8 512.0L564.9 514.7L570.0 517.7L574.6 520.9L578.6 524.1"/><path d="M649.6 524.1L653.8 520.8L658.8 517.3L664.2 514.2L669.5 511.5L673.9 509.8L677.7 508.7L681.5 508.2L685.1 508.2"/><path d="M404.7 511.0L408.3 511.0L411.9 511.5L415.7 512.4L419.8 513.9L424.1 515.9L428.7 518.4L432.8 521.1L436.6 524.1"/><path d="M514.8 524.1L518.2 521.4L522.1 518.8L526.1 516.5L530.5 514.4L534.6 512.8L538.1 511.8L541.7 511.1L545.0 511.0L548.3 511.2L551.9 511.8L555.5 512.9L559.3 514.4L563.7 516.5L567.7 518.8L571.6 521.4L575.0 524.1"/><path d="M653.2 524.1L657.0 521.1L661.1 518.4L665.7 515.9L670.0 513.9L674.1 512.4L677.9 511.5L681.5 511.0L685.1 511.0"/><path d="M404.7 513.6L408.0 513.6L411.4 514.0L414.9 514.7L418.5 515.9L422.3 517.5L426.1 519.5L429.7 521.7L433.0 524.1"/><path d="M518.4 524.1L521.3 521.9L524.6 519.8L528.2 517.9L531.8 516.3L535.1 515.1L538.4 514.3L541.7 513.7L544.8 513.6L547.8 513.7L551.2 514.2L554.5 515.0L558.0 516.3L561.6 517.9L565.2 519.8L568.5 521.9L571.4 524.1"/><path d="M656.8 524.1L660.1 521.7L663.7 519.5L667.5 517.5L671.3 515.9L674.9 514.7L678.4 514.0L681.8 513.6L685.1 513.6"/><path d="M404.7 516.1L407.8 516.0L410.8 516.3L413.9 516.9L417.0 517.8L420.1 519.0L423.3 520.5L426.4 522.2L429.2 524.1"/><path d="M522.2 524.1L527.5 520.8L533.3 518.2L536.4 517.2L539.2 516.6L542.0 516.2L544.8 516.0L547.6 516.1L550.4 516.5L553.2 517.1L556.3 518.1L562.1 520.7L564.9 522.3L567.6 524.1"/><path d="M660.6 524.1L663.4 522.2L666.5 520.5L669.7 519.0L672.8 517.8L675.9 516.9L679.0 516.3L682.0 516.0L685.1 516.1"/><path d="M404.7 518.5L409.8 518.6L414.9 519.6L420.0 521.4L425.0 524.1"/><path d="M526.4 524.1L530.7 521.7L535.3 519.9L540.2 518.8L544.8 518.4L549.4 518.8L554.2 519.8L559.0 521.7L563.4 524.1"/><path d="M664.8 524.1L669.8 521.4L674.9 519.6L680.0 518.6L685.1 518.5"/><path d="M404.7 521.0L408.5 521.0L412.4 521.5L416.2 522.5L419.9 524.1"/><path d="M531.4 524.1L534.8 522.7L538.1 521.7L541.5 521.1L544.8 520.9L548.1 521.1L551.7 521.7L555.0 522.7L558.4 524.1"/><path d="M669.9 524.1L673.6 522.5L677.4 521.5L681.3 521.0L685.1 521.0"/><path d="M404.7 523.6L408.3 523.6L412.1 524.1"/><path d="M539.3 524.1L542.0 523.7L544.8 523.5L547.6 523.7L550.5 524.1"/><path d="M677.7 524.1L681.5 523.6L685.1 523.6"/></g><path d="M544.9 316.7C546.9 317.3 552.8 318.5 556.7 320.2C560.6 321.9 564.5 324.0 568.4 326.6C572.3 329.2 576.1 332.1 580.0 336.0C583.9 339.9 588.2 345.1 591.7 350.0C595.2 354.9 598.4 360.8 601.1 365.7C603.8 370.6 605.9 374.9 608.1 379.7C610.3 384.4 612.4 390.3 614.1 394.2C615.9 398.1 617.5 400.1 618.6 403.1C619.7 406.1 620.3 409.3 620.8 412.4C621.3 415.5 621.6 418.7 621.7 421.8C621.9 424.9 621.9 428.0 621.7 431.1C621.6 434.2 621.3 437.9 620.8 440.5C620.3 443.1 619.7 445.0 618.6 446.7C617.5 448.4 615.6 450.8 614.1 450.8C612.6 450.8 610.7 448.4 609.6 446.7C608.5 445.0 607.9 443.1 607.4 440.5C606.9 437.9 606.7 434.2 606.5 431.1C606.4 428.0 606.4 424.9 606.5 421.8C606.7 418.7 606.9 415.5 607.4 412.4C607.9 409.3 608.5 406.1 609.6 403.1C610.7 400.1 612.4 398.1 614.1 394.2C615.9 390.3 618.0 384.4 620.1 379.7C622.3 374.9 624.4 370.6 627.1 365.7C629.9 360.8 633.0 354.9 636.5 350.0C640.0 345.1 644.3 339.9 648.2 336.0C652.1 332.1 655.9 329.2 659.8 326.6C663.7 324.0 667.6 321.9 671.5 320.2C675.4 318.5 681.4 317.3 683.3 316.7" fill="none" stroke="#ff0000" stroke-width="1.3"/><path d="M544.9 316.7C542.9 317.3 537.0 318.5 533.1 320.2C529.2 321.9 525.3 324.0 521.4 326.6C517.5 329.2 513.7 332.1 509.8 336.0C505.9 339.9 501.6 345.1 498.1 350.0C494.6 354.9 491.4 360.8 488.7 365.7C486.0 370.6 483.9 374.9 481.7 379.7C479.5 384.4 477.4 390.3 475.7 394.2C473.9 398.1 472.3 400.1 471.2 403.1C470.1 406.1 469.5 409.3 469.0 412.4C468.5 415.5 468.2 418.7 468.1 421.8C467.9 424.9 467.9 428.0 468.1 431.1C468.2 434.2 468.5 437.9 469.0 440.5C469.5 443.1 470.1 445.0 471.2 446.7C472.3 448.4 474.2 450.8 475.7 450.8C477.2 450.8 479.1 448.4 480.2 446.7C481.3 445.0 481.9 443.1 482.4 440.5C482.9 437.9 483.1 434.2 483.3 431.1C483.4 428.0 483.4 424.9 483.3 421.8C483.1 418.7 482.9 415.5 482.4 412.4C481.9 409.3 481.3 406.1 480.2 403.1C479.1 400.1 477.4 398.1 475.7 394.2C473.9 390.3 471.8 384.4 469.7 379.7C467.5 374.9 465.4 370.6 462.7 365.7C459.9 360.8 456.8 354.9 453.3 350.0C449.8 345.1 445.5 339.9 441.6 336.0C437.7 332.1 433.9 329.2 430.0 326.6C426.1 324.0 422.2 321.9 418.3 320.2C414.4 318.5 408.4 317.3 406.5 316.7" fill="none" stroke="#ff0000" stroke-width="1.3"/></g>
<path d="M406.5 307.5V520.2H683.3" fill="none" stroke="#262626" stroke-width="0.8"/>
<path d="M406.5 307.5H683.3" fill="none" stroke="#262626" stroke-width="0.8"/>
<path d="M683.3 307.5V520.2" fill="none" stroke="#262626" stroke-width="0.8"/>
<path d="M406.5 504.3h3M683.3 504.3h-3" stroke="#262626" stroke-width="0.9"/>
<text x="402.8" y="507.4" font-family="Liberation Sans" font-size="8.6" text-anchor="end" fill="#262626" >0.74</text>
<path d="M406.5 469.3h3M683.3 469.3h-3" stroke="#262626" stroke-width="0.9"/>
<text x="402.8" y="472.4" font-family="Liberation Sans" font-size="8.6" text-anchor="end" fill="#262626" >0.76</text>
<path d="M406.5 434.3h3M683.3 434.3h-3" stroke="#262626" stroke-width="0.9"/>
<text x="402.8" y="437.4" font-family="Liberation Sans" font-size="8.6" text-anchor="end" fill="#262626" >0.78</text>
<path d="M406.5 399.4h3M683.3 399.4h-3" stroke="#262626" stroke-width="0.9"/>
<text x="402.8" y="402.5" font-family="Liberation Sans" font-size="8.6" text-anchor="end" fill="#262626" >0.8</text>
<path d="M406.5 364.4h3M683.3 364.4h-3" stroke="#262626" stroke-width="0.9"/>
<text x="402.8" y="367.5" font-family="Liberation Sans" font-size="8.6" text-anchor="end" fill="#262626" >0.82</text>
<path d="M406.5 329.4h3M683.3 329.4h-3" stroke="#262626" stroke-width="0.9"/>
<text x="402.8" y="332.5" font-family="Liberation Sans" font-size="8.6" text-anchor="end" fill="#262626" >0.84</text>
<path d="M412.7 520.2v-3M412.7 307.5v3" stroke="#262626" stroke-width="0.9"/>
<text x="412.7" y="532.6" font-family="Liberation Sans" font-size="8.6" text-anchor="middle" fill="#262626" >-3</text>
<path d="M456.8 520.2v-3M456.8 307.5v3" stroke="#262626" stroke-width="0.9"/>
<text x="456.8" y="532.6" font-family="Liberation Sans" font-size="8.6" text-anchor="middle" fill="#262626" >-2</text>
<path d="M500.8 520.2v-3M500.8 307.5v3" stroke="#262626" stroke-width="0.9"/>
<text x="500.8" y="532.6" font-family="Liberation Sans" font-size="8.6" text-anchor="middle" fill="#262626" >-1</text>
<path d="M544.9 520.2v-3M544.9 307.5v3" stroke="#262626" stroke-width="0.9"/>
<text x="544.9" y="532.6" font-family="Liberation Sans" font-size="8.6" text-anchor="middle" fill="#262626" >0</text>
<path d="M589 520.2v-3M589 307.5v3" stroke="#262626" stroke-width="0.9"/>
<text x="589" y="532.6" font-family="Liberation Sans" font-size="8.6" text-anchor="middle" fill="#262626" >1</text>
<path d="M633 520.2v-3M633 307.5v3" stroke="#262626" stroke-width="0.9"/>
<text x="633" y="532.6" font-family="Liberation Sans" font-size="8.6" text-anchor="middle" fill="#262626" >2</text>
<path d="M677.1 520.2v-3M677.1 307.5v3" stroke="#262626" stroke-width="0.9"/>
<text x="677.1" y="532.6" font-family="Liberation Sans" font-size="8.6" text-anchor="middle" fill="#262626" >3</text>
<circle cx="475.7" cy="432.7" r="1.7" fill="#0000ff"/><circle cx="614.1" cy="432.7" r="1.7" fill="#0000ff"/>
<text x="544.9" y="550.7" font-family="Liberation Serif" font-size="17" text-anchor="middle" fill="#1a1a1a" font-style="italic" >g</text>
<text transform="translate(377.6 413.9) rotate(-90)" x="0" y="0" font-family="Liberation Serif" font-style="italic" font-size="19.5" text-anchor="middle" fill="#1a1a1a">G</text>
<clipPath id="rcc"><rect x="406.5" y="613.0" width="276.8" height="211.8"/></clipPath><g clip-path="url(#rcc)"><g fill="none" stroke="#b9b9b9" stroke-width="0.8"><path d="M465.1 609.0L470.3 609.8L475.6 610.1L481.0 609.9L486.2 609.0"/><path d="M603.6 609.0L608.8 609.9L614.2 610.1L619.5 609.8L624.7 609.0"/><path d="M455.3 609.0L460.3 610.7L465.4 612.0L470.5 612.7L475.6 613.0L480.7 612.7L485.8 612.0L490.9 610.7L496.0 609.0"/><path d="M593.8 609.0L598.9 610.7L604.0 612.0L609.1 612.7L614.2 613.0L619.3 612.7L624.4 612.0L629.5 610.7L634.5 609.0"/><path d="M448.5 609.0L455.5 611.9L462.4 614.0L469.0 615.3L475.6 615.7L482.3 615.3L488.9 614.1L495.8 612.0L502.9 609.0"/><path d="M586.9 609.0L594.0 612.0L600.9 614.1L607.5 615.3L614.2 615.7L620.8 615.3L627.4 614.0L634.3 611.9L641.3 609.0"/><path d="M442.6 609.0L451.7 613.2L456.0 614.9L460.1 616.2L464.2 617.2L468.0 617.9L471.8 618.3L475.6 618.5L479.5 618.3L483.3 617.9L487.4 617.2L491.5 616.1L495.5 614.8L499.9 613.2L508.7 609.0"/><path d="M581.1 609.0L589.9 613.2L594.3 614.8L598.3 616.1L602.4 617.2L606.5 617.9L610.3 618.3L614.2 618.5L618.0 618.3L621.8 617.9L625.6 617.2L629.7 616.2L633.8 614.9L638.1 613.2L647.2 609.0"/><path d="M437.1 609.0L448.6 614.6L453.7 616.7L458.3 618.4L462.9 619.7L467.2 620.6L471.6 621.1L475.6 621.3L479.7 621.1L484.1 620.6L488.4 619.7L493.0 618.4L497.8 616.7L502.9 614.6L514.3 609.0"/><path d="M575.5 609.0L586.9 614.6L592.0 616.7L596.8 618.4L601.4 619.7L605.7 620.6L610.1 621.1L614.2 621.3L618.2 621.1L622.6 620.6L626.9 619.7L631.5 618.4L636.1 616.7L641.2 614.6L652.7 609.0"/><path d="M431.5 609.0L446.8 616.5L452.7 619.1L457.5 620.9L462.4 622.4L466.7 623.4L471.3 624.0L475.6 624.2L480.0 624.1L484.6 623.4L488.9 622.5L493.8 621.0L498.9 619.0L504.7 616.5L519.9 609.0"/><path d="M569.9 609.0L585.1 616.5L590.9 619.0L596.0 621.0L600.9 622.5L605.2 623.4L609.8 624.1L614.2 624.2L618.5 624.0L623.1 623.4L627.4 622.4L632.3 620.9L637.1 619.1L643.0 616.5L658.3 609.0"/><path d="M425.4 609.0L431.0 611.6L449.1 620.4L457.8 624.0L462.4 625.6L467.0 626.6L471.3 627.3L475.6 627.5L480.0 627.3L484.3 626.7L488.9 625.6L493.5 624.1L502.2 620.4L520.3 611.6L526.0 609.0"/><path d="M563.8 609.0L569.5 611.6L587.6 620.4L596.3 624.1L600.9 625.6L605.5 626.7L609.8 627.3L614.2 627.5L618.5 627.3L622.8 626.6L627.4 625.6L632.0 624.0L640.7 620.4L658.8 611.6L664.4 609.0"/><path d="M417.3 609.0L422.8 610.8L429.2 613.5L437.5 617.5L452.2 625.0L458.5 627.7L462.9 629.2L467.2 630.2L471.6 630.9L475.6 631.1L479.7 630.9L484.1 630.3L488.4 629.2L492.7 627.8L499.4 624.9L513.6 617.6L522.1 613.5L528.4 610.8L534.0 609.0"/><path d="M555.8 609.0L561.4 610.8L567.7 613.5L576.2 617.6L590.4 624.9L597.1 627.8L601.4 629.2L605.7 630.3L610.1 630.9L614.2 631.1L618.2 630.9L622.6 630.2L626.9 629.2L631.3 627.7L637.6 625.0L652.3 617.5L660.6 613.5L667.0 610.8L672.5 609.0"/><path d="M404.7 610.3L408.8 610.4L412.9 610.8L417.0 611.7L421.6 613.1L427.7 615.5L434.5 618.7L440.2 621.7L451.4 628.2L457.8 631.2L462.4 632.9L466.7 634.0L471.3 634.8L475.6 635.0L479.7 634.8L483.8 634.2L487.9 633.2L492.2 631.8L498.9 628.8L513.4 620.5L523.1 615.7L527.9 613.8L532.3 612.3L536.4 611.2L540.4 610.5L545.0 610.3L549.6 610.6L554.2 611.4L559.1 612.8L565.2 615.1L572.3 618.4L578.6 621.7L589.9 628.3L596.3 631.3L600.9 632.9L605.2 634.0L609.8 634.8L614.2 635.0L618.5 634.8L623.1 634.0L627.4 632.9L632.0 631.2L638.4 628.2L649.6 621.7L655.3 618.7L662.1 615.5L668.2 613.1L672.8 611.7L676.9 610.8L681.0 610.4L685.1 610.3"/><path d="M404.7 613.1L409.1 613.1L413.6 613.7L418.2 614.7L423.1 616.3L428.4 618.5L433.6 621.1L438.2 623.8L448.6 630.7L452.4 632.8L456.5 634.7L461.6 636.7L466.5 638.1L471.0 638.9L475.6 639.2L479.7 639.0L484.1 638.3L488.4 637.2L493.0 635.5L497.3 633.6L501.7 631.3L514.7 622.9L521.9 619.0L526.7 616.9L531.3 615.3L535.6 614.1L539.9 613.3L544.8 613.0L549.9 613.3L555.0 614.3L560.3 615.9L566.2 618.2L572.0 621.1L576.6 623.8L587.1 630.7L590.9 632.8L595.0 634.8L600.1 636.7L605.0 638.1L609.6 638.9L614.2 639.2L618.8 638.9L623.3 638.1L628.2 636.7L633.3 634.7L637.4 632.8L641.2 630.7L651.6 623.8L656.2 621.1L661.4 618.5L666.7 616.3L671.6 614.7L676.2 613.7L680.7 613.1L685.1 613.1"/><path d="M404.7 615.7L409.3 615.8L413.9 616.4L418.7 617.5L423.6 619.2L427.4 620.9L431.1 622.9L434.4 625.0L441.2 630.1L445.0 632.6L450.1 635.6L455.7 638.5L461.4 640.9L466.5 642.6L471.0 643.6L475.6 644.0L479.7 643.7L483.8 642.9L488.1 641.6L493.0 639.7L499.1 636.8L505.2 633.3L509.6 630.5L517.9 624.4L523.1 621.4L526.9 619.6L531.3 618.0L535.3 616.8L539.4 616.1L544.8 615.7L549.9 616.0L555.2 617.0L560.8 618.8L565.4 620.7L569.5 622.9L572.8 625.0L579.7 630.1L583.5 632.7L588.9 635.8L594.5 638.7L600.1 641.1L605.0 642.7L609.6 643.6L614.2 644.0L618.8 643.6L623.3 642.6L628.4 640.9L634.1 638.5L639.7 635.6L644.8 632.6L648.6 630.1L655.4 625.0L658.7 622.9L662.4 620.9L666.2 619.2L671.1 617.5L675.9 616.4L680.5 615.8L685.1 615.7"/><path d="M404.7 618.4L409.1 618.5L413.6 619.1L418.2 620.2L422.6 621.8L425.4 623.2L428.4 625.0L437.1 631.5L442.5 635.1L450.6 640.1L457.8 644.0L463.1 646.6L467.5 648.2L471.6 649.2L475.6 649.6L479.2 649.3L482.8 648.6L486.6 647.3L490.9 645.4L498.9 641.1L509.1 635.0L514.5 631.4L522.1 625.6L525.9 623.2L529.0 621.7L532.3 620.5L535.6 619.5L539.2 618.8L544.5 618.4L549.6 618.7L555.0 619.7L560.0 621.4L563.3 622.9L566.4 624.7L575.7 631.7L581.5 635.5L589.9 640.6L596.6 644.2L601.7 646.7L606.3 648.4L610.3 649.3L614.2 649.6L618.2 649.2L622.3 648.2L626.7 646.6L632.0 644.0L639.2 640.1L647.3 635.1L652.7 631.5L661.4 625.0L664.4 623.2L667.2 621.8L671.6 620.2L676.2 619.1L680.7 618.5L685.1 618.4"/><path d="M476.8 767.7L478.5 767.1L480.1 765.9L481.5 764.2L482.7 762.0L483.8 759.1L484.6 755.9L485.0 752.6L485.1 749.3L484.8 746.0L484.2 742.9L483.2 739.9L482.0 737.2L480.5 734.9L479.0 733.4L477.4 732.6L475.6 732.3L473.9 732.6L472.1 733.7L470.5 735.4L469.0 738.0L467.7 741.1L466.9 744.1L466.4 747.5L466.3 751.1L466.6 754.7L467.3 758.1L468.4 761.4L469.8 764.1L471.2 765.9L472.9 767.1L474.9 767.8L476.8 767.7"/><path d="M615.3 767.7L617.0 767.1L618.6 765.9L620.0 764.1L621.1 762.0L622.3 759.0L623.1 755.6L623.5 752.3L623.5 749.3L623.2 746.0L622.6 742.8L621.6 739.7L620.3 737.0L618.8 734.8L617.2 733.3L615.7 732.5L613.9 732.3L612.1 732.7L610.3 733.9L608.8 735.7L607.3 738.3L606.0 741.4L605.2 744.6L604.7 748.1L604.7 751.4L605.0 754.7L605.8 758.4L606.8 761.4L608.2 764.1L609.7 765.9L611.4 767.2L613.1 767.8L615.3 767.7"/><path d="M404.7 621.4L408.8 621.4L412.9 621.9L416.6 622.9L420.3 624.4L423.9 626.5L433.2 633.2L462.9 652.6L466.5 654.5L469.5 655.7L472.6 656.4L475.6 656.7L478.4 656.5L481.3 655.9L484.3 654.7L487.4 653.2L491.2 650.9L517.7 633.5L528.9 625.6L531.3 624.4L534.0 623.2L536.6 622.4L539.4 621.8L544.3 621.3L549.1 621.6L553.7 622.5L558.1 624.1L562.4 626.5L571.7 633.2L601.4 652.7L605.0 654.5L608.0 655.7L611.1 656.5L614.2 656.7L617.2 656.4L620.3 655.7L623.3 654.5L626.9 652.6L656.6 633.2L665.9 626.5L669.5 624.4L673.2 622.9L676.9 621.9L681.0 621.4L685.1 621.4"/><path d="M477.3 775.6L480.5 774.8L483.5 773.1L486.1 770.8L488.1 767.7L489.7 763.5L491.1 758.1L491.8 752.6L491.9 747.5L491.4 741.7L490.3 735.7L488.9 730.7L487.1 726.6L484.6 722.8L483.0 721.1L481.5 719.8L480.0 718.8L478.4 718.1L476.9 717.7L475.4 717.7L473.6 717.9L472.1 718.5L470.5 719.4L469.0 720.5L467.5 722.1L466.0 723.9L463.7 727.8L461.9 732.6L460.5 738.4L459.6 744.7L459.5 750.5L460.0 756.2L461.2 762.0L462.7 766.5L464.6 769.8L465.8 771.4L467.1 772.6L468.8 773.7L470.3 774.5L472.1 775.2L473.9 775.6L477.3 775.6"/><path d="M615.7 775.6L619.0 774.7L621.9 773.2L624.4 770.9L626.4 767.9L628.1 763.8L629.4 758.4L630.2 752.9L630.3 747.5L629.8 741.7L628.7 735.4L627.3 730.5L625.4 726.4L622.8 722.6L620.0 719.9L618.5 718.9L617.0 718.2L615.4 717.8L613.9 717.6L612.1 717.9L610.6 718.4L609.1 719.3L607.5 720.4L604.6 723.6L602.2 727.6L600.3 732.4L598.9 738.4L598.1 744.7L597.9 750.5L598.4 756.2L599.6 762.0L601.1 766.5L602.9 769.8L604.2 771.3L605.5 772.5L608.5 774.4L610.3 775.1L612.1 775.5L613.9 775.7L615.7 775.6"/><path d="M404.7 625.2L409.1 625.3L413.1 626.1L417.0 627.6L421.8 630.3L435.5 638.6L444.2 644.7L450.8 649.8L461.9 659.9L468.0 664.8L470.0 666.1L472.1 667.0L473.9 667.6L475.6 667.8L477.7 667.6L479.7 666.9L482.0 665.7L484.3 664.1L489.7 659.8L501.7 648.9L508.0 644.1L514.5 639.5L532.8 628.5L536.6 626.7L540.2 625.6L544.8 625.1L549.4 625.6L553.6 626.8L558.0 629.0L573.3 638.3L582.2 644.4L589.2 649.8L600.4 660.0L606.5 664.8L608.8 666.3L610.6 667.1L612.4 667.6L614.2 667.8L615.9 667.6L617.7 667.0L619.8 666.1L621.8 664.8L627.9 659.9L639.0 649.8L645.6 644.7L654.3 638.6L668.0 630.3L672.8 627.6L676.7 626.1L680.7 625.3L685.1 625.2"/><path d="M476.3 781.0L478.4 780.8L480.5 780.2L482.5 779.3L484.6 778.1L486.6 776.7L488.6 774.8L490.2 773.1L491.6 771.1L492.7 769.0L493.6 766.8L495.3 760.7L496.4 753.8L496.7 747.2L496.2 739.3L494.9 731.1L493.3 725.1L490.7 718.8L488.9 715.2L487.1 712.2L485.1 709.3L482.8 706.5L480.7 704.5L479.0 703.2L477.2 702.5L475.6 702.3L473.9 702.6L472.1 703.4L470.3 704.8L468.2 706.9L465.9 709.8L463.9 712.8L462.1 715.9L460.3 719.6L457.8 726.0L456.2 732.1L455.0 740.5L454.7 748.4L455.1 755.0L456.4 762.0L458.0 767.5L459.1 769.8L460.1 771.7L461.6 773.6L463.4 775.5L465.4 777.2L467.7 778.7L470.0 779.8L472.1 780.5L474.1 780.9L476.3 781.0"/><path d="M614.7 781.0L616.7 780.8L618.8 780.2L620.8 779.4L623.1 778.1L625.2 776.5L627.2 774.7L628.7 773.0L630.0 771.1L632.0 766.8L633.7 760.8L634.8 753.8L635.1 747.5L634.7 739.6L633.4 731.4L631.8 725.4L629.2 719.0L627.4 715.4L625.6 712.4L623.6 709.4L621.3 706.6L619.3 704.6L617.5 703.3L615.7 702.5L614.2 702.3L612.4 702.5L610.6 703.4L608.8 704.7L606.8 706.8L604.5 709.6L602.4 712.6L600.6 715.7L598.9 719.3L596.3 725.7L594.7 731.7L593.5 740.2L593.1 748.1L593.5 754.7L594.8 761.9L596.4 767.4L597.3 769.5L598.6 771.7L600.1 773.7L601.9 775.6L604.0 777.2L606.3 778.7L608.5 779.9L610.6 780.6L612.6 781.0L614.7 781.0"/><path d="M404.7 630.6L407.8 630.6L410.8 631.0L414.2 631.8L418.2 633.3L423.1 635.5L427.7 637.8L432.1 640.4L436.6 643.5L440.6 646.5L444.5 649.8L449.6 655.3L453.1 659.5L455.7 663.1L457.8 666.4L459.7 670.1L461.6 674.9L462.8 679.1L463.4 684.0L463.3 687.9L462.4 693.4L460.5 701.2L454.5 720.1L453.1 725.1L452.1 729.6L451.2 736.6L450.7 743.8L450.7 749.9L451.2 755.3L452.4 761.9L454.0 767.4L455.8 771.7L458.3 775.4L460.3 777.7L462.6 780.0L464.9 781.9L467.2 783.6L469.3 784.7L471.3 785.4L473.3 785.9L475.6 786.1L479.2 785.7L482.5 784.5L485.8 782.4L489.4 779.4L492.7 775.9L495.0 772.6L496.9 768.9L498.3 764.4L499.9 757.1L500.6 750.2L500.6 742.9L499.9 734.2L499.0 728.4L497.7 723.0L495.8 716.4L491.6 703.9L489.3 694.9L488.5 690.6L488.1 687.3L488.0 684.6L488.2 681.3L489.1 677.0L490.9 671.9L493.1 667.4L495.9 662.8L500.3 657.1L505.1 651.6L508.6 648.3L513.6 644.4L518.8 640.8L524.1 637.6L530.0 634.7L535.3 632.5L539.4 631.2L543.0 630.7L546.6 630.6L550.1 631.2L555.5 632.8L562.1 635.8L568.5 639.2L574.6 643.2L579.4 646.8L583.5 650.4L588.5 655.9L593.3 661.9L595.3 664.9L597.0 668.0L598.6 671.3L599.9 674.6L600.9 677.6L601.4 680.4L601.8 686.1L601.1 691.8L599.3 700.0L597.7 705.4L592.7 720.6L591.3 726.0L590.3 730.8L589.5 738.4L589.1 746.0L589.3 752.0L590.1 758.4L591.5 764.7L593.2 769.5L595.3 773.4L598.2 777.1L602.7 781.4L604.7 783.0L606.8 784.2L608.8 785.1L610.8 785.7L612.9 786.1L615.2 786.1L617.2 785.8L619.3 785.2L621.3 784.3L623.3 783.1L625.6 781.3L627.9 779.3L630.2 776.9L632.0 774.7L634.3 771.1L636.0 766.8L637.6 761.1L638.6 754.7L639.1 749.3L639.1 743.2L638.5 736.0L637.6 729.3L636.6 724.8L635.2 719.7L630.6 705.7L629.3 701.2L627.5 693.7L626.6 688.2L626.4 684.3L626.9 679.7L628.0 675.5L629.9 670.7L631.7 667.0L633.7 663.7L636.3 660.1L639.7 655.9L645.3 649.8L648.9 646.8L652.8 643.8L657.2 640.7L661.9 638.0L666.7 635.5L671.6 633.3L675.6 631.8L679.0 631.0L682.0 630.6L685.1 630.6"/><path d="M404.7 635.2L407.8 635.1L410.8 635.4L414.2 636.1L417.5 637.0L420.8 638.3L424.4 639.9L427.9 641.9L431.4 644.1L434.7 646.5L437.9 649.1L442.1 653.4L444.8 656.8L447.2 660.1L449.2 663.4L450.7 666.4L452.8 671.9L454.1 677.3L454.9 684.6L455.0 689.4L454.6 696.1L453.7 703.0L449.1 724.2L448.2 729.0L447.6 734.2L447.2 741.7L447.1 748.4L447.6 753.9L448.5 759.9L450.2 766.5L452.2 771.7L455.0 776.2L459.3 781.6L463.1 785.3L465.1 786.8L467.0 787.9L469.0 788.7L471.3 789.4L473.4 789.8L475.6 789.9L479.5 789.6L483.0 788.5L486.3 786.8L489.4 784.3L493.8 779.6L497.5 774.7L499.6 770.8L501.4 765.9L502.9 759.4L503.9 752.9L504.3 746.9L504.1 739.6L503.6 732.7L502.8 726.6L501.4 719.9L498.3 706.4L497.1 698.8L496.5 693.4L496.3 688.5L496.4 684.9L496.9 679.4L497.8 674.9L499.2 670.1L500.9 665.8L503.2 661.6L506.6 656.8L510.3 652.2L513.1 649.4L517.7 645.7L522.1 642.7L526.6 640.1L531.0 638.1L535.3 636.6L539.4 635.6L543.2 635.2L547.1 635.2L551.2 635.8L556.0 637.1L560.8 639.0L565.7 641.5L570.5 644.6L574.7 647.7L578.0 650.7L581.8 655.0L585.2 659.5L587.1 662.5L588.7 665.5L590.1 668.6L591.3 672.2L592.2 675.5L592.8 678.8L593.5 686.7L593.2 693.7L592.3 702.1L591.3 707.3L587.3 725.1L586.5 730.2L585.9 736.0L585.5 743.5L585.6 749.9L586.3 755.9L587.5 762.3L589.2 768.3L591.4 773.2L594.8 778.1L599.6 783.6L603.2 786.6L607.0 788.6L611.1 789.7L613.1 789.9L615.4 789.9L617.7 789.6L620.0 789.0L622.1 788.2L624.2 787.1L626.2 785.7L627.9 784.2L632.0 779.8L635.7 775.0L638.0 770.8L639.9 765.6L641.4 759.0L642.3 753.2L642.7 747.5L642.6 740.8L642.1 733.6L641.5 728.7L640.7 724.0L636.1 703.3L635.2 696.4L634.8 689.7L634.9 684.6L635.6 677.6L637.0 671.9L638.9 666.7L640.4 663.7L642.4 660.4L644.8 657.1L647.4 653.7L651.8 649.2L655.0 646.6L658.3 644.2L661.8 642.0L665.2 640.1L668.8 638.4L672.3 637.0L675.6 636.1L679.0 635.4L682.0 635.1L685.1 635.2"/><path d="M404.7 639.0L407.5 639.0L410.6 639.2L413.4 639.7L416.5 640.5L422.3 642.8L428.2 646.2L433.3 650.1L437.4 654.4L441.5 659.8L443.1 662.5L444.6 665.5L446.6 670.7L448.0 676.4L448.7 681.3L449.3 690.3L449.2 697.0L448.7 703.6L448.0 708.8L444.9 726.6L444.3 732.1L443.9 738.1L443.8 745.1L444.1 751.1L444.8 756.8L446.1 762.9L447.8 768.9L450.2 774.1L454.5 780.4L457.0 783.7L459.0 785.9L462.6 788.9L466.7 791.1L471.0 792.5L475.6 793.0L480.0 792.6L484.1 791.4L487.9 789.5L491.4 786.8L495.0 782.8L499.9 776.2L502.4 771.7L504.2 767.0L505.7 761.1L507.0 754.4L507.5 748.7L507.6 742.3L507.3 734.8L506.6 728.1L503.2 707.6L502.4 700.0L502.1 694.6L502.1 689.1L502.9 678.8L503.8 674.3L505.1 669.8L506.6 665.8L508.6 661.9L511.4 657.7L514.5 653.7L518.0 650.1L521.1 647.7L524.9 645.1L528.7 643.0L532.5 641.3L536.4 640.1L540.2 639.3L544.0 639.0L547.6 639.1L551.4 639.6L555.5 640.7L559.6 642.3L563.7 644.4L567.9 647.1L571.4 649.8L574.2 652.5L577.2 656.0L579.9 659.8L581.7 662.8L583.2 665.8L584.4 668.9L585.5 672.2L586.9 678.8L587.7 687.6L587.7 695.2L587.2 703.0L586.4 708.5L583.3 727.0L582.7 733.0L582.3 739.6L582.2 746.6L582.6 752.3L583.4 758.1L584.9 764.4L586.7 770.1L589.2 775.0L594.0 781.9L596.0 784.4L598.1 786.5L599.9 788.0L601.9 789.5L606.0 791.5L608.3 792.2L610.6 792.7L615.2 792.9L619.8 792.2L624.0 790.7L627.9 788.4L631.4 785.3L636.2 779.2L639.9 773.5L642.1 768.6L643.9 762.3L645.1 756.2L645.8 750.8L646.0 744.7L645.9 737.8L645.5 731.7L644.8 726.3L641.1 703.9L640.6 697.3L640.5 690.3L641.1 681.3L641.8 676.4L643.2 670.7L645.2 665.5L646.7 662.5L648.3 659.8L652.4 654.4L656.5 650.1L661.6 646.2L667.5 642.8L673.3 640.5L676.4 639.7L679.2 639.2L682.3 639.0L685.1 639.0"/><path d="M404.7 642.8L409.8 642.9L415.2 644.0L420.3 645.9L425.4 648.8L429.5 651.9L433.3 655.9L436.8 660.7L439.5 665.5L441.5 670.7L443.0 676.4L444.1 685.2L444.6 690.9L444.7 697.9L444.4 704.2L441.3 728.1L440.8 734.5L440.6 741.1L440.7 747.5L441.2 752.9L442.1 758.7L443.6 765.0L445.6 770.8L448.0 775.6L453.2 783.3L455.2 785.9L457.2 788.0L459.3 789.8L461.4 791.2L465.9 793.6L468.2 794.5L470.8 795.1L473.3 795.5L475.6 795.6L480.2 795.2L484.8 793.9L489.4 791.6L493.2 788.8L495.3 786.8L497.1 784.7L501.7 778.3L504.7 773.2L506.8 768.0L508.4 762.3L509.8 755.6L510.5 750.2L510.8 744.1L510.6 736.6L510.2 729.3L507.4 708.2L506.8 700.9L506.7 695.5L506.9 689.7L508.0 678.8L508.8 674.3L510.1 670.1L511.6 666.1L513.4 662.5L515.8 658.9L518.4 655.6L521.3 652.5L524.5 649.8L527.7 647.7L531.0 646.0L534.3 644.6L537.9 643.6L541.5 642.9L544.8 642.7L548.1 642.9L551.7 643.5L555.2 644.5L558.6 645.9L562.1 647.7L565.4 649.9L568.2 652.2L570.9 655.0L573.4 658.0L575.6 661.3L577.2 664.0L578.6 667.0L580.7 673.4L581.9 679.4L582.9 688.8L583.1 696.4L582.8 703.6L582.2 709.4L579.7 728.4L579.2 734.8L579.0 741.7L579.2 748.1L579.7 753.5L580.7 759.6L582.3 765.9L584.3 771.4L587.0 776.5L592.2 784.1L594.2 786.5L596.3 788.6L598.1 790.1L600.4 791.6L602.7 792.9L605.2 794.0L607.5 794.7L610.1 795.3L612.6 795.6L615.2 795.6L617.7 795.3L620.0 794.9L624.6 793.3L629.2 790.7L633.0 787.5L636.9 782.8L642.0 775.2L644.5 770.1L646.3 764.4L647.7 758.4L648.7 752.6L649.1 747.2L649.2 740.5L648.9 733.9L648.4 727.8L645.4 704.2L645.1 697.9L645.2 691.2L645.6 685.5L646.7 676.7L648.2 671.0L650.1 665.8L652.8 661.0L656.3 656.2L660.3 651.9L664.4 648.8L669.5 645.9L674.6 644.0L680.0 642.9L685.1 642.8"/><path d="M404.7 646.8L409.3 646.9L413.6 647.7L418.0 649.2L422.1 651.4L426.0 654.4L429.5 658.0L432.7 662.2L435.1 666.5L437.1 671.6L438.5 677.0L439.8 685.8L440.3 692.1L440.5 698.8L440.4 704.8L438.0 729.0L437.6 735.7L437.5 742.6L437.8 748.7L438.4 754.1L439.6 760.2L441.2 766.2L443.3 772.0L446.3 777.5L451.4 785.1L453.5 787.7L455.6 789.8L460.1 793.2L462.6 794.7L465.2 795.9L467.7 796.8L470.3 797.5L473.1 797.9L475.6 798.0L478.2 797.9L480.7 797.5L483.3 796.9L485.8 796.0L488.4 794.9L490.9 793.4L495.4 790.1L499.2 786.2L503.4 780.1L507.0 774.1L509.4 768.6L511.1 762.9L512.6 756.5L513.4 751.1L513.8 745.4L513.8 738.1L513.5 730.2L511.3 709.1L510.9 701.5L510.9 696.4L511.2 690.6L512.5 679.1L513.4 674.9L514.5 671.0L515.9 667.3L517.8 663.7L519.9 660.4L522.4 657.4L525.1 654.7L527.9 652.3L530.7 650.5L533.3 649.2L536.4 648.1L539.4 647.3L542.5 646.8L545.5 646.7L548.6 647.0L551.4 647.5L554.5 648.4L557.3 649.6L559.9 651.0L562.6 652.9L565.1 655.0L567.5 657.4L569.7 660.1L571.7 663.1L574.3 668.3L576.3 674.3L577.4 679.7L578.6 689.7L578.9 697.3L578.9 704.2L578.4 710.0L576.4 729.3L576.0 736.3L576.0 743.2L576.2 749.3L576.9 754.7L578.2 761.1L579.9 767.1L582.2 772.9L585.4 778.6L590.2 785.6L592.2 788.0L594.4 790.1L596.6 791.9L599.1 793.6L601.7 795.0L604.3 796.1L607.0 797.1L609.6 797.6L612.1 798.0L614.9 798.0L617.5 797.8L620.0 797.4L622.6 796.6L625.1 795.7L627.7 794.4L630.2 792.9L634.6 789.4L636.6 787.3L638.7 784.8L643.8 777.1L646.6 771.7L648.7 765.9L650.3 759.9L651.4 754.1L652.0 748.7L652.3 742.6L652.2 735.7L651.8 729.0L649.4 704.8L649.3 698.8L649.5 692.1L650.0 685.8L651.3 677.0L652.7 671.6L654.6 666.7L657.1 662.2L660.1 658.2L663.7 654.5L667.5 651.5L671.6 649.3L676.0 647.7L680.5 646.9L685.1 646.8"/><path d="M404.7 651.1L409.3 651.2L413.8 652.2L418.0 654.0L422.1 656.8L425.6 660.1L428.8 664.3L431.3 668.9L433.3 674.3L434.5 679.1L435.7 687.0L436.4 693.7L436.7 700.0L436.5 708.8L435.0 725.7L434.6 732.4L434.5 740.8L434.7 748.1L435.5 754.1L436.9 760.8L438.8 767.4L440.9 772.6L444.0 778.3L448.6 785.3L451.9 789.3L455.5 792.5L460.3 795.9L465.4 798.4L470.5 799.8L475.6 800.3L478.4 800.2L481.3 799.7L484.1 799.0L486.6 798.1L489.4 796.8L492.0 795.3L497.0 791.6L500.9 787.7L504.5 782.8L509.1 775.3L510.6 772.3L511.9 769.2L513.7 763.8L515.3 757.1L516.3 751.7L516.8 746.3L516.9 739.0L516.7 731.1L515.0 709.7L514.7 702.1L514.8 697.0L515.2 691.5L516.7 680.4L517.5 676.4L518.5 672.8L520.0 669.2L521.6 665.8L523.6 662.8L525.6 660.3L528.2 657.7L530.7 655.7L533.0 654.2L535.3 653.1L537.9 652.1L540.4 651.5L543.0 651.1L545.8 651.1L548.3 651.3L550.9 651.8L553.4 652.7L555.9 653.7L558.3 655.2L560.5 656.8L562.6 658.7L564.5 660.7L566.4 663.1L568.0 665.5L570.5 670.7L572.2 676.1L573.2 681.0L574.6 691.5L575.1 698.5L575.1 704.8L574.7 710.9L573.1 730.2L572.9 737.5L573.0 744.4L573.3 750.2L574.2 755.6L575.6 762.0L577.4 768.0L578.7 771.4L580.2 774.4L584.7 781.9L588.7 787.4L590.8 789.8L592.8 791.6L595.5 793.7L598.1 795.5L600.9 797.0L603.7 798.3L606.5 799.2L609.3 799.9L612.1 800.2L614.9 800.3L620.0 799.7L624.9 798.1L629.7 795.7L634.6 792.3L638.0 789.2L641.2 785.3L646.0 778.0L648.9 772.6L651.0 767.4L652.9 760.8L654.3 754.1L655.1 748.1L655.3 740.8L655.2 732.4L654.8 725.7L653.3 708.8L653.1 700.0L653.4 693.7L654.1 687.0L655.3 679.1L656.5 674.3L658.5 668.9L661.0 664.3L664.2 660.1L667.7 656.8L671.8 654.0L676.0 652.2L680.5 651.2L685.1 651.1"/><path d="M404.7 656.1L408.8 656.1L412.6 657.0L416.2 658.6L419.8 661.0L422.8 664.0L425.5 667.7L427.7 671.9L429.4 676.7L430.4 680.7L431.8 688.8L432.5 695.2L432.9 701.2L432.8 709.7L431.7 726.3L431.4 733.0L431.3 741.4L431.7 748.4L432.6 754.4L434.1 760.8L436.1 767.4L438.4 772.9L441.7 778.9L446.6 786.2L449.8 790.1L454.2 794.1L459.6 797.8L462.2 799.2L464.9 800.4L467.7 801.3L470.3 801.9L472.8 802.2L475.6 802.4L478.4 802.2L481.3 801.8L483.8 801.2L486.6 800.3L489.2 799.2L492.0 797.7L497.3 794.0L501.6 790.1L504.9 786.2L509.8 778.6L513.3 772.3L515.5 766.8L517.5 760.2L518.9 753.8L519.7 748.1L520.0 741.1L520.0 732.7L518.6 709.7L518.5 701.5L518.8 695.8L519.5 689.4L520.9 681.3L521.7 677.6L523.2 673.1L525.1 669.0L527.4 665.4L530.2 662.2L533.3 659.7L536.9 657.7L540.4 656.5L544.0 656.0L547.8 656.2L551.7 657.2L555.2 658.9L558.5 661.3L561.4 664.1L563.9 667.7L566.1 671.9L567.7 676.3L568.8 680.4L570.1 688.2L570.9 694.6L571.3 700.6L571.3 709.1L570.0 726.9L569.7 734.5L569.9 743.8L570.5 751.1L571.1 755.0L572.1 759.3L574.9 768.3L577.6 774.4L581.9 781.6L584.5 785.6L586.9 788.6L589.2 791.0L592.2 793.8L595.5 796.2L599.1 798.4L602.6 800.1L606.1 801.3L609.6 802.0L613.1 802.4L616.7 802.3L620.0 801.8L623.3 800.9L626.7 799.6L630.0 797.9L633.3 795.8L637.5 792.5L641.1 788.9L644.4 784.7L648.4 778.3L651.1 773.5L653.0 769.2L655.0 763.5L656.6 757.1L657.5 752.9L658.0 748.7L658.5 738.4L658.3 728.1L656.9 708.2L657.0 698.8L657.5 692.4L658.5 685.8L659.8 678.8L661.3 674.0L663.1 669.8L665.3 666.1L667.8 663.1L670.8 660.4L674.1 658.3L677.7 656.8L681.3 656.1L685.1 656.1"/><path d="M404.7 661.8L408.0 661.7L411.4 662.5L414.4 663.8L417.3 665.8L419.9 668.6L422.2 671.9L424.0 675.5L425.5 679.7L426.9 685.7L427.9 690.9L428.6 696.7L429.1 702.1L429.1 710.3L428.0 733.6L428.1 741.7L428.6 748.4L429.5 754.1L431.1 760.5L433.4 767.4L435.7 772.9L439.7 779.8L444.6 787.1L448.3 791.4L453.4 795.8L458.8 799.6L461.5 801.0L464.3 802.2L467.0 803.1L469.8 803.7L472.6 804.1L475.6 804.3L478.7 804.1L481.5 803.7L484.3 803.1L487.1 802.2L489.9 801.0L492.7 799.5L498.3 795.6L503.2 791.2L507.0 786.8L512.2 778.9L515.9 772.3L518.2 766.8L520.5 759.9L522.0 753.8L522.8 748.1L523.3 741.4L523.4 733.3L522.3 710.6L522.3 702.4L522.7 697.3L523.4 691.8L524.3 686.4L525.6 680.7L526.9 676.7L528.5 673.1L530.5 669.8L532.8 667.1L535.3 664.9L538.1 663.2L541.2 662.1L544.3 661.7L547.3 661.9L550.4 662.7L553.2 664.0L556.0 666.1L558.5 668.8L560.6 671.8L562.3 675.2L563.7 679.1L565.2 685.2L566.2 690.3L567.0 696.4L567.5 701.8L567.5 710.0L566.6 727.2L566.4 735.1L566.7 744.1L567.4 751.4L568.2 755.3L569.3 759.9L572.4 768.9L575.3 775.0L580.1 782.8L582.8 786.8L585.2 789.8L588.2 792.8L591.5 795.6L595.0 798.2L598.6 800.3L602.0 801.9L605.5 803.1L609.1 803.9L612.6 804.2L616.5 804.2L620.0 803.7L623.6 802.8L626.9 801.6L630.2 800.0L633.5 798.0L638.1 794.5L642.4 790.4L645.4 786.8L648.8 781.9L652.6 775.6L655.1 770.8L657.4 764.7L659.5 757.8L660.4 753.5L661.1 749.6L661.5 745.1L661.8 739.6L661.7 729.0L660.7 708.8L660.9 699.7L661.5 693.7L662.6 687.0L664.1 680.4L665.4 676.4L667.0 673.0L669.0 669.8L671.2 667.0L673.6 665.0L676.4 663.3L679.2 662.2L682.0 661.7L685.1 661.8"/><path d="M404.7 668.7L407.5 668.6L410.3 669.3L413.1 670.7L415.4 672.6L417.5 675.1L419.3 678.1L420.6 681.3L422.1 686.1L424.1 695.5L424.7 699.7L425.0 703.9L425.1 711.5L424.4 733.9L424.6 741.4L425.2 748.1L426.2 753.8L427.9 759.9L430.5 767.1L433.1 772.9L437.7 780.7L442.8 788.0L447.2 792.8L452.4 797.4L458.0 801.2L460.8 802.7L463.6 803.9L466.5 804.8L469.5 805.4L472.6 805.9L475.6 806.0L478.7 805.9L481.8 805.5L484.8 804.8L487.9 803.8L490.7 802.6L493.5 801.1L499.1 797.3L504.5 792.5L508.8 787.7L514.2 779.8L518.6 772.3L521.1 766.5L523.7 759.3L525.3 753.2L526.3 747.8L526.8 741.1L527.0 733.6L526.3 711.8L526.3 704.5L527.1 696.4L528.9 687.6L530.0 683.7L531.5 679.4L533.0 676.4L534.8 673.9L537.1 671.6L539.4 670.0L542.0 669.0L544.5 668.6L547.1 668.8L549.6 669.6L551.9 671.0L554.0 672.8L556.0 675.2L557.5 677.8L558.8 680.8L560.1 684.9L561.4 689.6L562.4 694.6L563.0 699.1L563.4 703.3L563.5 711.2L562.9 727.8L562.8 735.4L563.2 744.1L564.0 751.1L564.9 755.0L566.2 759.6L568.0 764.7L569.8 769.2L573.0 775.6L578.3 784.1L581.0 787.7L583.5 790.7L586.9 794.0L590.4 797.1L594.0 799.7L597.3 801.7L600.9 803.4L604.5 804.6L608.3 805.5L612.1 805.9L615.9 805.9L619.8 805.5L623.6 804.7L627.2 803.5L630.5 801.9L634.1 799.8L637.8 797.1L641.5 793.9L645.0 790.4L647.5 787.4L651.1 782.2L655.2 775.6L657.5 771.4L659.6 766.5L661.6 760.8L663.2 755.3L664.2 750.8L664.8 746.3L665.3 739.9L665.4 733.0L664.7 711.8L664.8 704.5L665.1 700.3L665.6 696.1L667.5 687.0L669.0 681.9L670.3 678.5L672.1 675.4L674.1 672.9L676.7 670.7L679.2 669.4L682.0 668.7L685.1 668.7"/><path d="M404.7 678.3L406.8 678.1L408.8 678.5L410.8 679.7L412.5 681.3L414.2 683.5L415.7 686.4L417.2 690.3L418.5 694.3L419.8 700.3L420.4 706.7L420.5 713.0L420.2 733.9L420.5 741.1L421.2 747.5L422.4 752.9L424.2 758.7L427.3 766.5L430.4 772.9L435.8 781.6L441.1 788.9L445.9 794.0L451.7 799.0L454.5 801.0L457.3 802.8L460.3 804.3L463.1 805.4L466.2 806.4L469.3 807.0L472.3 807.4L475.6 807.6L479.0 807.4L482.1 807.0L485.3 806.3L488.4 805.4L491.2 804.2L494.0 802.8L497.0 801.0L499.9 798.9L505.7 793.8L510.6 788.6L516.2 780.7L521.3 772.3L524.3 765.9L527.4 758.1L529.1 752.6L530.2 747.2L530.9 740.8L531.2 733.6L530.8 713.3L530.9 707.3L531.5 701.2L532.5 695.7L533.6 691.8L535.1 687.9L536.4 685.1L537.9 682.5L539.4 680.6L541.2 679.2L543.0 678.4L544.8 678.1L546.6 678.3L548.3 679.1L549.9 680.2L551.4 681.8L552.8 684.0L554.1 686.4L556.5 692.9L558.0 699.4L558.8 705.7L559.0 712.4L558.6 728.1L558.7 735.7L559.2 744.1L560.3 750.8L561.3 754.7L562.7 759.0L564.9 764.7L567.1 769.5L570.9 776.5L576.9 785.6L579.7 789.2L582.5 792.2L586.1 795.7L589.9 798.9L593.3 801.3L596.8 803.4L600.2 804.9L603.7 806.1L607.5 807.0L611.4 807.5L615.4 807.6L619.3 807.2L623.1 806.5L626.9 805.3L630.5 803.8L634.0 801.9L637.9 799.2L642.2 795.6L646.3 791.6L649.5 788.0L653.4 782.5L658.1 775.3L660.7 770.4L663.3 764.7L665.6 758.7L667.2 753.8L668.3 749.3L669.0 744.4L669.4 738.7L669.6 732.4L669.3 713.6L669.3 707.6L669.9 701.2L671.1 695.3L672.3 691.0L673.9 687.0L675.4 684.0L677.2 681.4L679.0 679.7L681.0 678.5L683.0 678.1L685.1 678.3"/><path d="M404.7 695.0L405.7 694.6L407.0 694.6L408.3 695.0L409.3 695.7L410.3 696.8L411.4 698.4L412.9 702.1L413.6 705.5L414.2 709.8L414.4 714.8L414.3 727.2L414.5 733.6L415.1 740.2L416.2 746.6L417.7 752.0L419.9 757.8L424.7 767.7L428.6 774.7L434.7 783.8L439.7 790.1L445.3 795.8L451.5 801.0L457.0 804.5L459.8 805.8L462.9 807.0L466.2 807.9L469.3 808.6L472.3 808.9L475.6 809.1L479.0 808.9L482.3 808.5L485.6 807.8L488.6 806.9L491.7 805.7L494.7 804.3L497.6 802.6L500.3 800.7L506.4 795.5L512.0 789.8L517.3 782.8L523.5 773.5L526.8 767.4L530.9 759.0L533.2 753.5L534.6 749.0L536.0 742.6L536.8 735.4L537.1 728.4L537.1 712.7L537.3 708.5L537.9 704.8L539.0 700.6L540.7 697.3L541.7 696.1L542.7 695.2L543.8 694.7L544.8 694.5L546.0 694.7L547.1 695.2L548.1 696.1L549.1 697.3L550.8 700.6L551.9 704.7L552.4 708.2L552.7 712.4L552.7 729.0L553.1 736.6L554.3 745.1L555.1 748.7L556.1 752.0L557.5 755.6L559.7 760.8L565.1 771.4L570.2 779.5L576.6 788.3L579.5 791.6L583.0 795.2L586.6 798.4L590.2 801.2L593.5 803.4L596.6 805.0L599.7 806.4L603.2 807.6L607.0 808.5L610.8 808.9L614.7 809.1L618.5 808.8L622.3 808.2L625.9 807.3L629.5 806.0L633.1 804.3L637.4 801.6L641.7 798.3L646.7 793.7L650.9 789.2L655.3 783.4L661.0 775.0L664.2 769.5L667.6 762.6L670.5 756.2L672.2 751.7L673.4 747.5L674.4 742.3L675.0 737.2L675.4 731.4L675.6 710.9L676.0 706.7L676.7 703.0L678.2 698.9L679.2 697.2L680.2 696.0L681.3 695.2L682.5 694.6L683.8 694.6L685.1 695.0"/><path d="M404.7 750.8L406.2 750.3L407.8 750.6L409.6 751.7L411.6 753.7L416.2 759.9L425.9 775.0L433.6 785.6L436.8 789.5L439.5 792.5L443.2 796.1L446.8 799.3L450.4 802.2L453.6 804.3L456.9 806.1L460.3 807.6L463.9 808.8L467.7 809.8L471.6 810.3L475.6 810.5L479.7 810.3L483.7 809.8L487.6 808.8L491.5 807.5L495.1 805.8L498.6 803.8L501.9 801.5L505.5 798.6L509.1 795.2L512.7 791.6L518.3 785.0L525.9 774.4L534.8 760.4L538.9 754.8L540.7 752.7L542.2 751.4L543.5 750.6L544.8 750.3L546.3 750.6L547.8 751.6L549.6 753.3L551.7 755.7L555.2 760.8L564.7 775.6L570.9 784.1L575.2 789.5L578.3 792.8L582.0 796.4L585.6 799.6L588.9 802.2L593.1 804.9L597.3 807.0L601.9 808.7L606.8 809.9L611.6 810.4L616.5 810.4L621.3 809.9L625.9 808.8L631.6 806.7L637.1 803.7L642.5 799.8L648.2 794.6L653.5 788.9L659.8 780.7L665.6 772.6L673.9 759.5L677.9 754.0L680.0 751.9L681.8 750.7L683.3 750.3L685.1 750.8"/><path d="M404.7 761.1L406.8 760.9L409.1 761.4L411.4 762.6L413.9 764.7L417.7 768.9L430.6 785.0L435.2 790.4L442.5 797.7L446.0 800.8L449.4 803.3L452.4 805.3L455.5 807.0L458.5 808.4L461.9 809.7L465.4 810.7L468.8 811.3L472.1 811.7L475.6 811.9L479.2 811.7L482.8 811.3L486.4 810.6L489.9 809.5L493.3 808.2L496.6 806.7L499.6 804.9L502.7 802.8L506.0 800.2L509.6 797.1L516.5 790.1L520.8 785.0L533.5 769.0L536.9 765.3L538.9 763.4L540.9 762.0L543.0 761.1L544.8 760.9L546.6 761.1L548.3 761.7L550.4 763.0L552.4 764.8L556.0 768.7L569.5 785.6L574.5 791.3L578.6 795.5L583.0 799.6L586.9 802.6L590.4 805.1L594.3 807.2L598.3 809.0L602.7 810.4L607.0 811.3L611.4 811.8L615.9 811.9L620.3 811.5L624.6 810.6L629.5 809.1L634.3 807.0L639.0 804.3L643.5 801.0L649.6 795.5L655.2 789.8L672.1 768.9L675.9 764.7L678.4 762.6L680.7 761.4L683.0 760.9L685.1 761.1"/><path d="M404.7 767.8L407.0 767.6L409.6 768.2L412.1 769.4L414.9 771.4L420.8 777.0L432.2 789.8L437.3 794.9L444.3 801.3L450.1 805.6L456.0 808.8L462.4 811.3L465.7 812.1L469.0 812.7L472.3 813.1L475.6 813.2L479.2 813.1L482.5 812.7L485.8 812.1L489.2 811.2L492.5 810.1L495.8 808.6L498.9 807.0L501.9 805.2L507.8 800.7L514.7 794.3L519.2 789.8L530.2 777.4L535.6 772.2L538.1 770.1L540.4 768.7L542.7 767.9L544.8 767.6L546.8 767.8L549.1 768.6L551.4 770.0L553.7 771.7L559.1 776.9L570.9 790.1L577.0 796.1L584.3 802.6L587.5 804.9L590.9 807.0L594.8 809.0L598.9 810.6L602.9 811.8L607.0 812.7L611.1 813.1L615.4 813.2L619.8 812.9L623.9 812.2L628.7 810.8L633.3 809.1L637.8 806.7L642.0 804.0L647.3 799.8L653.8 793.7L657.6 789.8L668.8 777.3L674.6 771.6L677.4 769.6L680.0 768.3L682.5 767.6L685.1 767.8"/><path d="M404.7 773.0L407.3 772.9L410.1 773.4L413.1 774.8L416.2 776.8L421.6 781.5L432.5 792.5L439.8 799.5L445.3 804.0L450.6 807.6L456.8 810.6L462.9 812.8L469.3 814.1L475.6 814.6L479.0 814.5L482.3 814.1L488.6 812.7L495.3 810.4L501.4 807.2L506.5 803.7L512.2 798.9L519.2 792.2L529.5 781.8L534.3 777.5L537.1 775.5L539.9 774.0L542.5 773.1L544.8 772.8L547.1 773.1L549.6 773.9L552.2 775.2L555.0 777.1L560.1 781.6L571.2 792.8L579.3 800.4L585.4 805.2L591.4 808.8L595.3 810.7L599.1 812.1L602.9 813.2L607.0 814.0L611.1 814.5L614.9 814.6L619.0 814.3L623.1 813.7L627.9 812.5L632.5 810.8L637.1 808.7L641.5 806.1L646.0 802.8L651.3 798.3L658.0 791.9L668.0 781.7L673.3 777.0L676.7 774.8L679.5 773.5L682.3 772.9L685.1 773.0"/><path d="M404.7 777.2L407.5 777.1L410.6 777.7L413.6 779.0L417.0 781.0L422.3 785.3L434.2 796.4L440.7 802.2L445.8 806.1L450.9 809.2L457.0 812.1L463.1 814.2L469.5 815.5L475.6 815.9L482.0 815.5L488.4 814.1L495.0 811.9L501.1 808.9L506.0 805.8L511.0 801.9L517.2 796.4L528.7 785.6L533.8 781.5L536.9 779.5L539.7 778.1L542.2 777.3L544.8 777.1L547.3 777.3L550.1 778.1L552.9 779.5L555.7 781.3L560.8 785.4L573.6 797.4L580.2 803.1L585.8 807.2L591.7 810.5L595.5 812.2L599.4 813.5L603.2 814.6L607.3 815.4L611.1 815.8L614.9 815.9L618.8 815.7L622.6 815.1L627.4 814.0L632.0 812.4L636.8 810.4L641.2 807.9L645.3 805.2L649.8 801.6L655.9 796.1L667.2 785.6L672.8 781.0L676.2 779.0L679.2 777.7L682.3 777.1L685.1 777.2"/><path d="M404.7 780.7L407.8 780.7L410.8 781.3L413.9 782.5L417.2 784.4L423.1 788.8L436.6 800.7L441.0 804.3L446.1 807.9L451.4 811.0L457.5 813.7L463.6 815.7L469.8 816.8L475.6 817.2L481.8 816.8L488.1 815.5L494.5 813.5L500.6 810.6L505.7 807.6L510.7 804.0L527.9 789.1L533.3 784.9L536.4 783.1L539.2 781.8L542.0 780.9L544.8 780.6L547.3 780.8L550.1 781.6L552.9 782.8L556.0 784.6L561.4 788.7L575.4 801.0L580.2 804.9L586.0 808.8L592.2 812.1L595.9 813.7L599.6 815.0L603.4 816.0L607.3 816.7L611.1 817.1L614.7 817.2L618.5 817.0L622.3 816.5L626.9 815.5L631.5 814.0L636.1 812.1L640.7 809.7L645.1 807.0L649.5 803.7L666.7 788.8L672.3 784.5L675.6 782.6L679.0 781.3L682.0 780.7L685.1 780.7"/><path d="M404.7 783.9L407.8 783.8L410.8 784.4L414.2 785.6L417.5 787.3L420.5 789.4L424.1 792.1L436.9 802.8L441.1 806.1L446.3 809.6L451.7 812.5L457.8 815.2L463.6 817.0L469.8 818.1L475.6 818.5L481.8 818.1L487.9 816.9L494.3 814.9L500.4 812.2L505.7 809.2L510.7 805.8L514.9 802.5L526.7 792.6L533.0 787.9L536.1 786.1L539.2 784.8L542.0 784.0L544.8 783.8L547.6 784.0L550.4 784.7L553.2 785.9L556.3 787.6L562.9 792.4L575.3 802.8L580.0 806.4L586.0 810.4L592.5 813.6L596.3 815.2L600.1 816.4L604.0 817.4L607.5 818.0L611.1 818.4L614.7 818.5L618.2 818.3L622.1 817.8L627.4 816.6L632.8 814.9L638.3 812.5L643.5 809.6L647.3 807.1L651.1 804.3L667.2 790.9L670.8 788.3L673.9 786.5L676.9 785.0L679.7 784.2L682.5 783.8L685.1 783.9"/><path d="M404.7 786.7L407.8 786.6L411.1 787.2L414.4 788.4L417.7 790.1L421.0 792.2L424.6 794.8L436.4 804.3L440.9 807.6L446.6 811.2L452.2 814.2L458.3 816.7L464.2 818.4L470.0 819.5L475.6 819.8L481.5 819.4L487.6 818.3L493.8 816.4L499.9 813.8L505.5 810.8L510.9 807.3L515.3 804.0L526.4 795.0L532.8 790.6L536.1 788.8L538.9 787.6L542.0 786.8L544.8 786.6L547.6 786.8L550.4 787.5L553.4 788.7L556.5 790.3L563.1 794.8L574.9 804.3L580.0 808.1L586.4 812.0L592.9 815.2L596.6 816.6L600.4 817.8L604.0 818.7L607.5 819.3L611.1 819.7L614.4 819.8L618.0 819.6L621.6 819.2L626.9 818.1L632.3 816.4L637.9 814.0L643.2 811.3L647.3 808.7L651.4 805.8L667.2 793.3L670.8 790.8L673.9 789.1L676.9 787.8L679.7 787.0L682.5 786.6L685.1 786.7"/><path d="M404.7 789.3L407.8 789.2L411.1 789.8L414.4 790.9L418.0 792.6L421.0 794.4L424.6 796.9L435.7 805.5L440.8 809.1L446.7 812.8L452.7 815.8L458.5 818.1L464.4 819.8L470.0 820.8L475.6 821.1L481.5 820.7L487.6 819.6L493.8 817.8L500.1 815.1L505.7 812.2L511.5 808.5L516.1 805.2L525.9 797.5L531.5 793.7L534.3 792.1L537.1 790.8L539.7 789.9L542.2 789.4L545.5 789.2L548.9 789.6L552.2 790.6L556.0 792.4L559.3 794.4L562.9 796.8L574.1 805.5L579.2 809.1L585.3 812.9L591.5 815.9L597.3 818.2L602.9 819.8L608.5 820.8L614.2 821.1L619.8 820.8L625.4 819.8L631.3 818.1L637.1 815.8L643.1 812.8L649.0 809.1L654.1 805.5L665.2 796.9L668.8 794.4L671.8 792.6L675.4 790.9L678.7 789.8L682.0 789.2L685.1 789.3"/><path d="M404.7 791.7L407.8 791.7L411.1 792.2L414.4 793.2L418.0 794.8L424.1 798.6L435.4 807.0L440.8 810.7L446.9 814.3L453.2 817.3L459.1 819.6L464.7 821.1L470.3 822.1L475.6 822.4L481.5 822.0L487.4 821.0L493.5 819.2L499.9 816.6L505.7 813.6L511.6 810.1L516.4 806.7L526.4 799.2L531.5 795.9L536.9 793.2L539.4 792.4L542.0 791.8L545.3 791.6L548.9 792.0L552.4 793.1L556.0 794.6L559.1 796.3L562.4 798.5L573.9 807.0L579.5 810.8L585.8 814.5L592.2 817.6L597.8 819.7L603.4 821.2L608.8 822.1L614.2 822.4L619.5 822.1L625.1 821.1L630.7 819.6L636.6 817.3L642.9 814.3L649.0 810.7L654.4 807.0L665.7 798.6L671.8 794.8L675.4 793.2L678.7 792.2L682.0 791.7L685.1 791.7"/><path d="M404.7 794.0L408.0 794.0L411.4 794.5L414.7 795.5L418.2 797.1L423.9 800.4L435.2 808.5L440.8 812.2L447.3 815.9L453.7 818.9L459.3 821.0L464.9 822.5L470.3 823.4L475.6 823.7L481.3 823.4L487.1 822.3L493.2 820.6L499.4 818.1L505.5 815.1L511.6 811.6L516.6 808.2L526.9 800.9L531.5 798.0L536.9 795.4L539.4 794.6L542.0 794.1L545.3 793.9L548.9 794.3L552.4 795.3L556.0 796.8L562.1 800.3L573.7 808.5L579.7 812.5L586.4 816.2L592.7 819.1L598.3 821.2L603.7 822.6L609.1 823.4L614.2 823.7L619.5 823.4L624.9 822.5L630.5 821.0L636.1 818.9L642.5 815.9L649.0 812.2L654.6 808.5L665.9 800.4L671.6 797.1L675.1 795.5L678.4 794.5L681.8 794.0L685.1 794.0"/><path d="M404.7 796.1L407.8 796.1L411.1 796.6L414.4 797.5L418.0 799.0L423.6 802.2L435.1 810.1L441.2 813.9L447.8 817.5L454.2 820.4L459.8 822.4L465.2 823.9L470.5 824.7L475.6 825.0L481.3 824.7L486.9 823.7L492.7 822.1L498.9 819.7L505.0 816.8L511.1 813.3L516.7 809.8L527.2 802.6L531.8 799.9L537.1 797.4L539.7 796.7L542.0 796.3L545.3 796.1L548.9 796.4L552.4 797.4L556.0 798.8L561.9 802.1L573.5 810.1L579.8 814.0L586.6 817.7L593.2 820.6L598.6 822.5L604.0 823.9L609.1 824.7L614.2 825.0L619.3 824.7L624.6 823.9L630.0 822.4L635.6 820.4L642.0 817.5L648.6 813.9L654.7 810.1L666.2 802.2L671.8 799.0L675.4 797.5L678.7 796.6L682.0 796.1L685.1 796.1"/><path d="M404.7 798.2L407.8 798.2L411.1 798.6L414.4 799.5L418.0 801.0L423.3 803.9L435.1 811.6L441.6 815.5L448.3 819.1L454.7 821.9L460.1 823.8L465.4 825.2L470.5 826.0L475.6 826.3L481.0 826.0L486.6 825.1L492.5 823.4L498.3 821.2L504.5 818.4L510.8 814.9L516.8 811.3L527.2 804.5L531.8 801.8L537.1 799.5L539.7 798.7L542.0 798.3L545.3 798.1L548.9 798.5L552.4 799.4L556.0 800.8L561.6 803.9L574.0 811.9L580.5 815.8L587.4 819.4L593.8 822.2L599.1 824.0L604.2 825.3L609.3 826.1L614.2 826.3L619.3 826.0L624.4 825.2L629.7 823.8L635.1 821.9L641.5 819.1L648.2 815.5L654.7 811.6L666.5 803.9L671.8 801.0L675.4 799.5L678.7 798.6L682.0 798.2L685.1 798.2"/><path d="M404.7 800.2L407.8 800.2L411.1 800.6L414.4 801.5L418.0 802.9L423.6 805.9L435.6 813.4L442.3 817.3L448.9 820.7L455.2 823.4L460.6 825.3L465.7 826.6L470.8 827.3L475.6 827.6L481.0 827.3L486.4 826.4L492.0 824.9L497.8 822.8L503.8 820.0L510.1 816.7L516.3 813.1L527.2 806.3L531.8 803.7L537.1 801.4L542.0 800.3L545.3 800.1L548.9 800.5L552.4 801.4L556.0 802.7L561.6 805.7L574.5 813.7L581.0 817.5L587.9 821.0L594.3 823.7L599.4 825.4L604.5 826.6L609.3 827.4L614.2 827.6L619.0 827.3L624.1 826.6L629.2 825.3L634.6 823.4L640.9 820.7L647.5 817.3L654.2 813.4L666.2 805.9L671.8 802.9L675.4 801.5L678.7 800.6L682.0 800.2L685.1 800.2"/><path d="M404.7 802.2L407.8 802.1L411.1 802.6L414.4 803.4L418.0 804.8L423.9 807.8L436.2 815.2L442.6 818.8L448.9 822.0L454.7 824.5L459.3 826.2L463.9 827.5L468.2 828.3L472.6 828.8"/><path d="M478.8 828.8L483.3 828.3L487.9 827.4L492.7 826.0L497.6 824.2L503.2 821.7L509.4 818.5L527.2 808.0L532.5 805.2L535.8 803.8L538.9 802.9L542.0 802.3L544.8 802.1L547.6 802.2L550.6 802.8L553.7 803.7L557.0 805.1L562.6 808.0L580.5 818.5L586.6 821.7L592.5 824.3L597.3 826.0L602.2 827.4L606.8 828.3L611.0 828.8"/><path d="M617.2 828.8L621.6 828.3L625.9 827.5L630.5 826.2L635.1 824.5L640.9 822.0L647.2 818.8L653.6 815.2L665.9 807.8L671.8 804.8L675.4 803.4L678.7 802.6L682.0 802.1L685.1 802.2"/><path d="M404.7 804.1L407.8 804.0L410.8 804.4L414.2 805.2L417.5 806.4L423.3 809.3L439.2 818.3L447.6 822.7L456.3 826.4L460.3 827.8L464.1 828.8"/><path d="M487.3 828.8L491.2 827.7L495.3 826.3L504.0 822.6L512.4 818.2L527.7 809.4L533.3 806.7L536.4 805.5L539.2 804.7L542.0 804.2L544.8 804.0L547.6 804.2L550.4 804.6L553.4 805.5L556.5 806.7L562.1 809.4L577.4 818.2L585.8 822.6L594.5 826.3L598.6 827.7L602.5 828.8"/><path d="M625.7 828.8L629.5 827.8L633.5 826.4L642.2 822.7L650.6 818.3L666.5 809.3L672.3 806.4L675.6 805.2L679.0 804.4L682.0 804.0L685.1 804.1"/><path d="M404.7 805.9L408.0 805.9L411.4 806.3L414.7 807.2L418.2 808.5L424.6 811.6L438.7 819.4L445.8 823.1L452.9 826.4L459.4 828.8"/><path d="M491.9 828.8L498.6 826.3L505.7 823.1L512.7 819.4L526.7 811.6L532.5 808.8L535.8 807.5L538.9 806.6L542.0 806.0L544.8 805.9L547.8 806.0L550.9 806.6L554.0 807.5L557.3 808.8L563.1 811.6L577.1 819.4L584.1 823.1L591.2 826.3L597.9 828.8"/><path d="M630.4 828.8L636.9 826.4L644.0 823.1L651.1 819.4L665.2 811.6L671.6 808.5L675.1 807.2L678.4 806.3L681.8 805.9L685.1 805.9"/><path d="M404.7 807.7L408.0 807.7L411.4 808.1L414.9 809.0L418.7 810.4L425.4 813.6L444.8 824.0L450.6 826.7L455.7 828.8"/><path d="M495.6 828.8L500.9 826.6L506.8 823.9L525.6 813.7L531.8 810.8L535.3 809.4L538.6 808.4L541.7 807.9L544.8 807.7L547.8 807.9L550.9 808.4L554.2 809.3L557.8 810.7L564.2 813.7L583.0 823.9L588.9 826.6L594.2 828.8"/><path d="M634.1 828.8L639.2 826.7L645.0 824.0L664.4 813.6L671.1 810.4L674.9 809.0L678.4 808.1L681.8 807.7L685.1 807.7"/><path d="M404.7 809.5L408.0 809.5L411.6 809.9L415.2 810.8L419.3 812.3L426.4 815.6L444.3 825.0L452.5 828.8"/><path d="M498.9 828.8L507.4 824.9L524.9 815.7L531.3 812.6L535.1 811.2L538.4 810.2L541.7 809.6L544.8 809.5L547.8 809.6L551.2 810.2L554.5 811.1L558.3 812.5L564.9 815.7L582.4 824.9L590.9 828.8"/><path d="M637.3 828.8L645.5 825.0L663.4 815.6L670.5 812.3L674.6 810.8L678.2 809.9L681.8 809.5L685.1 809.5"/><path d="M404.7 811.2L408.0 811.2L411.6 811.6L415.4 812.6L419.3 813.9L426.1 817.0L442.0 825.2L449.5 828.8"/><path d="M501.8 828.8L509.4 825.2L524.9 817.1L531.3 814.2L535.1 812.8L538.4 811.9L541.7 811.4L545.0 811.2L548.3 811.4L551.7 812.0L555.0 812.9L558.8 814.3L564.9 817.1L580.4 825.2L588.0 828.8"/><path d="M640.3 828.8L647.8 825.2L663.7 817.0L670.5 813.9L674.4 812.6L678.2 811.6L681.8 811.2L685.1 811.2"/><path d="M404.7 812.9L408.3 812.9L411.9 813.3L415.4 814.2L419.5 815.5L427.2 818.9L446.8 828.8"/><path d="M504.6 828.8L523.9 819.1L531.0 815.9L534.8 814.5L538.1 813.6L541.5 813.0L544.8 812.8L548.1 813.0L551.4 813.6L555.0 814.5L558.8 815.9L565.9 819.1L585.2 828.8"/><path d="M643.0 828.8L662.6 818.9L670.3 815.5L674.4 814.2L677.9 813.3L681.5 812.9L685.1 812.9"/><path d="M404.7 814.5L408.0 814.5L411.6 814.9L415.2 815.7L419.3 817.0L427.4 820.4L444.1 828.8"/><path d="M507.3 828.8L523.3 820.7L531.0 817.4L534.8 816.1L538.1 815.2L541.5 814.7L544.8 814.5L548.1 814.6L551.4 815.2L554.7 816.0L558.5 817.3L566.5 820.7L582.5 828.8"/><path d="M645.7 828.8L662.4 820.4L670.5 817.0L674.6 815.7L678.2 814.9L681.8 814.5L685.1 814.5"/><path d="M404.7 816.1L408.0 816.1L411.6 816.5L415.2 817.2L419.0 818.4L427.4 821.8L441.5 828.8"/><path d="M509.9 828.8L523.3 822.1L531.3 818.8L535.1 817.5L538.4 816.7L541.7 816.2L544.8 816.0L547.8 816.2L551.2 816.7L554.7 817.5L558.3 818.7L566.2 822.0L579.9 828.8"/><path d="M648.3 828.8L662.4 821.8L670.8 818.4L674.6 817.2L678.2 816.5L681.8 816.1L685.1 816.1"/><path d="M404.7 817.6L408.0 817.6L411.6 818.0L415.2 818.7L418.7 819.7L426.9 823.0L438.9 828.8"/><path d="M512.5 828.8L523.9 823.2L531.8 820.0L535.3 818.9L538.6 818.2L541.7 817.7L544.8 817.6L547.8 817.7L551.2 818.2L554.5 818.9L558.0 820.0L565.9 823.2L577.3 828.8"/><path d="M650.9 828.8L662.9 823.0L671.1 819.7L674.6 818.7L678.2 818.0L681.8 817.6L685.1 817.6"/><path d="M404.7 819.1L408.0 819.1L411.4 819.4L414.7 820.0L418.2 821.0L425.9 823.9L436.3 828.8"/><path d="M515.0 828.8L524.9 824.1L532.3 821.3L538.6 819.7L541.7 819.2L544.8 819.1L547.8 819.2L550.9 819.6L554.2 820.3L557.5 821.3L564.9 824.1L574.8 828.8"/><path d="M653.5 828.8L663.9 823.9L671.6 821.0L675.1 820.0L678.4 819.4L681.8 819.1L685.1 819.1"/><path d="M404.7 820.6L407.8 820.6L410.8 820.8L414.2 821.4L417.5 822.2L424.6 824.7L433.7 828.8"/><path d="M517.7 828.8L526.1 824.9L533.0 822.4L539.2 821.0L544.8 820.6L550.6 821.0L556.8 822.4L563.7 824.9L572.1 828.8"/><path d="M656.1 828.8L665.2 824.7L672.3 822.2L675.6 821.4L679.0 820.8L682.0 820.6L685.1 820.6"/><path d="M404.7 822.0L410.6 822.2L416.5 823.3L423.1 825.4L431.0 828.8"/><path d="M520.4 828.8L527.7 825.7L533.8 823.6L539.4 822.4L544.8 822.0L550.1 822.4L555.7 823.5L562.1 825.7L569.4 828.8"/><path d="M658.8 828.8L666.7 825.4L673.3 823.3L679.2 822.2L685.1 822.0"/><path d="M404.7 823.4L410.1 823.6L415.4 824.4L421.3 826.1L428.1 828.8"/><path d="M523.3 828.8L529.5 826.3L534.8 824.7L539.9 823.7L544.8 823.4L549.6 823.7L554.7 824.6L560.3 826.3L566.5 828.8"/><path d="M661.7 828.8L668.5 826.1L674.4 824.4L679.7 823.6L685.1 823.4"/><path d="M404.7 824.8L409.6 824.9L414.4 825.6L419.5 826.9L425.0 828.8"/><path d="M526.4 828.8L531.5 827.0L536.1 825.7L540.4 825.0L544.8 824.8L549.1 825.0L553.7 825.7L558.3 827.0L563.4 828.8"/><path d="M664.8 828.8L670.3 826.9L675.4 825.6L680.2 824.9L685.1 824.8"/><path d="M404.7 826.2L408.8 826.2L412.9 826.6L417.0 827.5L421.4 828.8"/><path d="M529.9 828.8L533.8 827.6L537.6 826.8L541.2 826.3L544.8 826.1L548.3 826.3L552.2 826.8L556.0 827.6L559.9 828.8"/><path d="M668.4 828.8L672.8 827.5L676.9 826.6L681.0 826.2L685.1 826.2"/><path d="M404.7 827.5L410.8 827.7L417.0 828.8"/><path d="M534.4 828.8L539.7 827.8L544.8 827.5L549.9 827.8L555.4 828.8"/><path d="M672.8 828.8L679.0 827.7L685.1 827.5"/><path d="M405.1 828.8L407.9 828.8"/><path d="M543.5 828.8L546.3 828.8"/><path d="M681.9 828.8L684.7 828.8"/></g><path d="M404.7 627.7L407.8 627.6L411.1 628.1L414.4 629.1L418.5 630.9L425.9 634.8L432.5 638.6L438.1 642.3L443.7 646.5L447.7 649.8L450.5 652.5L455.4 657.7L460.3 663.1L464.1 668.0L470.3 676.7L475.6 683.7L475.6 683.9L481.0 676.8L487.3 668.0L490.1 664.3L497.1 656.5L503.7 649.8L507.7 646.5L511.6 643.5L515.9 640.5L520.3 637.7L525.9 634.5L532.3 631.2L536.1 629.5L539.4 628.3L543.0 627.7L546.6 627.7L550.1 628.3L553.7 629.5L559.3 632.1L567.7 636.7L573.8 640.4L579.4 644.4L583.3 647.4L586.8 650.4L591.6 655.3L597.1 661.3L602.1 667.4L608.8 676.8L614.2 683.9L614.2 683.7L619.5 676.7L625.7 668.0L629.5 663.1L634.4 657.7L639.3 652.5L642.1 649.8L646.1 646.5L651.7 642.3L657.3 638.6L663.9 634.8L671.3 630.9L675.4 629.1L678.7 628.1L682.0 627.6L685.1 627.7" fill="none" stroke="#ff0000" stroke-width="1.3"/><path d="M477.0 783.4L479.2 783.0L481.3 782.3L483.5 781.2L485.8 779.7L488.3 777.7L490.4 775.6L492.2 773.5L493.6 771.4L494.6 769.2L495.6 766.8L496.5 763.8L497.3 760.2L498.4 753.2L498.7 746.3L498.2 739.0L497.2 731.4L495.9 725.7L493.8 719.1L490.9 712.2L483.0 695.5L479.5 689.3L475.9 684.1L475.6 684.0L471.6 689.9L468.2 695.7L460.3 712.4L457.3 720.1L455.2 726.5L454.0 732.6L453.0 740.8L452.7 748.1L452.9 751.7L453.3 755.3L454.7 762.9L455.5 765.9L456.5 768.6L457.5 770.8L458.8 772.9L460.6 775.2L462.9 777.5L465.4 779.6L468.0 781.3L470.3 782.4L472.6 783.1L474.9 783.5L477.0 783.4" fill="none" stroke="#ff0000" stroke-width="1.3"/><path d="M615.4 783.4L617.5 783.1L619.8 782.3L621.8 781.3L624.1 779.8L626.4 777.9L628.7 775.7L630.5 773.6L632.0 771.4L633.1 769.2L634.1 766.6L635.7 760.2L636.8 753.2L637.1 746.3L636.7 739.0L635.7 731.4L634.3 725.7L632.3 719.3L629.2 711.9L621.6 695.7L618.2 689.9L614.2 684.0L613.9 684.1L610.3 689.3L606.8 695.5L598.9 712.2L595.8 719.8L593.7 726.3L592.4 732.4L591.4 740.5L591.1 748.1L591.3 751.7L591.7 755.3L593.1 762.9L594.0 766.2L594.9 768.6L595.9 770.8L597.2 772.9L599.1 775.3L601.2 777.4L603.7 779.5L606.3 781.2L608.5 782.3L610.8 783.1L613.1 783.5L615.4 783.4" fill="none" stroke="#ff0000" stroke-width="1.3"/><path d="M404.7 730.9L406.2 721.3L406.5 720.9L406.8 721.5L408.2 730.5L409.9 738.1L412.3 746.0L414.7 752.0L421.7 765.3L426.2 773.2L433.3 783.4L436.2 787.4L438.8 790.4L443.1 794.9L448.1 799.4L452.2 802.5L456.5 805.1L460.8 807.0L465.7 808.6L470.5 809.5L475.6 809.8L481.0 809.5L486.4 808.4L491.5 806.7L496.3 804.3L501.1 801.1L506.3 796.8L511.5 791.6L515.6 786.8L521.8 778.3L526.1 771.7L533.6 758.1L537.1 751.1L539.5 744.7L541.9 736.6L543.4 729.6L544.8 721.0L545.0 721.0L545.3 722.0L546.4 729.6L548.2 737.5L550.5 745.4L552.6 750.8L555.9 757.4L563.3 771.1L567.2 777.1L572.8 785.0L576.9 790.1L581.5 794.9L586.6 799.5L591.6 803.1L596.0 805.6L600.9 807.6L606.0 809.0L611.1 809.7L616.5 809.7L621.6 809.1L626.7 807.8L631.5 806.0L635.8 803.6L640.2 800.6L645.0 796.4L649.9 791.6L652.6 788.6L655.6 784.7L660.0 778.6L663.2 773.8L667.6 766.2L675.0 752.3L677.5 746.0L679.9 738.1L681.6 730.5L683.0 721.5L683.3 720.9L683.6 721.3L685.1 730.9" fill="none" stroke="#77ac30" stroke-width="1.3"/></g>
<path d="M406.5 613.0V824.8H683.3" fill="none" stroke="#262626" stroke-width="0.8"/>
<path d="M406.5 613.0H683.3" fill="none" stroke="#a4a4a4" stroke-width="0.8"/>
<path d="M683.3 613.0V824.8" fill="none" stroke="#a4a4a4" stroke-width="0.8"/>
<path d="M406.5 825h3M683.3 825h-3" stroke="#262626" stroke-width="0.9"/>
<text x="402.8" y="828.1" font-family="Liberation Sans" font-size="8.6" text-anchor="end" fill="#262626" >0.72</text>
<path d="M406.5 795.1h3M683.3 795.1h-3" stroke="#262626" stroke-width="0.9"/>
<text x="402.8" y="798.2" font-family="Liberation Sans" font-size="8.6" text-anchor="end" fill="#262626" >0.74</text>
<path d="M406.5 765.2h3M683.3 765.2h-3" stroke="#262626" stroke-width="0.9"/>
<text x="402.8" y="768.3" font-family="Liberation Sans" font-size="8.6" text-anchor="end" fill="#262626" >0.76</text>
<path d="M406.5 735.3h3M683.3 735.3h-3" stroke="#262626" stroke-width="0.9"/>
<text x="402.8" y="738.4" font-family="Liberation Sans" font-size="8.6" text-anchor="end" fill="#262626" >0.78</text>
<path d="M406.5 705.4h3M683.3 705.4h-3" stroke="#262626" stroke-width="0.9"/>
<text x="402.8" y="708.5" font-family="Liberation Sans" font-size="8.6" text-anchor="end" fill="#262626" >0.8</text>
<path d="M406.5 675.5h3M683.3 675.5h-3" stroke="#262626" stroke-width="0.9"/>
<text x="402.8" y="678.6" font-family="Liberation Sans" font-size="8.6" text-anchor="end" fill="#262626" >0.82</text>
<path d="M406.5 645.6h3M683.3 645.6h-3" stroke="#262626" stroke-width="0.9"/>
<text x="402.8" y="648.7" font-family="Liberation Sans" font-size="8.6" text-anchor="end" fill="#262626" >0.84</text>
<path d="M406.5 615.7h3M683.3 615.7h-3" stroke="#262626" stroke-width="0.9"/>
<text x="402.8" y="618.8" font-family="Liberation Sans" font-size="8.6" text-anchor="end" fill="#262626" >0.86</text>
<path d="M412.7 824.8v-3M412.7 613.0v3" stroke="#262626" stroke-width="0.9"/>
<text x="412.7" y="837.2" font-family="Liberation Sans" font-size="8.6" text-anchor="middle" fill="#262626" >-3</text>
<path d="M456.8 824.8v-3M456.8 613.0v3" stroke="#262626" stroke-width="0.9"/>
<text x="456.8" y="837.2" font-family="Liberation Sans" font-size="8.6" text-anchor="middle" fill="#262626" >-2</text>
<path d="M500.8 824.8v-3M500.8 613.0v3" stroke="#262626" stroke-width="0.9"/>
<text x="500.8" y="837.2" font-family="Liberation Sans" font-size="8.6" text-anchor="middle" fill="#262626" >-1</text>
<path d="M544.9 824.8v-3M544.9 613.0v3" stroke="#262626" stroke-width="0.9"/>
<text x="544.9" y="837.2" font-family="Liberation Sans" font-size="8.6" text-anchor="middle" fill="#262626" >0</text>
<path d="M589 824.8v-3M589 613.0v3" stroke="#262626" stroke-width="0.9"/>
<text x="589" y="837.2" font-family="Liberation Sans" font-size="8.6" text-anchor="middle" fill="#262626" >1</text>
<path d="M633 824.8v-3M633 613.0v3" stroke="#262626" stroke-width="0.9"/>
<text x="633" y="837.2" font-family="Liberation Sans" font-size="8.6" text-anchor="middle" fill="#262626" >2</text>
<path d="M677.1 824.8v-3M677.1 613.0v3" stroke="#262626" stroke-width="0.9"/>
<text x="677.1" y="837.2" font-family="Liberation Sans" font-size="8.6" text-anchor="middle" fill="#262626" >3</text>
<circle cx="475.7" cy="750.8" r="1.7" fill="#0000ff"/><circle cx="614.1" cy="750.8" r="1.7" fill="#0000ff"/>
<text x="544.9" y="855.3" font-family="Liberation Serif" font-size="17" text-anchor="middle" fill="#1a1a1a" font-style="italic" >g</text>
<text transform="translate(377.6 718.9) rotate(-90)" x="0" y="0" font-family="Liberation Serif" font-style="italic" font-size="19.5" text-anchor="middle" fill="#1a1a1a">G</text>
<clipPath id="rcd"><rect x="406.5" y="917.5" width="276.8" height="212.9"/></clipPath><g clip-path="url(#rcd)"><g fill="none" stroke="#b9b9b9" stroke-width="0.8"><path d="M685.1 920.6L404.7 920.6"/><path d="M404.7 945.5L685.1 945.5"/><path d="M404.7 958.0L685.1 958.0"/><path d="M404.7 967.4L685.1 967.4"/><path d="M404.7 974.5L685.1 974.5"/><path d="M404.7 980.5L685.1 980.5"/><path d="M404.7 985.7L685.1 985.7"/><path d="M404.7 990.3L685.1 990.3"/><path d="M404.7 994.4L685.1 994.4"/><path d="M404.7 998.1L685.1 998.1"/><path d="M404.7 1001.5L685.1 1001.5"/><path d="M404.7 1005.0L685.1 1005.0"/><path d="M404.7 1008.1L685.1 1008.1"/><path d="M404.7 1011.2L685.1 1011.2"/><path d="M404.7 1013.9L685.1 1013.9"/><path d="M404.7 1016.5L685.1 1016.5"/><path d="M404.7 1019.0L685.1 1019.0"/><path d="M404.7 1021.5L685.1 1021.5"/><path d="M685.1 1133.9L404.7 1133.9"/><path d="M404.7 1023.9L685.1 1023.9"/><path d="M685.1 1133.5L404.7 1133.5"/><path d="M404.7 1026.2L685.1 1026.2"/><path d="M685.1 1133.1L404.7 1133.1"/><path d="M404.7 1028.4L685.1 1028.4"/><path d="M685.1 1132.7L404.7 1132.7"/><path d="M404.7 1030.6L685.1 1030.6"/><path d="M685.1 1132.3L404.7 1132.3"/><path d="M404.7 1032.8L685.1 1032.8"/><path d="M685.1 1131.8L404.7 1131.8"/><path d="M404.7 1034.9L685.1 1034.9"/><path d="M685.1 1131.4L404.7 1131.4"/><path d="M404.7 1037.0L685.1 1037.0"/><path d="M685.1 1131.0L404.7 1131.0"/><path d="M404.7 1039.1L685.1 1039.1"/><path d="M685.1 1130.6L404.7 1130.6"/><path d="M404.7 1041.2L685.1 1041.2"/><path d="M685.1 1130.1L404.7 1130.1"/><path d="M404.7 1043.3L685.1 1043.3"/><path d="M685.1 1129.7L404.7 1129.7"/><path d="M404.7 1045.4L685.1 1045.4"/><path d="M685.1 1129.3L404.7 1129.3"/><path d="M404.7 1047.5L685.1 1047.5"/><path d="M685.1 1128.9L404.7 1128.9"/><path d="M404.7 1049.6L685.1 1049.6"/><path d="M685.1 1128.4L404.7 1128.4"/><path d="M404.7 1051.7L685.1 1051.7"/><path d="M685.1 1128.0L404.7 1128.0"/><path d="M404.7 1053.8L685.1 1053.8"/><path d="M685.1 1127.5L404.7 1127.5"/><path d="M404.7 1055.9L685.1 1055.9"/><path d="M685.1 1127.1L404.7 1127.1"/><path d="M404.7 1058.0L685.1 1058.0"/><path d="M685.1 1126.7L404.7 1126.7"/><path d="M404.7 1060.1L685.1 1060.1"/><path d="M685.1 1126.3L404.7 1126.3"/><path d="M404.7 1062.2L685.1 1062.2"/><path d="M685.1 1125.8L404.7 1125.8"/><path d="M404.7 1064.3L685.1 1064.3"/><path d="M685.1 1125.4L404.7 1125.4"/><path d="M404.7 1066.4L685.1 1066.4"/><path d="M685.1 1125.0L404.7 1125.0"/><path d="M404.7 1068.5L685.1 1068.5"/><path d="M685.1 1124.6L404.7 1124.6"/><path d="M404.7 1070.6L685.1 1070.6"/><path d="M685.1 1124.2L404.7 1124.2"/><path d="M404.7 1072.7L685.1 1072.7"/><path d="M685.1 1123.8L404.7 1123.8"/><path d="M404.7 1074.8L685.1 1074.8"/><path d="M685.1 1123.5L404.7 1123.5"/><path d="M404.7 1076.9L685.1 1076.9"/><path d="M685.1 1123.1L404.7 1123.1"/><path d="M404.7 1079.0L685.1 1079.0"/><path d="M685.1 1122.7L404.7 1122.7"/><path d="M404.7 1081.1L685.1 1081.1"/><path d="M685.1 1122.3L404.7 1122.3"/><path d="M404.7 1083.2L685.1 1083.2"/><path d="M685.1 1121.9L404.7 1121.9"/><path d="M404.7 1085.3L685.1 1085.3"/><path d="M685.1 1121.5L404.7 1121.5"/><path d="M404.7 1087.4L685.1 1087.4"/><path d="M685.1 1121.0L404.7 1121.0"/><path d="M404.7 1089.6L475.6 1089.3L541.2 1089.6L614.2 1089.3L685.1 1089.6"/><path d="M685.1 1120.5L404.7 1120.5"/><path d="M404.7 1091.8L475.6 1091.1L541.2 1091.8L614.2 1091.1L685.1 1091.8"/><path d="M685.1 1119.9L404.7 1119.9"/><path d="M404.7 1094.1L420.8 1093.9L457.5 1093.0L475.6 1092.8L495.5 1093.0L541.2 1094.1L556.3 1094.0L593.2 1093.1L614.2 1092.8L632.3 1093.0L669.0 1093.9L685.1 1094.1"/><path d="M685.1 1119.3L404.7 1119.3"/><path d="M404.7 1096.5L419.8 1096.3L456.0 1095.0L475.6 1094.8L494.0 1095.0L526.4 1096.2L540.7 1096.5L557.5 1096.3L594.5 1095.0L614.2 1094.8L633.8 1095.0L670.0 1096.3L685.1 1096.5"/><path d="M685.1 1118.4L614.2 1118.6L549.1 1118.4L475.6 1118.6L404.7 1118.4"/><path d="M404.7 1099.2L424.9 1098.9L460.1 1097.5L475.6 1097.2L489.4 1097.4L520.8 1098.7L539.2 1099.2L561.6 1099.0L598.9 1097.5L614.2 1097.2L629.7 1097.5L664.9 1098.9L685.1 1099.2"/><path d="M685.1 1115.9L614.2 1116.5L545.0 1115.9L496.0 1116.4L467.7 1116.5L404.7 1115.9"/><path d="M404.7 1102.8L417.2 1102.6L451.4 1101.1L475.6 1100.7L500.5 1101.1L533.5 1102.6L544.8 1102.8L556.0 1102.6L592.5 1101.0L607.3 1100.7L621.8 1100.8L640.4 1101.1L672.6 1102.6L685.1 1102.8"/><path d="M685.1 1112.7L670.0 1112.9L632.0 1114.5L614.2 1114.8L597.8 1114.5L563.7 1113.1L548.9 1112.7L532.3 1112.9L493.5 1114.5L475.6 1114.8L457.8 1114.5L419.8 1112.9L404.7 1112.7"/></g><linearGradient id="dgr" x1="0" y1="0" x2="0" y2="1"><stop offset="0" stop-color="#dedede"/><stop offset="1" stop-color="#c4c4c4"/></linearGradient><rect x="406.5" y="1118.5" width="276.8" height="12.5" fill="url(#dgr)"/><path d="M404.7 935.3L418.7 935.2L430.2 934.8L438.2 934.1L440.3 933.7L441.1 933.3L440.9 933.1L440.2 932.8L438.4 932.4L430.6 931.6L419.0 931.1L404.7 931.0" fill="none" stroke="#c4c4c4" stroke-width="0.6"/><path d="M551.3 935.3L561.3 935.1L569.3 934.8L575.0 934.3L578.7 933.7L579.2 933.5L579.5 933.3L579.4 933.1L578.6 932.8L576.8 932.4L571.8 931.8L565.5 931.4L547.3 931.0L528.2 931.2L520.8 931.6L514.9 932.1L511.2 932.8L510.4 933.1L510.3 933.3L511.1 933.7L513.9 934.2L523.1 934.9L536.4 935.3L551.3 935.3" fill="none" stroke="#c4c4c4" stroke-width="0.6"/><path d="M685.1 931.0L670.8 931.1L659.2 931.6L651.4 932.4L649.6 932.8L648.9 933.1L648.7 933.3L649.5 933.7L651.6 934.1L659.6 934.8L671.1 935.2L685.1 935.3" fill="none" stroke="#c4c4c4" stroke-width="0.6"/><path d="M483.3 1110.1L471.0 1110.1L458.5 1109.7L447.6 1108.7L445.5 1108.3L445.0 1108.1L444.6 1107.7L445.3 1107.3L446.6 1107.0L450.6 1106.2L456.5 1105.4L462.9 1104.8L474.4 1104.3L480.0 1104.3L485.8 1104.6L493.1 1105.2L500.7 1106.2L505.5 1107.1L506.5 1107.5L506.7 1107.7L506.7 1107.9L505.0 1108.5L500.4 1109.1L492.6 1109.7L483.3 1110.1" fill="none" stroke="#c4c4c4" stroke-width="0.6"/><path d="M621.8 1110.1L609.6 1110.1L597.1 1109.7L586.0 1108.7L583.9 1108.3L583.4 1108.1L583.1 1107.7L583.7 1107.3L585.0 1107.0L589.1 1106.2L594.9 1105.4L601.2 1104.8L612.6 1104.3L618.2 1104.3L624.1 1104.6L631.5 1105.2L639.2 1106.2L644.0 1107.1L644.9 1107.5L645.2 1107.7L645.1 1107.9L643.4 1108.5L638.8 1109.1L631.0 1109.7L621.8 1110.1" fill="none" stroke="#c4c4c4" stroke-width="0.6"/><path d="M685.1 929.3L660.3 929.5L639.4 930.3L631.5 930.8L625.5 931.4L614.2 933.1L604.3 931.6L594.8 930.7L581.8 930.0L565.2 929.5L550.4 929.3L535.6 929.3L520.8 929.6L507.3 930.0L497.6 930.5L489.4 931.1L482.7 932.0L475.6 933.1L464.3 931.4L458.3 930.8L450.4 930.3L429.5 929.5L404.7 929.3" fill="none" stroke="#ff0000" stroke-width="1.3"/><path d="M404.7 936.8L429.7 936.6L450.9 935.9L463.8 934.9L470.0 934.1L475.6 933.1L484.2 934.5L494.4 935.5L507.5 936.2L524.6 936.6L554.2 936.8L569.3 936.5L583.0 936.1L592.4 935.7L600.2 935.1L607.0 934.3L614.2 933.1L619.8 934.1L626.0 934.9L638.9 935.9L660.1 936.6L685.1 936.8" fill="none" stroke="#ff0000" stroke-width="1.3"/><path d="M404.7 1108.1L408.3 1108.1L420.0 1107.0L458.5 1103.1L467.5 1102.6L475.6 1102.4L484.6 1102.6L494.0 1103.2L527.2 1106.6L544.3 1108.1L547.1 1108.0L560.6 1106.8L596.3 1103.2L605.2 1102.6L613.9 1102.4L622.1 1102.6L631.0 1103.1L669.8 1107.0L681.5 1108.1L685.1 1108.1" fill="none" stroke="#ff0000" stroke-width="1.3"/><path d="M685.1 1108.3L683.0 1108.1L681.8 1108.3L631.5 1111.5L622.3 1111.9L614.2 1112.0L605.0 1111.8L594.0 1111.3L546.4 1108.3L545.0 1108.1L496.0 1111.3L485.3 1111.8L476.1 1112.0L468.0 1111.9L458.5 1111.5L408.0 1108.3L406.8 1108.1L404.7 1108.3" fill="none" stroke="#ff0000" stroke-width="1.3"/></g>
<path d="M406.5 917.5V1130.4H683.3" fill="none" stroke="#262626" stroke-width="0.8"/>
<path d="M406.5 917.5H683.3" fill="none" stroke="#262626" stroke-width="0.8"/>
<path d="M683.3 917.5V1130.4" fill="none" stroke="#262626" stroke-width="0.8"/>
<path d="M406.5 1115.4h3M683.3 1115.4h-3" stroke="#262626" stroke-width="0.9"/>
<text x="402.8" y="1118.5" font-family="Liberation Sans" font-size="8.6" text-anchor="end" fill="#262626" >0.55</text>
<path d="M406.5 1093.4h3M683.3 1093.4h-3" stroke="#262626" stroke-width="0.9"/>
<text x="402.8" y="1096.5" font-family="Liberation Sans" font-size="8.6" text-anchor="end" fill="#262626" >0.6</text>
<path d="M406.5 1071.4h3M683.3 1071.4h-3" stroke="#262626" stroke-width="0.9"/>
<text x="402.8" y="1074.5" font-family="Liberation Sans" font-size="8.6" text-anchor="end" fill="#262626" >0.65</text>
<path d="M406.5 1049.4h3M683.3 1049.4h-3" stroke="#262626" stroke-width="0.9"/>
<text x="402.8" y="1052.5" font-family="Liberation Sans" font-size="8.6" text-anchor="end" fill="#262626" >0.7</text>
<path d="M406.5 1027.5h3M683.3 1027.5h-3" stroke="#262626" stroke-width="0.9"/>
<text x="402.8" y="1030.5" font-family="Liberation Sans" font-size="8.6" text-anchor="end" fill="#262626" >0.75</text>
<path d="M406.5 1005.5h3M683.3 1005.5h-3" stroke="#262626" stroke-width="0.9"/>
<text x="402.8" y="1008.6" font-family="Liberation Sans" font-size="8.6" text-anchor="end" fill="#262626" >0.8</text>
<path d="M406.5 983.5h3M683.3 983.5h-3" stroke="#262626" stroke-width="0.9"/>
<text x="402.8" y="986.6" font-family="Liberation Sans" font-size="8.6" text-anchor="end" fill="#262626" >0.85</text>
<path d="M406.5 961.5h3M683.3 961.5h-3" stroke="#262626" stroke-width="0.9"/>
<text x="402.8" y="964.6" font-family="Liberation Sans" font-size="8.6" text-anchor="end" fill="#262626" >0.9</text>
<path d="M406.5 939.5h3M683.3 939.5h-3" stroke="#262626" stroke-width="0.9"/>
<text x="402.8" y="942.6" font-family="Liberation Sans" font-size="8.6" text-anchor="end" fill="#262626" >0.95</text>
<path d="M406.5 917.5h3M683.3 917.5h-3" stroke="#262626" stroke-width="0.9"/>
<text x="402.8" y="920.6" font-family="Liberation Sans" font-size="8.6" text-anchor="end" fill="#262626" >1</text>
<path d="M412.7 1130.4v-3M412.7 917.5v3" stroke="#262626" stroke-width="0.9"/>
<text x="412.7" y="1142.8" font-family="Liberation Sans" font-size="8.6" text-anchor="middle" fill="#262626" >-3</text>
<path d="M456.8 1130.4v-3M456.8 917.5v3" stroke="#262626" stroke-width="0.9"/>
<text x="456.8" y="1142.8" font-family="Liberation Sans" font-size="8.6" text-anchor="middle" fill="#262626" >-2</text>
<path d="M500.8 1130.4v-3M500.8 917.5v3" stroke="#262626" stroke-width="0.9"/>
<text x="500.8" y="1142.8" font-family="Liberation Sans" font-size="8.6" text-anchor="middle" fill="#262626" >-1</text>
<path d="M544.9 1130.4v-3M544.9 917.5v3" stroke="#262626" stroke-width="0.9"/>
<text x="544.9" y="1142.8" font-family="Liberation Sans" font-size="8.6" text-anchor="middle" fill="#262626" >0</text>
<path d="M589 1130.4v-3M589 917.5v3" stroke="#262626" stroke-width="0.9"/>
<text x="589" y="1142.8" font-family="Liberation Sans" font-size="8.6" text-anchor="middle" fill="#262626" >1</text>
<path d="M633 1130.4v-3M633 917.5v3" stroke="#262626" stroke-width="0.9"/>
<text x="633" y="1142.8" font-family="Liberation Sans" font-size="8.6" text-anchor="middle" fill="#262626" >2</text>
<path d="M677.1 1130.4v-3M677.1 917.5v3" stroke="#262626" stroke-width="0.9"/>
<text x="677.1" y="1142.8" font-family="Liberation Sans" font-size="8.6" text-anchor="middle" fill="#262626" >3</text>
<circle cx="406.5" cy="933.4" r="1.7" fill="#0000ff"/><circle cx="544.9" cy="933.4" r="1.7" fill="#0000ff"/><circle cx="683.3" cy="933.4" r="1.7" fill="#0000ff"/><circle cx="475.7" cy="1107.5" r="1.7" fill="#0000ff"/><circle cx="614.1" cy="1107.5" r="1.7" fill="#0000ff"/>
<text x="544.9" y="1160.9" font-family="Liberation Serif" font-size="17" text-anchor="middle" fill="#1a1a1a" font-style="italic" >g</text>
<text transform="translate(377.6 1024) rotate(-90)" x="0" y="0" font-family="Liberation Serif" font-style="italic" font-size="19.5" text-anchor="middle" fill="#1a1a1a">G</text>
<text x="267.65" y="279.40" font-family="Liberation Serif" font-size="22" text-anchor="middle" font-weight="bold" textLength="24.7" lengthAdjust="spacingAndGlyphs" fill="#000">(a)</text><rect x="285.92" y="265.10" width="0.95" height="18.10" fill="#111"/><text x="294.60" y="279.40" font-family="Liberation Serif" font-size="19.5" text-anchor="middle" font-style="italic" fill="#000">&#961;</text><rect x="302.92" y="265.10" width="0.95" height="18.10" fill="#111"/><rect x="310.60" y="271.65" width="12.00" height="0.9" fill="#111"/><rect x="310.60" y="275.75" width="12.00" height="0.9" fill="#111"/><text x="333.45" y="279.40" font-family="Liberation Serif" font-size="19.5" text-anchor="middle" font-style="italic" fill="#000">&#961;</text><rect x="339.00" y="273.20" width="8.70" height="8.2" fill="#000"/><text x="352.40" y="279.40" font-family="Liberation Serif" font-size="19" text-anchor="middle" fill="#000">,</text><text x="363.95" y="279.40" font-family="Liberation Serif" font-size="19.5" text-anchor="middle" font-style="italic" fill="#000">&#961;</text><rect x="369.50" y="273.20" width="9.40" height="8.2" fill="#000"/><path d="M385.30 274.84C387.71 270.66 390.39 271.99 392.00 273.70S396.29 276.74 398.70 272.56" fill="none" stroke="#000" stroke-width="0.95"/><text x="428.45" y="279.40" font-family="Liberation Serif" font-size="18.4" text-anchor="middle" textLength="50.6" lengthAdjust="spacingAndGlyphs" fill="#000">0.2518</text><text x="303.40" y="584.10" font-family="Liberation Serif" font-size="22" text-anchor="middle" font-weight="bold" textLength="25.4" lengthAdjust="spacingAndGlyphs" fill="#000">(b)</text><rect x="324.22" y="569.80" width="0.95" height="18.10" fill="#111"/><text x="332.30" y="584.10" font-family="Liberation Serif" font-size="19.5" text-anchor="middle" font-style="italic" fill="#000">&#961;</text><rect x="341.12" y="569.80" width="0.95" height="18.10" fill="#111"/><rect x="349.00" y="576.35" width="11.90" height="0.9" fill="#111"/><rect x="349.00" y="580.45" width="11.90" height="0.9" fill="#111"/><text x="391.40" y="584.10" font-family="Liberation Serif" font-size="18.4" text-anchor="middle" textLength="50.5" lengthAdjust="spacingAndGlyphs" fill="#000">0.2517</text><text x="268.70" y="888.70" font-family="Liberation Serif" font-size="22" text-anchor="middle" font-weight="bold" textLength="23.6" lengthAdjust="spacingAndGlyphs" fill="#000">(c)</text><rect x="286.92" y="874.40" width="0.95" height="18.10" fill="#111"/><text x="295.25" y="888.70" font-family="Liberation Serif" font-size="19.5" text-anchor="middle" font-style="italic" fill="#000">&#961;</text><rect x="303.82" y="874.40" width="0.95" height="18.10" fill="#111"/><rect x="311.90" y="880.95" width="12.40" height="0.9" fill="#111"/><rect x="311.90" y="885.05" width="12.40" height="0.9" fill="#111"/><text x="335.50" y="888.70" font-family="Liberation Serif" font-size="19.5" text-anchor="middle" font-style="italic" fill="#000">&#961;</text><path d="M344.60 882.30L348.40 888.10L344.60 893.90L340.80 888.10Z" fill="#000"/><text x="352.10" y="888.70" font-family="Liberation Serif" font-size="19" text-anchor="middle" fill="#000">,</text><text x="364.75" y="888.70" font-family="Liberation Serif" font-size="19.5" text-anchor="middle" font-style="italic" fill="#000">&#961;</text><path d="M374.05 882.30L378.10 888.10L374.05 893.90L370.00 888.10Z" fill="#000"/><path d="M384.10 884.14C386.40 879.96 388.96 881.29 390.50 883.00S394.60 886.04 396.90 881.86" fill="none" stroke="#000" stroke-width="0.95"/><text x="426.70" y="888.70" font-family="Liberation Serif" font-size="18.4" text-anchor="middle" textLength="49.8" lengthAdjust="spacingAndGlyphs" fill="#000">0.2514</text><text x="309.25" y="1193.70" font-family="Liberation Serif" font-size="22" text-anchor="middle" font-weight="bold" textLength="26.0" lengthAdjust="spacingAndGlyphs" fill="#000">(d)</text><rect x="333.32" y="1179.40" width="0.95" height="18.10" fill="#111"/><text x="341.40" y="1193.70" font-family="Liberation Serif" font-size="19.5" text-anchor="middle" font-style="italic" fill="#000">&#961;</text><rect x="349.82" y="1179.40" width="0.95" height="18.10" fill="#111"/><rect x="358.20" y="1185.95" width="12.00" height="0.9" fill="#111"/><rect x="358.20" y="1190.05" width="12.00" height="0.9" fill="#111"/><text x="391.40" y="1193.70" font-family="Liberation Serif" font-size="18.4" text-anchor="middle" textLength="32.4" lengthAdjust="spacingAndGlyphs" fill="#000">0.22</text></svg>
</body></html>
